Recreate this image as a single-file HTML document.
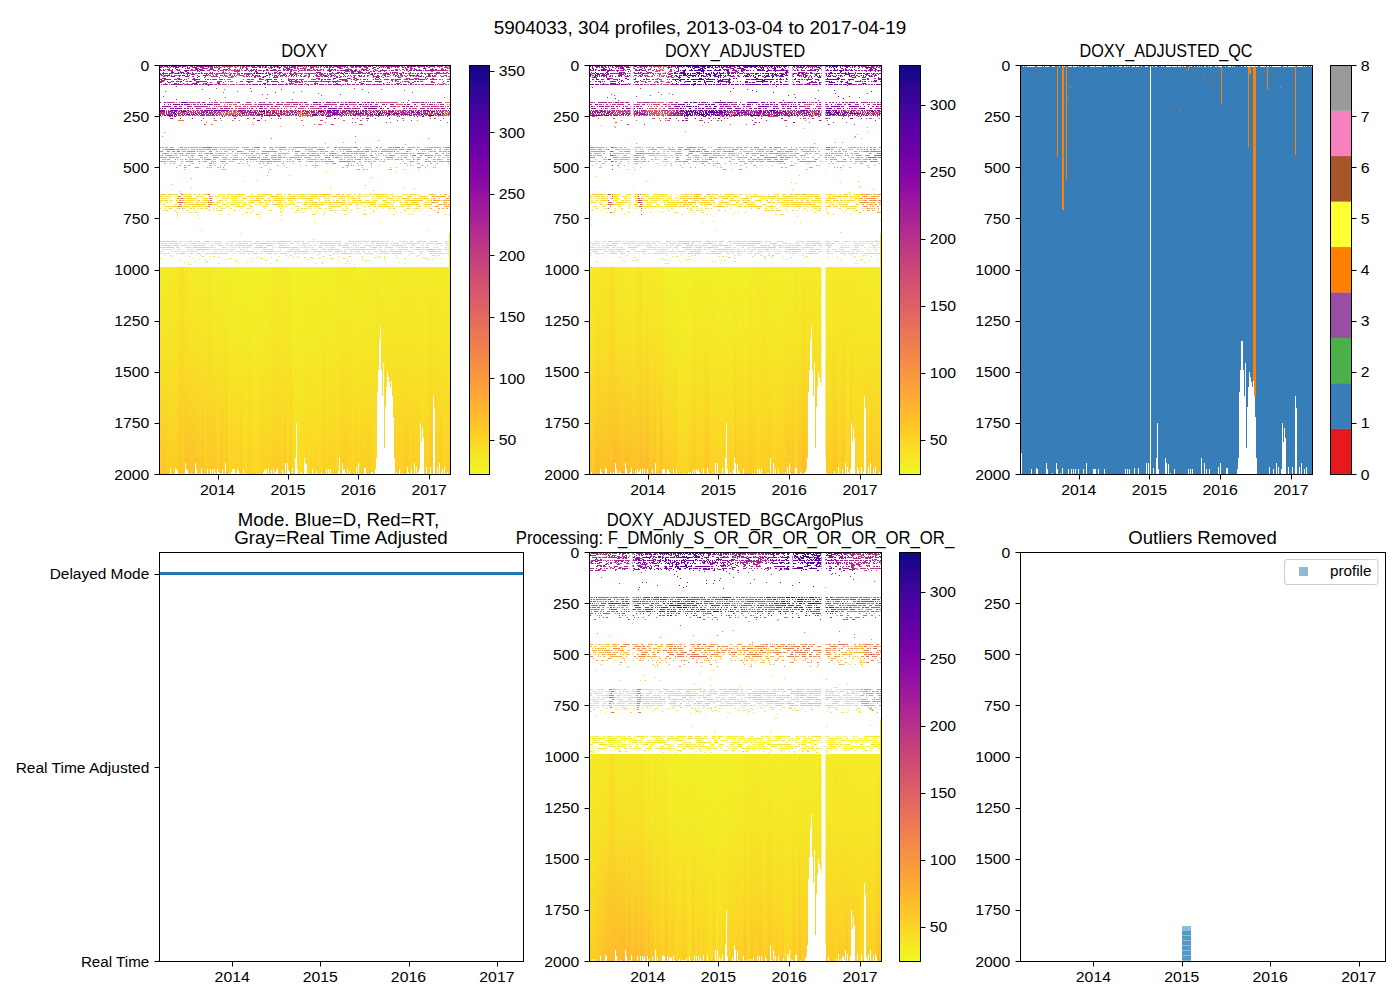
<!DOCTYPE html><html><head><meta charset="utf-8"><style>html,body{margin:0;padding:0;background:#fff;overflow:hidden}svg{display:block}</style></head><body><svg width="1400" height="1000" viewBox="0 0 1400 1000"><defs><linearGradient id="h1ga" gradientUnits="userSpaceOnUse" x1="159" y1="0" x2="451" y2="0"><stop offset="0.0017" stop-color="#f4ed27"/><stop offset="0.0051" stop-color="#f4ed27"/><stop offset="0.0086" stop-color="#f4ed27"/><stop offset="0.0120" stop-color="#f5eb27"/><stop offset="0.0154" stop-color="#f4ed27"/><stop offset="0.0188" stop-color="#f5eb27"/><stop offset="0.0223" stop-color="#f5e926"/><stop offset="0.0257" stop-color="#f5eb27"/><stop offset="0.0291" stop-color="#f5eb27"/><stop offset="0.0325" stop-color="#f5eb27"/><stop offset="0.0360" stop-color="#f5e926"/><stop offset="0.0394" stop-color="#f5e926"/><stop offset="0.0428" stop-color="#f5eb27"/><stop offset="0.0462" stop-color="#f5e926"/><stop offset="0.0497" stop-color="#f5eb27"/><stop offset="0.0531" stop-color="#f5eb27"/><stop offset="0.0565" stop-color="#f5e926"/><stop offset="0.0599" stop-color="#f5e926"/><stop offset="0.0634" stop-color="#f5e926"/><stop offset="0.0668" stop-color="#f6e826"/><stop offset="0.0702" stop-color="#f6e626"/><stop offset="0.0736" stop-color="#f7e225"/><stop offset="0.0771" stop-color="#f8df25"/><stop offset="0.0805" stop-color="#f8e125"/><stop offset="0.0839" stop-color="#f7e425"/><stop offset="0.0873" stop-color="#f6e826"/><stop offset="0.0908" stop-color="#f5e926"/><stop offset="0.0942" stop-color="#f5e926"/><stop offset="0.0976" stop-color="#f5eb27"/><stop offset="0.1010" stop-color="#f5eb27"/><stop offset="0.1045" stop-color="#f4ed27"/><stop offset="0.1079" stop-color="#f4ed27"/><stop offset="0.1113" stop-color="#f5eb27"/><stop offset="0.1147" stop-color="#f4ed27"/><stop offset="0.1182" stop-color="#f5eb27"/><stop offset="0.1216" stop-color="#f5eb27"/><stop offset="0.1250" stop-color="#f4ed27"/><stop offset="0.1284" stop-color="#f4ed27"/><stop offset="0.1318" stop-color="#f5eb27"/><stop offset="0.1353" stop-color="#f5eb27"/><stop offset="0.1387" stop-color="#f4ed27"/><stop offset="0.1421" stop-color="#f4ed27"/><stop offset="0.1455" stop-color="#f4ed27"/><stop offset="0.1490" stop-color="#f5eb27"/><stop offset="0.1524" stop-color="#f4ed27"/><stop offset="0.1558" stop-color="#f4ed27"/><stop offset="0.1592" stop-color="#f5e926"/><stop offset="0.1627" stop-color="#f5eb27"/><stop offset="0.1661" stop-color="#f5e926"/><stop offset="0.1695" stop-color="#f5e926"/><stop offset="0.1729" stop-color="#f5e926"/><stop offset="0.1764" stop-color="#f5e926"/><stop offset="0.1798" stop-color="#f5eb27"/><stop offset="0.1832" stop-color="#f3ee27"/><stop offset="0.1866" stop-color="#f3ee27"/><stop offset="0.1901" stop-color="#f4ed27"/><stop offset="0.1935" stop-color="#f3f027"/><stop offset="0.1969" stop-color="#f3ee27"/><stop offset="0.2003" stop-color="#f3ee27"/><stop offset="0.2038" stop-color="#f3ee27"/><stop offset="0.2072" stop-color="#f3ee27"/><stop offset="0.2106" stop-color="#f3f027"/><stop offset="0.2140" stop-color="#f4ed27"/><stop offset="0.2175" stop-color="#f4ed27"/><stop offset="0.2209" stop-color="#f3f027"/><stop offset="0.2243" stop-color="#f3f027"/><stop offset="0.2277" stop-color="#f3ee27"/><stop offset="0.2312" stop-color="#f5eb27"/><stop offset="0.2346" stop-color="#f3ee27"/><stop offset="0.2380" stop-color="#f3f027"/><stop offset="0.2414" stop-color="#f3ee27"/><stop offset="0.2449" stop-color="#f3f027"/><stop offset="0.2483" stop-color="#f3f027"/><stop offset="0.2517" stop-color="#f2f227"/><stop offset="0.2551" stop-color="#f3f027"/><stop offset="0.2586" stop-color="#f3f027"/><stop offset="0.2620" stop-color="#f2f227"/><stop offset="0.2654" stop-color="#f3f027"/><stop offset="0.2688" stop-color="#f3f027"/><stop offset="0.2723" stop-color="#f2f227"/><stop offset="0.2757" stop-color="#f3f027"/><stop offset="0.2791" stop-color="#f3ee27"/><stop offset="0.2825" stop-color="#f3f027"/><stop offset="0.2860" stop-color="#f2f227"/><stop offset="0.2894" stop-color="#f2f227"/><stop offset="0.2928" stop-color="#f3f027"/><stop offset="0.2962" stop-color="#f3f027"/><stop offset="0.2997" stop-color="#f3ee27"/><stop offset="0.3031" stop-color="#f3f027"/><stop offset="0.3065" stop-color="#f3f027"/><stop offset="0.3099" stop-color="#f3f027"/><stop offset="0.3134" stop-color="#f3ee27"/><stop offset="0.3168" stop-color="#f2f227"/><stop offset="0.3202" stop-color="#f3f027"/><stop offset="0.3236" stop-color="#f2f227"/><stop offset="0.3271" stop-color="#f2f227"/><stop offset="0.3305" stop-color="#f2f227"/><stop offset="0.3339" stop-color="#f3f027"/><stop offset="0.3373" stop-color="#f2f227"/><stop offset="0.3408" stop-color="#f2f227"/><stop offset="0.3442" stop-color="#f2f227"/><stop offset="0.3476" stop-color="#f3f027"/><stop offset="0.3510" stop-color="#f3f027"/><stop offset="0.3545" stop-color="#f2f227"/><stop offset="0.3579" stop-color="#f3f027"/><stop offset="0.3613" stop-color="#f3f027"/><stop offset="0.3647" stop-color="#f2f227"/><stop offset="0.3682" stop-color="#f3f027"/><stop offset="0.3716" stop-color="#f2f227"/><stop offset="0.3750" stop-color="#f3ee27"/><stop offset="0.3784" stop-color="#f3ee27"/><stop offset="0.3818" stop-color="#f3ee27"/><stop offset="0.3853" stop-color="#f3ee27"/><stop offset="0.3887" stop-color="#f4ed27"/><stop offset="0.3921" stop-color="#f3ee27"/><stop offset="0.3955" stop-color="#f5eb27"/><stop offset="0.3990" stop-color="#f5eb27"/><stop offset="0.4024" stop-color="#f5eb27"/><stop offset="0.4058" stop-color="#f5eb27"/><stop offset="0.4092" stop-color="#f5eb27"/><stop offset="0.4127" stop-color="#f4ed27"/><stop offset="0.4161" stop-color="#f3ee27"/><stop offset="0.4195" stop-color="#f4ed27"/><stop offset="0.4229" stop-color="#f4ed27"/><stop offset="0.4264" stop-color="#f3ee27"/><stop offset="0.4298" stop-color="#f4ed27"/><stop offset="0.4332" stop-color="#f4ed27"/><stop offset="0.4366" stop-color="#f3ee27"/><stop offset="0.4401" stop-color="#f5eb27"/><stop offset="0.4435" stop-color="#f3ee27"/><stop offset="0.4469" stop-color="#f3ee27"/><stop offset="0.4503" stop-color="#f4ed27"/><stop offset="0.4538" stop-color="#f3ee27"/><stop offset="0.4572" stop-color="#f2f227"/><stop offset="0.4606" stop-color="#f2f227"/><stop offset="0.4640" stop-color="#f2f227"/><stop offset="0.4675" stop-color="#f2f227"/><stop offset="0.4709" stop-color="#f3ee27"/><stop offset="0.4743" stop-color="#f3f027"/><stop offset="0.4777" stop-color="#f2f227"/><stop offset="0.4812" stop-color="#f2f227"/><stop offset="0.4846" stop-color="#f3f027"/><stop offset="0.4880" stop-color="#f2f227"/><stop offset="0.4914" stop-color="#f2f227"/><stop offset="0.4949" stop-color="#f2f227"/><stop offset="0.4983" stop-color="#f2f227"/><stop offset="0.5017" stop-color="#f3f027"/><stop offset="0.5051" stop-color="#f3f027"/><stop offset="0.5086" stop-color="#f3f027"/><stop offset="0.5120" stop-color="#f3ee27"/><stop offset="0.5154" stop-color="#f2f227"/><stop offset="0.5188" stop-color="#f3f027"/><stop offset="0.5223" stop-color="#f3f027"/><stop offset="0.5257" stop-color="#f2f227"/><stop offset="0.5291" stop-color="#f3f027"/><stop offset="0.5325" stop-color="#f3ee27"/><stop offset="0.5360" stop-color="#f2f227"/><stop offset="0.5394" stop-color="#f3f027"/><stop offset="0.5428" stop-color="#f2f227"/><stop offset="0.5462" stop-color="#f3f027"/><stop offset="0.5497" stop-color="#f3ee27"/><stop offset="0.5531" stop-color="#f3ee27"/><stop offset="0.5565" stop-color="#f3ee27"/><stop offset="0.5599" stop-color="#f3f027"/><stop offset="0.5634" stop-color="#f3ee27"/><stop offset="0.5668" stop-color="#f3ee27"/><stop offset="0.5702" stop-color="#f3f027"/><stop offset="0.5736" stop-color="#f3f027"/><stop offset="0.5771" stop-color="#f2f227"/><stop offset="0.5805" stop-color="#f3f027"/><stop offset="0.5839" stop-color="#f3f027"/><stop offset="0.5873" stop-color="#f3f027"/><stop offset="0.5908" stop-color="#f3f027"/><stop offset="0.5942" stop-color="#f2f227"/><stop offset="0.5976" stop-color="#f2f227"/><stop offset="0.6010" stop-color="#f3f027"/><stop offset="0.6045" stop-color="#f3f027"/><stop offset="0.6079" stop-color="#f3ee27"/><stop offset="0.6113" stop-color="#f4ed27"/><stop offset="0.6147" stop-color="#f3ee27"/><stop offset="0.6182" stop-color="#f3ee27"/><stop offset="0.6216" stop-color="#f3ee27"/><stop offset="0.6250" stop-color="#f3ee27"/><stop offset="0.6284" stop-color="#f3ee27"/><stop offset="0.6318" stop-color="#f3ee27"/><stop offset="0.6353" stop-color="#f3ee27"/><stop offset="0.6387" stop-color="#f4ed27"/><stop offset="0.6421" stop-color="#f4ed27"/><stop offset="0.6455" stop-color="#f3ee27"/><stop offset="0.6490" stop-color="#f3ee27"/><stop offset="0.6524" stop-color="#f3ee27"/><stop offset="0.6558" stop-color="#f3ee27"/><stop offset="0.6592" stop-color="#f3f027"/><stop offset="0.6627" stop-color="#f3ee27"/><stop offset="0.6661" stop-color="#f5eb27"/><stop offset="0.6695" stop-color="#f3f027"/><stop offset="0.6729" stop-color="#f4ed27"/><stop offset="0.6764" stop-color="#f3f027"/><stop offset="0.6798" stop-color="#f3f027"/><stop offset="0.6832" stop-color="#f3f027"/><stop offset="0.6866" stop-color="#f3ee27"/><stop offset="0.6901" stop-color="#f3f027"/><stop offset="0.6935" stop-color="#f3ee27"/><stop offset="0.6969" stop-color="#f3ee27"/><stop offset="0.7003" stop-color="#f3f027"/><stop offset="0.7038" stop-color="#f3f027"/><stop offset="0.7072" stop-color="#f3f027"/><stop offset="0.7106" stop-color="#f3ee27"/><stop offset="0.7140" stop-color="#f4ed27"/><stop offset="0.7175" stop-color="#f3ee27"/><stop offset="0.7209" stop-color="#f3ee27"/><stop offset="0.7243" stop-color="#f3f027"/><stop offset="0.7277" stop-color="#f4ed27"/><stop offset="0.7312" stop-color="#f3ee27"/><stop offset="0.7346" stop-color="#f3f027"/><stop offset="0.7380" stop-color="#f3ee27"/><stop offset="0.7414" stop-color="#f5eb27"/><stop offset="0.7449" stop-color="#f5e926"/><stop offset="0.7483" stop-color="#f5e926"/><stop offset="0.7517" stop-color="#f5e926"/><stop offset="0.7551" stop-color="#f4ed27"/><stop offset="0.7586" stop-color="#f4ed27"/><stop offset="0.7620" stop-color="#f4ed27"/><stop offset="0.7654" stop-color="#f3ee27"/><stop offset="0.7688" stop-color="#f4ed27"/><stop offset="0.7723" stop-color="#f3ee27"/><stop offset="0.7757" stop-color="#f3ee27"/><stop offset="0.7791" stop-color="#f4ed27"/><stop offset="0.7825" stop-color="#f5eb27"/><stop offset="0.7860" stop-color="#f4ed27"/><stop offset="0.7894" stop-color="#f3ee27"/><stop offset="0.7928" stop-color="#f4ed27"/><stop offset="0.7962" stop-color="#f4ed27"/><stop offset="0.7997" stop-color="#f3ee27"/><stop offset="0.8031" stop-color="#f4ed27"/><stop offset="0.8065" stop-color="#f4ed27"/><stop offset="0.8099" stop-color="#f3ee27"/><stop offset="0.8134" stop-color="#f5eb27"/><stop offset="0.8168" stop-color="#f4ed27"/><stop offset="0.8202" stop-color="#f3ee27"/><stop offset="0.8236" stop-color="#f4ed27"/><stop offset="0.8271" stop-color="#f5eb27"/><stop offset="0.8305" stop-color="#f5eb27"/><stop offset="0.8339" stop-color="#f5eb27"/><stop offset="0.8373" stop-color="#f4ed27"/><stop offset="0.8408" stop-color="#f4ed27"/><stop offset="0.8442" stop-color="#f4ed27"/><stop offset="0.8476" stop-color="#f4ed27"/><stop offset="0.8510" stop-color="#f4ed27"/><stop offset="0.8545" stop-color="#f3ee27"/><stop offset="0.8579" stop-color="#f4ed27"/><stop offset="0.8613" stop-color="#f5eb27"/><stop offset="0.8647" stop-color="#f5e926"/><stop offset="0.8682" stop-color="#f4ed27"/><stop offset="0.8716" stop-color="#f5eb27"/><stop offset="0.8750" stop-color="#f5eb27"/><stop offset="0.8784" stop-color="#f4ed27"/><stop offset="0.8818" stop-color="#f4ed27"/><stop offset="0.8853" stop-color="#f5eb27"/><stop offset="0.8887" stop-color="#f4ed27"/><stop offset="0.8921" stop-color="#f4ed27"/><stop offset="0.8955" stop-color="#f4ed27"/><stop offset="0.8990" stop-color="#f5eb27"/><stop offset="0.9024" stop-color="#f5e926"/><stop offset="0.9058" stop-color="#f5eb27"/><stop offset="0.9092" stop-color="#f4ed27"/><stop offset="0.9127" stop-color="#f4ed27"/><stop offset="0.9161" stop-color="#f4ed27"/><stop offset="0.9195" stop-color="#f4ed27"/><stop offset="0.9229" stop-color="#f4ed27"/><stop offset="0.9264" stop-color="#f5eb27"/><stop offset="0.9298" stop-color="#f5eb27"/><stop offset="0.9332" stop-color="#f5e926"/><stop offset="0.9366" stop-color="#f5eb27"/><stop offset="0.9401" stop-color="#f4ed27"/><stop offset="0.9435" stop-color="#f5eb27"/><stop offset="0.9469" stop-color="#f5eb27"/><stop offset="0.9503" stop-color="#f4ed27"/><stop offset="0.9538" stop-color="#f5eb27"/><stop offset="0.9572" stop-color="#f5eb27"/><stop offset="0.9606" stop-color="#f4ed27"/><stop offset="0.9640" stop-color="#f4ed27"/><stop offset="0.9675" stop-color="#f4ed27"/><stop offset="0.9709" stop-color="#f4ed27"/><stop offset="0.9743" stop-color="#f4ed27"/><stop offset="0.9777" stop-color="#f5eb27"/><stop offset="0.9812" stop-color="#f4ed27"/><stop offset="0.9846" stop-color="#f4ed27"/><stop offset="0.9880" stop-color="#f3ee27"/><stop offset="0.9914" stop-color="#f3ee27"/><stop offset="0.9949" stop-color="#f4ed27"/><stop offset="0.9983" stop-color="#f4ed27"/></linearGradient><linearGradient id="h1gb" gradientUnits="userSpaceOnUse" x1="159" y1="0" x2="451" y2="0"><stop offset="0.0017" stop-color="#fdc627"/><stop offset="0.0051" stop-color="#fdc827"/><stop offset="0.0086" stop-color="#fdc827"/><stop offset="0.0120" stop-color="#fdc527"/><stop offset="0.0154" stop-color="#fdc827"/><stop offset="0.0188" stop-color="#fdc827"/><stop offset="0.0223" stop-color="#fdc328"/><stop offset="0.0257" stop-color="#fdca26"/><stop offset="0.0291" stop-color="#fccd25"/><stop offset="0.0325" stop-color="#fccd25"/><stop offset="0.0360" stop-color="#fdca26"/><stop offset="0.0394" stop-color="#fdcb26"/><stop offset="0.0428" stop-color="#fcd025"/><stop offset="0.0462" stop-color="#fcce25"/><stop offset="0.0497" stop-color="#fccd25"/><stop offset="0.0531" stop-color="#fdca26"/><stop offset="0.0565" stop-color="#fdcb26"/><stop offset="0.0599" stop-color="#fdcb26"/><stop offset="0.0634" stop-color="#fdc827"/><stop offset="0.0668" stop-color="#fdc627"/><stop offset="0.0702" stop-color="#fdc527"/><stop offset="0.0736" stop-color="#fdc328"/><stop offset="0.0771" stop-color="#fdc827"/><stop offset="0.0805" stop-color="#fdc827"/><stop offset="0.0839" stop-color="#fdc627"/><stop offset="0.0873" stop-color="#fdc229"/><stop offset="0.0908" stop-color="#febe2a"/><stop offset="0.0942" stop-color="#febd2a"/><stop offset="0.0976" stop-color="#febe2a"/><stop offset="0.1010" stop-color="#fec029"/><stop offset="0.1045" stop-color="#fec029"/><stop offset="0.1079" stop-color="#fdc229"/><stop offset="0.1113" stop-color="#fdc229"/><stop offset="0.1147" stop-color="#fdc229"/><stop offset="0.1182" stop-color="#febe2a"/><stop offset="0.1216" stop-color="#febe2a"/><stop offset="0.1250" stop-color="#fec029"/><stop offset="0.1284" stop-color="#fdc229"/><stop offset="0.1318" stop-color="#fdc527"/><stop offset="0.1353" stop-color="#fdc627"/><stop offset="0.1387" stop-color="#fdc328"/><stop offset="0.1421" stop-color="#fdc527"/><stop offset="0.1455" stop-color="#fdc627"/><stop offset="0.1490" stop-color="#fec029"/><stop offset="0.1524" stop-color="#fdc328"/><stop offset="0.1558" stop-color="#fdca26"/><stop offset="0.1592" stop-color="#fcce25"/><stop offset="0.1627" stop-color="#fdca26"/><stop offset="0.1661" stop-color="#fdc328"/><stop offset="0.1695" stop-color="#fdc627"/><stop offset="0.1729" stop-color="#fdc627"/><stop offset="0.1764" stop-color="#fdc527"/><stop offset="0.1798" stop-color="#fdc627"/><stop offset="0.1832" stop-color="#fdc627"/><stop offset="0.1866" stop-color="#fdc627"/><stop offset="0.1901" stop-color="#fdc328"/><stop offset="0.1935" stop-color="#fdc627"/><stop offset="0.1969" stop-color="#fdcb26"/><stop offset="0.2003" stop-color="#fdcb26"/><stop offset="0.2038" stop-color="#fcce25"/><stop offset="0.2072" stop-color="#fccd25"/><stop offset="0.2106" stop-color="#fdc827"/><stop offset="0.2140" stop-color="#fdc328"/><stop offset="0.2175" stop-color="#fdc328"/><stop offset="0.2209" stop-color="#fdcb26"/><stop offset="0.2243" stop-color="#fdcb26"/><stop offset="0.2277" stop-color="#fdc627"/><stop offset="0.2312" stop-color="#fec029"/><stop offset="0.2346" stop-color="#fdc827"/><stop offset="0.2380" stop-color="#fcd025"/><stop offset="0.2414" stop-color="#fbd324"/><stop offset="0.2449" stop-color="#fcd225"/><stop offset="0.2483" stop-color="#fcd025"/><stop offset="0.2517" stop-color="#fcd025"/><stop offset="0.2551" stop-color="#fcd025"/><stop offset="0.2586" stop-color="#fcd225"/><stop offset="0.2620" stop-color="#fcd025"/><stop offset="0.2654" stop-color="#fcd025"/><stop offset="0.2688" stop-color="#fcd025"/><stop offset="0.2723" stop-color="#fcd225"/><stop offset="0.2757" stop-color="#fcce25"/><stop offset="0.2791" stop-color="#fccd25"/><stop offset="0.2825" stop-color="#fcce25"/><stop offset="0.2860" stop-color="#fcd225"/><stop offset="0.2894" stop-color="#fbd324"/><stop offset="0.2928" stop-color="#fcd225"/><stop offset="0.2962" stop-color="#fad824"/><stop offset="0.2997" stop-color="#fada24"/><stop offset="0.3031" stop-color="#fcd025"/><stop offset="0.3065" stop-color="#fcd025"/><stop offset="0.3099" stop-color="#fcce25"/><stop offset="0.3134" stop-color="#fccd25"/><stop offset="0.3168" stop-color="#fbd724"/><stop offset="0.3202" stop-color="#fad824"/><stop offset="0.3236" stop-color="#fbd324"/><stop offset="0.3271" stop-color="#fbd524"/><stop offset="0.3305" stop-color="#fbd724"/><stop offset="0.3339" stop-color="#fada24"/><stop offset="0.3373" stop-color="#fbd324"/><stop offset="0.3408" stop-color="#fcd225"/><stop offset="0.3442" stop-color="#fbd724"/><stop offset="0.3476" stop-color="#fcce25"/><stop offset="0.3510" stop-color="#fccd25"/><stop offset="0.3545" stop-color="#fcd225"/><stop offset="0.3579" stop-color="#fcce25"/><stop offset="0.3613" stop-color="#fcce25"/><stop offset="0.3647" stop-color="#fcd025"/><stop offset="0.3682" stop-color="#fcce25"/><stop offset="0.3716" stop-color="#fcce25"/><stop offset="0.3750" stop-color="#fcd225"/><stop offset="0.3784" stop-color="#fcd225"/><stop offset="0.3818" stop-color="#fcce25"/><stop offset="0.3853" stop-color="#fdcb26"/><stop offset="0.3887" stop-color="#fdc827"/><stop offset="0.3921" stop-color="#fdca26"/><stop offset="0.3955" stop-color="#fccd25"/><stop offset="0.3990" stop-color="#fdcb26"/><stop offset="0.4024" stop-color="#fdcb26"/><stop offset="0.4058" stop-color="#fdcb26"/><stop offset="0.4092" stop-color="#fccd25"/><stop offset="0.4127" stop-color="#fccd25"/><stop offset="0.4161" stop-color="#fdcb26"/><stop offset="0.4195" stop-color="#fcce25"/><stop offset="0.4229" stop-color="#fcd025"/><stop offset="0.4264" stop-color="#fcce25"/><stop offset="0.4298" stop-color="#fdca26"/><stop offset="0.4332" stop-color="#fdc827"/><stop offset="0.4366" stop-color="#fccd25"/><stop offset="0.4401" stop-color="#fad824"/><stop offset="0.4435" stop-color="#fbd524"/><stop offset="0.4469" stop-color="#fdcb26"/><stop offset="0.4503" stop-color="#fdc827"/><stop offset="0.4538" stop-color="#fdcb26"/><stop offset="0.4572" stop-color="#fcd225"/><stop offset="0.4606" stop-color="#fbd524"/><stop offset="0.4640" stop-color="#fbd724"/><stop offset="0.4675" stop-color="#fad824"/><stop offset="0.4709" stop-color="#f9dd25"/><stop offset="0.4743" stop-color="#f9dc24"/><stop offset="0.4777" stop-color="#fad824"/><stop offset="0.4812" stop-color="#f9dc24"/><stop offset="0.4846" stop-color="#f9dc24"/><stop offset="0.4880" stop-color="#fada24"/><stop offset="0.4914" stop-color="#fbd524"/><stop offset="0.4949" stop-color="#fbd724"/><stop offset="0.4983" stop-color="#fbd724"/><stop offset="0.5017" stop-color="#fcd225"/><stop offset="0.5051" stop-color="#fcd025"/><stop offset="0.5086" stop-color="#fcd225"/><stop offset="0.5120" stop-color="#fada24"/><stop offset="0.5154" stop-color="#fbd524"/><stop offset="0.5188" stop-color="#fcd025"/><stop offset="0.5223" stop-color="#fcd225"/><stop offset="0.5257" stop-color="#fbd524"/><stop offset="0.5291" stop-color="#fad824"/><stop offset="0.5325" stop-color="#fad824"/><stop offset="0.5360" stop-color="#fbd324"/><stop offset="0.5394" stop-color="#fcd025"/><stop offset="0.5428" stop-color="#fcd225"/><stop offset="0.5462" stop-color="#fbd524"/><stop offset="0.5497" stop-color="#fbd724"/><stop offset="0.5531" stop-color="#fbd724"/><stop offset="0.5565" stop-color="#fbd724"/><stop offset="0.5599" stop-color="#fbd324"/><stop offset="0.5634" stop-color="#fdcb26"/><stop offset="0.5668" stop-color="#fccd25"/><stop offset="0.5702" stop-color="#fcd025"/><stop offset="0.5736" stop-color="#fbd524"/><stop offset="0.5771" stop-color="#fcd225"/><stop offset="0.5805" stop-color="#fcce25"/><stop offset="0.5839" stop-color="#fcd025"/><stop offset="0.5873" stop-color="#fcd025"/><stop offset="0.5908" stop-color="#fcd025"/><stop offset="0.5942" stop-color="#fcd225"/><stop offset="0.5976" stop-color="#fcd025"/><stop offset="0.6010" stop-color="#fcd025"/><stop offset="0.6045" stop-color="#fcce25"/><stop offset="0.6079" stop-color="#fbd524"/><stop offset="0.6113" stop-color="#fad824"/><stop offset="0.6147" stop-color="#fbd324"/><stop offset="0.6182" stop-color="#fcd225"/><stop offset="0.6216" stop-color="#fcd025"/><stop offset="0.6250" stop-color="#fdcb26"/><stop offset="0.6284" stop-color="#fdcb26"/><stop offset="0.6318" stop-color="#fdcb26"/><stop offset="0.6353" stop-color="#fccd25"/><stop offset="0.6387" stop-color="#fdc827"/><stop offset="0.6421" stop-color="#fdc827"/><stop offset="0.6455" stop-color="#fccd25"/><stop offset="0.6490" stop-color="#fcce25"/><stop offset="0.6524" stop-color="#fcce25"/><stop offset="0.6558" stop-color="#fcce25"/><stop offset="0.6592" stop-color="#fcce25"/><stop offset="0.6627" stop-color="#fcd225"/><stop offset="0.6661" stop-color="#fada24"/><stop offset="0.6695" stop-color="#fccd25"/><stop offset="0.6729" stop-color="#fdca26"/><stop offset="0.6764" stop-color="#fcd025"/><stop offset="0.6798" stop-color="#fcd225"/><stop offset="0.6832" stop-color="#fcd225"/><stop offset="0.6866" stop-color="#fbd324"/><stop offset="0.6901" stop-color="#fcce25"/><stop offset="0.6935" stop-color="#fccd25"/><stop offset="0.6969" stop-color="#fccd25"/><stop offset="0.7003" stop-color="#fcce25"/><stop offset="0.7038" stop-color="#fcd025"/><stop offset="0.7072" stop-color="#fcd025"/><stop offset="0.7106" stop-color="#fdcb26"/><stop offset="0.7140" stop-color="#fdca26"/><stop offset="0.7175" stop-color="#fdca26"/><stop offset="0.7209" stop-color="#fdcb26"/><stop offset="0.7243" stop-color="#fcce25"/><stop offset="0.7277" stop-color="#fbd324"/><stop offset="0.7312" stop-color="#fcd025"/><stop offset="0.7346" stop-color="#fcce25"/><stop offset="0.7380" stop-color="#fcce25"/><stop offset="0.7414" stop-color="#fbd524"/><stop offset="0.7449" stop-color="#fad824"/><stop offset="0.7483" stop-color="#fbd724"/><stop offset="0.7517" stop-color="#fbd724"/><stop offset="0.7551" stop-color="#fcce25"/><stop offset="0.7586" stop-color="#fdc527"/><stop offset="0.7620" stop-color="#fdc627"/><stop offset="0.7654" stop-color="#fdca26"/><stop offset="0.7688" stop-color="#fccd25"/><stop offset="0.7723" stop-color="#fdcb26"/><stop offset="0.7757" stop-color="#fdca26"/><stop offset="0.7791" stop-color="#fdc627"/><stop offset="0.7825" stop-color="#fdc527"/><stop offset="0.7860" stop-color="#fdc627"/><stop offset="0.7894" stop-color="#fdca26"/><stop offset="0.7928" stop-color="#fcd025"/><stop offset="0.7962" stop-color="#fccd25"/><stop offset="0.7997" stop-color="#fdc827"/><stop offset="0.8031" stop-color="#fdc827"/><stop offset="0.8065" stop-color="#fdc827"/><stop offset="0.8099" stop-color="#fdca26"/><stop offset="0.8134" stop-color="#fcd025"/><stop offset="0.8168" stop-color="#fccd25"/><stop offset="0.8202" stop-color="#fdca26"/><stop offset="0.8236" stop-color="#fccd25"/><stop offset="0.8271" stop-color="#fcce25"/><stop offset="0.8305" stop-color="#fcce25"/><stop offset="0.8339" stop-color="#fcce25"/><stop offset="0.8373" stop-color="#fdcb26"/><stop offset="0.8408" stop-color="#fdc827"/><stop offset="0.8442" stop-color="#fdc827"/><stop offset="0.8476" stop-color="#fdc827"/><stop offset="0.8510" stop-color="#fdca26"/><stop offset="0.8545" stop-color="#fdca26"/><stop offset="0.8579" stop-color="#fccd25"/><stop offset="0.8613" stop-color="#fcd025"/><stop offset="0.8647" stop-color="#fbd324"/><stop offset="0.8682" stop-color="#fccd25"/><stop offset="0.8716" stop-color="#fdc827"/><stop offset="0.8750" stop-color="#fdca26"/><stop offset="0.8784" stop-color="#fcce25"/><stop offset="0.8818" stop-color="#fcd025"/><stop offset="0.8853" stop-color="#fdca26"/><stop offset="0.8887" stop-color="#fdcb26"/><stop offset="0.8921" stop-color="#fccd25"/><stop offset="0.8955" stop-color="#fccd25"/><stop offset="0.8990" stop-color="#fbd324"/><stop offset="0.9024" stop-color="#fbd724"/><stop offset="0.9058" stop-color="#fcd225"/><stop offset="0.9092" stop-color="#fcce25"/><stop offset="0.9127" stop-color="#fcce25"/><stop offset="0.9161" stop-color="#fcd025"/><stop offset="0.9195" stop-color="#fcce25"/><stop offset="0.9229" stop-color="#fdcb26"/><stop offset="0.9264" stop-color="#fdc827"/><stop offset="0.9298" stop-color="#fdc527"/><stop offset="0.9332" stop-color="#fdc328"/><stop offset="0.9366" stop-color="#fdc527"/><stop offset="0.9401" stop-color="#fcce25"/><stop offset="0.9435" stop-color="#fcd025"/><stop offset="0.9469" stop-color="#fdc627"/><stop offset="0.9503" stop-color="#fdcb26"/><stop offset="0.9538" stop-color="#fcce25"/><stop offset="0.9572" stop-color="#fcce25"/><stop offset="0.9606" stop-color="#fdc827"/><stop offset="0.9640" stop-color="#fdc627"/><stop offset="0.9675" stop-color="#fdcb26"/><stop offset="0.9709" stop-color="#fdcb26"/><stop offset="0.9743" stop-color="#fccd25"/><stop offset="0.9777" stop-color="#fcd225"/><stop offset="0.9812" stop-color="#fcd025"/><stop offset="0.9846" stop-color="#fcce25"/><stop offset="0.9880" stop-color="#fccd25"/><stop offset="0.9914" stop-color="#fdca26"/><stop offset="0.9949" stop-color="#fdca26"/><stop offset="0.9983" stop-color="#fdc827"/></linearGradient><linearGradient id="h1gm" gradientUnits="userSpaceOnUse" x1="0" y1="267" x2="0" y2="474"><stop offset="0" stop-color="#fff" stop-opacity="0"/><stop offset="0.35" stop-color="#fff" stop-opacity="0.2"/><stop offset="0.7" stop-color="#fff" stop-opacity="0.6"/><stop offset="1" stop-color="#fff" stop-opacity="1"/></linearGradient><mask id="h1mk" maskUnits="userSpaceOnUse" x="159" y="267" width="292" height="207"><rect x="159" y="267" width="292" height="207" fill="url(#h1gm)"/></mask><linearGradient id="h2ga" gradientUnits="userSpaceOnUse" x1="589" y1="0" x2="882" y2="0"><stop offset="0.0017" stop-color="#f5e926"/><stop offset="0.0051" stop-color="#f5eb27"/><stop offset="0.0085" stop-color="#f4ed27"/><stop offset="0.0119" stop-color="#f5eb27"/><stop offset="0.0154" stop-color="#f5e926"/><stop offset="0.0188" stop-color="#f5e926"/><stop offset="0.0222" stop-color="#f6e826"/><stop offset="0.0256" stop-color="#f6e826"/><stop offset="0.0290" stop-color="#f6e826"/><stop offset="0.0324" stop-color="#f6e826"/><stop offset="0.0358" stop-color="#f6e626"/><stop offset="0.0392" stop-color="#f5e926"/><stop offset="0.0427" stop-color="#f7e425"/><stop offset="0.0461" stop-color="#f5e926"/><stop offset="0.0495" stop-color="#f6e826"/><stop offset="0.0529" stop-color="#f5e926"/><stop offset="0.0563" stop-color="#f5e926"/><stop offset="0.0597" stop-color="#f6e826"/><stop offset="0.0631" stop-color="#f6e626"/><stop offset="0.0666" stop-color="#f6e626"/><stop offset="0.0700" stop-color="#f7e425"/><stop offset="0.0734" stop-color="#f8df25"/><stop offset="0.0768" stop-color="#f9dd25"/><stop offset="0.0802" stop-color="#f8e125"/><stop offset="0.0836" stop-color="#f7e225"/><stop offset="0.0870" stop-color="#f6e626"/><stop offset="0.0904" stop-color="#f6e826"/><stop offset="0.0939" stop-color="#f6e826"/><stop offset="0.0973" stop-color="#f5e926"/><stop offset="0.1007" stop-color="#f5eb27"/><stop offset="0.1041" stop-color="#f5eb27"/><stop offset="0.1075" stop-color="#f5e926"/><stop offset="0.1109" stop-color="#f5eb27"/><stop offset="0.1143" stop-color="#f5eb27"/><stop offset="0.1177" stop-color="#f5eb27"/><stop offset="0.1212" stop-color="#f5eb27"/><stop offset="0.1246" stop-color="#f5e926"/><stop offset="0.1280" stop-color="#f5eb27"/><stop offset="0.1314" stop-color="#f5eb27"/><stop offset="0.1348" stop-color="#f5eb27"/><stop offset="0.1382" stop-color="#f4ed27"/><stop offset="0.1416" stop-color="#f4ed27"/><stop offset="0.1451" stop-color="#f4ed27"/><stop offset="0.1485" stop-color="#f5eb27"/><stop offset="0.1519" stop-color="#f4ed27"/><stop offset="0.1553" stop-color="#f4ed27"/><stop offset="0.1587" stop-color="#f5eb27"/><stop offset="0.1621" stop-color="#f5eb27"/><stop offset="0.1655" stop-color="#f5e926"/><stop offset="0.1689" stop-color="#f6e626"/><stop offset="0.1724" stop-color="#f6e626"/><stop offset="0.1758" stop-color="#f7e425"/><stop offset="0.1792" stop-color="#f6e826"/><stop offset="0.1826" stop-color="#f5e926"/><stop offset="0.1860" stop-color="#f5eb27"/><stop offset="0.1894" stop-color="#f5eb27"/><stop offset="0.1928" stop-color="#f4ed27"/><stop offset="0.1962" stop-color="#f5eb27"/><stop offset="0.1997" stop-color="#f6e826"/><stop offset="0.2031" stop-color="#f5e926"/><stop offset="0.2065" stop-color="#f4ed27"/><stop offset="0.2099" stop-color="#f5e926"/><stop offset="0.2133" stop-color="#f5eb27"/><stop offset="0.2167" stop-color="#f4ed27"/><stop offset="0.2201" stop-color="#f4ed27"/><stop offset="0.2235" stop-color="#f5eb27"/><stop offset="0.2270" stop-color="#f5eb27"/><stop offset="0.2304" stop-color="#f5eb27"/><stop offset="0.2338" stop-color="#f6e826"/><stop offset="0.2372" stop-color="#f6e826"/><stop offset="0.2406" stop-color="#f4ed27"/><stop offset="0.2440" stop-color="#f5eb27"/><stop offset="0.2474" stop-color="#f5eb27"/><stop offset="0.2509" stop-color="#f4ed27"/><stop offset="0.2543" stop-color="#f4ed27"/><stop offset="0.2577" stop-color="#f4ed27"/><stop offset="0.2611" stop-color="#f3f027"/><stop offset="0.2645" stop-color="#f3f027"/><stop offset="0.2679" stop-color="#f3f027"/><stop offset="0.2713" stop-color="#f3f027"/><stop offset="0.2747" stop-color="#f3f027"/><stop offset="0.2782" stop-color="#f3f027"/><stop offset="0.2816" stop-color="#f3f027"/><stop offset="0.2850" stop-color="#f2f227"/><stop offset="0.2884" stop-color="#f3f027"/><stop offset="0.2918" stop-color="#f4ed27"/><stop offset="0.2952" stop-color="#f3f027"/><stop offset="0.2986" stop-color="#f3f027"/><stop offset="0.3020" stop-color="#f3f027"/><stop offset="0.3055" stop-color="#f3f027"/><stop offset="0.3089" stop-color="#f2f227"/><stop offset="0.3123" stop-color="#f3f027"/><stop offset="0.3157" stop-color="#f2f227"/><stop offset="0.3191" stop-color="#f2f227"/><stop offset="0.3225" stop-color="#f2f227"/><stop offset="0.3259" stop-color="#f2f227"/><stop offset="0.3294" stop-color="#f2f227"/><stop offset="0.3328" stop-color="#f2f227"/><stop offset="0.3362" stop-color="#f2f227"/><stop offset="0.3396" stop-color="#f2f227"/><stop offset="0.3430" stop-color="#f2f227"/><stop offset="0.3464" stop-color="#f3f027"/><stop offset="0.3498" stop-color="#f3f027"/><stop offset="0.3532" stop-color="#f2f227"/><stop offset="0.3567" stop-color="#f3f027"/><stop offset="0.3601" stop-color="#f3ee27"/><stop offset="0.3635" stop-color="#f3ee27"/><stop offset="0.3669" stop-color="#f4ed27"/><stop offset="0.3703" stop-color="#f3ee27"/><stop offset="0.3737" stop-color="#f3f027"/><stop offset="0.3771" stop-color="#f3f027"/><stop offset="0.3805" stop-color="#f3ee27"/><stop offset="0.3840" stop-color="#f3ee27"/><stop offset="0.3874" stop-color="#f3ee27"/><stop offset="0.3908" stop-color="#f3f027"/><stop offset="0.3942" stop-color="#f4ed27"/><stop offset="0.3976" stop-color="#f3f027"/><stop offset="0.4010" stop-color="#f3ee27"/><stop offset="0.4044" stop-color="#f4ed27"/><stop offset="0.4078" stop-color="#f3ee27"/><stop offset="0.4113" stop-color="#f3f027"/><stop offset="0.4147" stop-color="#f3f027"/><stop offset="0.4181" stop-color="#f3ee27"/><stop offset="0.4215" stop-color="#f3ee27"/><stop offset="0.4249" stop-color="#f3ee27"/><stop offset="0.4283" stop-color="#f3f027"/><stop offset="0.4317" stop-color="#f3f027"/><stop offset="0.4352" stop-color="#f3f027"/><stop offset="0.4386" stop-color="#f3f027"/><stop offset="0.4420" stop-color="#f2f227"/><stop offset="0.4454" stop-color="#f2f227"/><stop offset="0.4488" stop-color="#f3f027"/><stop offset="0.4522" stop-color="#f3f027"/><stop offset="0.4556" stop-color="#f3f027"/><stop offset="0.4590" stop-color="#f3f027"/><stop offset="0.4625" stop-color="#f3f027"/><stop offset="0.4659" stop-color="#f3f027"/><stop offset="0.4693" stop-color="#f3f027"/><stop offset="0.4727" stop-color="#f3f027"/><stop offset="0.4761" stop-color="#f3f027"/><stop offset="0.4795" stop-color="#f3f027"/><stop offset="0.4829" stop-color="#f3f027"/><stop offset="0.4863" stop-color="#f3f027"/><stop offset="0.4898" stop-color="#f3ee27"/><stop offset="0.4932" stop-color="#f3f027"/><stop offset="0.4966" stop-color="#f3ee27"/><stop offset="0.5000" stop-color="#f5eb27"/><stop offset="0.5034" stop-color="#f3f027"/><stop offset="0.5068" stop-color="#f3f027"/><stop offset="0.5102" stop-color="#f3ee27"/><stop offset="0.5137" stop-color="#f2f227"/><stop offset="0.5171" stop-color="#f2f227"/><stop offset="0.5205" stop-color="#f3f027"/><stop offset="0.5239" stop-color="#f3ee27"/><stop offset="0.5273" stop-color="#f3ee27"/><stop offset="0.5307" stop-color="#f2f227"/><stop offset="0.5341" stop-color="#f3ee27"/><stop offset="0.5375" stop-color="#f3f027"/><stop offset="0.5410" stop-color="#f3f027"/><stop offset="0.5444" stop-color="#f3f027"/><stop offset="0.5478" stop-color="#f3ee27"/><stop offset="0.5512" stop-color="#f4ed27"/><stop offset="0.5546" stop-color="#f3ee27"/><stop offset="0.5580" stop-color="#f3ee27"/><stop offset="0.5614" stop-color="#f3f027"/><stop offset="0.5648" stop-color="#f3f027"/><stop offset="0.5683" stop-color="#f3f027"/><stop offset="0.5717" stop-color="#f3ee27"/><stop offset="0.5751" stop-color="#f4ed27"/><stop offset="0.5785" stop-color="#f5eb27"/><stop offset="0.5819" stop-color="#f5eb27"/><stop offset="0.5853" stop-color="#f4ed27"/><stop offset="0.5887" stop-color="#f4ed27"/><stop offset="0.5922" stop-color="#f4ed27"/><stop offset="0.5956" stop-color="#f5e926"/><stop offset="0.5990" stop-color="#f5e926"/><stop offset="0.6024" stop-color="#f5e926"/><stop offset="0.6058" stop-color="#f5eb27"/><stop offset="0.6092" stop-color="#f4ed27"/><stop offset="0.6126" stop-color="#f4ed27"/><stop offset="0.6160" stop-color="#f3ee27"/><stop offset="0.6195" stop-color="#f3ee27"/><stop offset="0.6229" stop-color="#f3ee27"/><stop offset="0.6263" stop-color="#f3f027"/><stop offset="0.6297" stop-color="#f3f027"/><stop offset="0.6331" stop-color="#f3ee27"/><stop offset="0.6365" stop-color="#f3ee27"/><stop offset="0.6399" stop-color="#f3f027"/><stop offset="0.6433" stop-color="#f3f027"/><stop offset="0.6468" stop-color="#f3f027"/><stop offset="0.6502" stop-color="#f3ee27"/><stop offset="0.6536" stop-color="#f3ee27"/><stop offset="0.6570" stop-color="#f4ed27"/><stop offset="0.6604" stop-color="#f4ed27"/><stop offset="0.6638" stop-color="#f3f027"/><stop offset="0.6672" stop-color="#f3ee27"/><stop offset="0.6706" stop-color="#f3f027"/><stop offset="0.6741" stop-color="#f3f027"/><stop offset="0.6775" stop-color="#f4ed27"/><stop offset="0.6809" stop-color="#f4ed27"/><stop offset="0.6843" stop-color="#f3ee27"/><stop offset="0.6877" stop-color="#f3ee27"/><stop offset="0.6911" stop-color="#f3ee27"/><stop offset="0.6945" stop-color="#f4ed27"/><stop offset="0.6980" stop-color="#f4ed27"/><stop offset="0.7014" stop-color="#f3ee27"/><stop offset="0.7048" stop-color="#f5eb27"/><stop offset="0.7082" stop-color="#f6e626"/><stop offset="0.7116" stop-color="#f5eb27"/><stop offset="0.7150" stop-color="#f4ed27"/><stop offset="0.7184" stop-color="#f4ed27"/><stop offset="0.7218" stop-color="#f5eb27"/><stop offset="0.7253" stop-color="#f4ed27"/><stop offset="0.7287" stop-color="#f5e926"/><stop offset="0.7321" stop-color="#f6e826"/><stop offset="0.7355" stop-color="#f5e926"/><stop offset="0.7389" stop-color="#f5eb27"/><stop offset="0.7423" stop-color="#f5eb27"/><stop offset="0.7457" stop-color="#f5eb27"/><stop offset="0.7491" stop-color="#f5e926"/><stop offset="0.7526" stop-color="#f5e926"/><stop offset="0.7560" stop-color="#f5eb27"/><stop offset="0.7594" stop-color="#f5eb27"/><stop offset="0.7628" stop-color="#f5eb27"/><stop offset="0.7662" stop-color="#f4ed27"/><stop offset="0.7696" stop-color="#f5e926"/><stop offset="0.7730" stop-color="#f5eb27"/><stop offset="0.7765" stop-color="#f4ed27"/><stop offset="0.7799" stop-color="#f4ed27"/><stop offset="0.7833" stop-color="#f5eb27"/><stop offset="0.7867" stop-color="#f4ed27"/><stop offset="0.7901" stop-color="#f3ee27"/><stop offset="0.7935" stop-color="#f4ed27"/><stop offset="0.7969" stop-color="#f4ed27"/><stop offset="0.8003" stop-color="#f4ed27"/><stop offset="0.8038" stop-color="#f3ee27"/><stop offset="0.8072" stop-color="#f3ee27"/><stop offset="0.8106" stop-color="#f4ed27"/><stop offset="0.8140" stop-color="#f3ee27"/><stop offset="0.8174" stop-color="#f3ee27"/><stop offset="0.8208" stop-color="#f4ed27"/><stop offset="0.8242" stop-color="#f5eb27"/><stop offset="0.8276" stop-color="#f3ee27"/><stop offset="0.8311" stop-color="#f5eb27"/><stop offset="0.8345" stop-color="#f4ed27"/><stop offset="0.8379" stop-color="#f5e926"/><stop offset="0.8413" stop-color="#f6e826"/><stop offset="0.8447" stop-color="#f4ed27"/><stop offset="0.8481" stop-color="#f4ed27"/><stop offset="0.8515" stop-color="#f4ed27"/><stop offset="0.8549" stop-color="#f6e826"/><stop offset="0.8584" stop-color="#f5eb27"/><stop offset="0.8618" stop-color="#f5eb27"/><stop offset="0.8652" stop-color="#f5eb27"/><stop offset="0.8686" stop-color="#f5e926"/><stop offset="0.8720" stop-color="#f5e926"/><stop offset="0.8754" stop-color="#f4ed27"/><stop offset="0.8788" stop-color="#f5e926"/><stop offset="0.8823" stop-color="#f6e826"/><stop offset="0.8857" stop-color="#f6e826"/><stop offset="0.8891" stop-color="#f4ed27"/><stop offset="0.8925" stop-color="#f6e826"/><stop offset="0.8959" stop-color="#f5e926"/><stop offset="0.8993" stop-color="#f4ed27"/><stop offset="0.9027" stop-color="#f5e926"/><stop offset="0.9061" stop-color="#f5e926"/><stop offset="0.9096" stop-color="#f5eb27"/><stop offset="0.9130" stop-color="#f5eb27"/><stop offset="0.9164" stop-color="#f4ed27"/><stop offset="0.9198" stop-color="#f5eb27"/><stop offset="0.9232" stop-color="#f5eb27"/><stop offset="0.9266" stop-color="#f5eb27"/><stop offset="0.9300" stop-color="#f5e926"/><stop offset="0.9334" stop-color="#f5e926"/><stop offset="0.9369" stop-color="#f5eb27"/><stop offset="0.9403" stop-color="#f4ed27"/><stop offset="0.9437" stop-color="#f5eb27"/><stop offset="0.9471" stop-color="#f4ed27"/><stop offset="0.9505" stop-color="#f4ed27"/><stop offset="0.9539" stop-color="#f4ed27"/><stop offset="0.9573" stop-color="#f5eb27"/><stop offset="0.9608" stop-color="#f4ed27"/><stop offset="0.9642" stop-color="#f5eb27"/><stop offset="0.9676" stop-color="#f5eb27"/><stop offset="0.9710" stop-color="#f3ee27"/><stop offset="0.9744" stop-color="#f4ed27"/><stop offset="0.9778" stop-color="#f3ee27"/><stop offset="0.9812" stop-color="#f3ee27"/><stop offset="0.9846" stop-color="#f3ee27"/><stop offset="0.9881" stop-color="#f3ee27"/><stop offset="0.9915" stop-color="#f4ed27"/><stop offset="0.9949" stop-color="#f3ee27"/><stop offset="0.9983" stop-color="#f5eb27"/></linearGradient><linearGradient id="h2gb" gradientUnits="userSpaceOnUse" x1="589" y1="0" x2="882" y2="0"><stop offset="0.0017" stop-color="#fccd25"/><stop offset="0.0051" stop-color="#fdc627"/><stop offset="0.0085" stop-color="#fdc527"/><stop offset="0.0119" stop-color="#fdc527"/><stop offset="0.0154" stop-color="#fdca26"/><stop offset="0.0188" stop-color="#fdc627"/><stop offset="0.0222" stop-color="#febd2a"/><stop offset="0.0256" stop-color="#feba2c"/><stop offset="0.0290" stop-color="#febb2b"/><stop offset="0.0324" stop-color="#febd2a"/><stop offset="0.0358" stop-color="#feba2c"/><stop offset="0.0392" stop-color="#febe2a"/><stop offset="0.0427" stop-color="#fdc827"/><stop offset="0.0461" stop-color="#febe2a"/><stop offset="0.0495" stop-color="#febb2b"/><stop offset="0.0529" stop-color="#febd2a"/><stop offset="0.0563" stop-color="#febe2a"/><stop offset="0.0597" stop-color="#febe2a"/><stop offset="0.0631" stop-color="#fec029"/><stop offset="0.0666" stop-color="#febb2b"/><stop offset="0.0700" stop-color="#febd2a"/><stop offset="0.0734" stop-color="#fec029"/><stop offset="0.0768" stop-color="#fec029"/><stop offset="0.0802" stop-color="#febd2a"/><stop offset="0.0836" stop-color="#feb82c"/><stop offset="0.0870" stop-color="#feb82c"/><stop offset="0.0904" stop-color="#feb82c"/><stop offset="0.0939" stop-color="#feb82c"/><stop offset="0.0973" stop-color="#feba2c"/><stop offset="0.1007" stop-color="#feba2c"/><stop offset="0.1041" stop-color="#febb2b"/><stop offset="0.1075" stop-color="#fec029"/><stop offset="0.1109" stop-color="#febe2a"/><stop offset="0.1143" stop-color="#febb2b"/><stop offset="0.1177" stop-color="#fec029"/><stop offset="0.1212" stop-color="#febd2a"/><stop offset="0.1246" stop-color="#feba2c"/><stop offset="0.1280" stop-color="#febb2b"/><stop offset="0.1314" stop-color="#febb2b"/><stop offset="0.1348" stop-color="#febb2b"/><stop offset="0.1382" stop-color="#febd2a"/><stop offset="0.1416" stop-color="#febe2a"/><stop offset="0.1451" stop-color="#febe2a"/><stop offset="0.1485" stop-color="#fdc229"/><stop offset="0.1519" stop-color="#febe2a"/><stop offset="0.1553" stop-color="#febe2a"/><stop offset="0.1587" stop-color="#fdc229"/><stop offset="0.1621" stop-color="#fec029"/><stop offset="0.1655" stop-color="#fec029"/><stop offset="0.1689" stop-color="#fdc328"/><stop offset="0.1724" stop-color="#febb2b"/><stop offset="0.1758" stop-color="#feb72d"/><stop offset="0.1792" stop-color="#feba2c"/><stop offset="0.1826" stop-color="#febb2b"/><stop offset="0.1860" stop-color="#febb2b"/><stop offset="0.1894" stop-color="#febb2b"/><stop offset="0.1928" stop-color="#febd2a"/><stop offset="0.1962" stop-color="#febb2b"/><stop offset="0.1997" stop-color="#fdb52e"/><stop offset="0.2031" stop-color="#feba2c"/><stop offset="0.2065" stop-color="#fec029"/><stop offset="0.2099" stop-color="#fdc827"/><stop offset="0.2133" stop-color="#fdc527"/><stop offset="0.2167" stop-color="#fdc328"/><stop offset="0.2201" stop-color="#fec029"/><stop offset="0.2235" stop-color="#febd2a"/><stop offset="0.2270" stop-color="#febe2a"/><stop offset="0.2304" stop-color="#fdc627"/><stop offset="0.2338" stop-color="#fcce25"/><stop offset="0.2372" stop-color="#fccd25"/><stop offset="0.2406" stop-color="#fdc229"/><stop offset="0.2440" stop-color="#febd2a"/><stop offset="0.2474" stop-color="#febe2a"/><stop offset="0.2509" stop-color="#fdc229"/><stop offset="0.2543" stop-color="#fdcb26"/><stop offset="0.2577" stop-color="#fccd25"/><stop offset="0.2611" stop-color="#fdc827"/><stop offset="0.2645" stop-color="#fdca26"/><stop offset="0.2679" stop-color="#fdca26"/><stop offset="0.2713" stop-color="#fdca26"/><stop offset="0.2747" stop-color="#fdca26"/><stop offset="0.2782" stop-color="#fdca26"/><stop offset="0.2816" stop-color="#fdcb26"/><stop offset="0.2850" stop-color="#fcce25"/><stop offset="0.2884" stop-color="#fdcb26"/><stop offset="0.2918" stop-color="#fdc527"/><stop offset="0.2952" stop-color="#fccd25"/><stop offset="0.2986" stop-color="#fcce25"/><stop offset="0.3020" stop-color="#fcce25"/><stop offset="0.3055" stop-color="#fbd524"/><stop offset="0.3089" stop-color="#fbd524"/><stop offset="0.3123" stop-color="#fcd025"/><stop offset="0.3157" stop-color="#fbd524"/><stop offset="0.3191" stop-color="#fbd524"/><stop offset="0.3225" stop-color="#fbd324"/><stop offset="0.3259" stop-color="#fbd524"/><stop offset="0.3294" stop-color="#fbd324"/><stop offset="0.3328" stop-color="#fcd225"/><stop offset="0.3362" stop-color="#fcd225"/><stop offset="0.3396" stop-color="#fcd225"/><stop offset="0.3430" stop-color="#fcd025"/><stop offset="0.3464" stop-color="#fdcb26"/><stop offset="0.3498" stop-color="#fdcb26"/><stop offset="0.3532" stop-color="#fccd25"/><stop offset="0.3567" stop-color="#fdca26"/><stop offset="0.3601" stop-color="#fdc627"/><stop offset="0.3635" stop-color="#fdc827"/><stop offset="0.3669" stop-color="#fbd324"/><stop offset="0.3703" stop-color="#fcd225"/><stop offset="0.3737" stop-color="#fccd25"/><stop offset="0.3771" stop-color="#fccd25"/><stop offset="0.3805" stop-color="#fcce25"/><stop offset="0.3840" stop-color="#fcd225"/><stop offset="0.3874" stop-color="#fcd025"/><stop offset="0.3908" stop-color="#fdca26"/><stop offset="0.3942" stop-color="#fdc627"/><stop offset="0.3976" stop-color="#fdcb26"/><stop offset="0.4010" stop-color="#fdc627"/><stop offset="0.4044" stop-color="#fdc328"/><stop offset="0.4078" stop-color="#fdc827"/><stop offset="0.4113" stop-color="#fdcb26"/><stop offset="0.4147" stop-color="#fcce25"/><stop offset="0.4181" stop-color="#fcd225"/><stop offset="0.4215" stop-color="#fbd324"/><stop offset="0.4249" stop-color="#fbd324"/><stop offset="0.4283" stop-color="#fcd025"/><stop offset="0.4317" stop-color="#fccd25"/><stop offset="0.4352" stop-color="#fccd25"/><stop offset="0.4386" stop-color="#fcd225"/><stop offset="0.4420" stop-color="#fcce25"/><stop offset="0.4454" stop-color="#fcce25"/><stop offset="0.4488" stop-color="#fbd324"/><stop offset="0.4522" stop-color="#fbd324"/><stop offset="0.4556" stop-color="#fcd225"/><stop offset="0.4590" stop-color="#fcd225"/><stop offset="0.4625" stop-color="#fcd225"/><stop offset="0.4659" stop-color="#fcd025"/><stop offset="0.4693" stop-color="#fccd25"/><stop offset="0.4727" stop-color="#fcce25"/><stop offset="0.4761" stop-color="#fcd025"/><stop offset="0.4795" stop-color="#fcd225"/><stop offset="0.4829" stop-color="#fdcb26"/><stop offset="0.4863" stop-color="#fccd25"/><stop offset="0.4898" stop-color="#fbd524"/><stop offset="0.4932" stop-color="#fcd025"/><stop offset="0.4966" stop-color="#fdca26"/><stop offset="0.5000" stop-color="#fdc527"/><stop offset="0.5034" stop-color="#fccd25"/><stop offset="0.5068" stop-color="#fcce25"/><stop offset="0.5102" stop-color="#fdca26"/><stop offset="0.5137" stop-color="#fcce25"/><stop offset="0.5171" stop-color="#fcce25"/><stop offset="0.5205" stop-color="#fdcb26"/><stop offset="0.5239" stop-color="#fdc827"/><stop offset="0.5273" stop-color="#fdca26"/><stop offset="0.5307" stop-color="#fcce25"/><stop offset="0.5341" stop-color="#fbd324"/><stop offset="0.5375" stop-color="#fcd225"/><stop offset="0.5410" stop-color="#fdcb26"/><stop offset="0.5444" stop-color="#fdcb26"/><stop offset="0.5478" stop-color="#fdc827"/><stop offset="0.5512" stop-color="#fdc627"/><stop offset="0.5546" stop-color="#fdc827"/><stop offset="0.5580" stop-color="#fdca26"/><stop offset="0.5614" stop-color="#fdcb26"/><stop offset="0.5648" stop-color="#fccd25"/><stop offset="0.5683" stop-color="#fcce25"/><stop offset="0.5717" stop-color="#fcd025"/><stop offset="0.5751" stop-color="#fcd025"/><stop offset="0.5785" stop-color="#fcd225"/><stop offset="0.5819" stop-color="#fcd225"/><stop offset="0.5853" stop-color="#fccd25"/><stop offset="0.5887" stop-color="#fdcb26"/><stop offset="0.5922" stop-color="#fdcb26"/><stop offset="0.5956" stop-color="#fcce25"/><stop offset="0.5990" stop-color="#fcce25"/><stop offset="0.6024" stop-color="#fcce25"/><stop offset="0.6058" stop-color="#fccd25"/><stop offset="0.6092" stop-color="#fccd25"/><stop offset="0.6126" stop-color="#fdcb26"/><stop offset="0.6160" stop-color="#fdcb26"/><stop offset="0.6195" stop-color="#fccd25"/><stop offset="0.6229" stop-color="#fcce25"/><stop offset="0.6263" stop-color="#fdcb26"/><stop offset="0.6297" stop-color="#fcce25"/><stop offset="0.6331" stop-color="#fcd225"/><stop offset="0.6365" stop-color="#fcd225"/><stop offset="0.6399" stop-color="#fcce25"/><stop offset="0.6433" stop-color="#fccd25"/><stop offset="0.6468" stop-color="#fcce25"/><stop offset="0.6502" stop-color="#fdcb26"/><stop offset="0.6536" stop-color="#fdcb26"/><stop offset="0.6570" stop-color="#fbd324"/><stop offset="0.6604" stop-color="#fcd225"/><stop offset="0.6638" stop-color="#fccd25"/><stop offset="0.6672" stop-color="#fdc827"/><stop offset="0.6706" stop-color="#fdcb26"/><stop offset="0.6741" stop-color="#fdcb26"/><stop offset="0.6775" stop-color="#fdc328"/><stop offset="0.6809" stop-color="#fdc328"/><stop offset="0.6843" stop-color="#fdc627"/><stop offset="0.6877" stop-color="#fdc827"/><stop offset="0.6911" stop-color="#fdc627"/><stop offset="0.6945" stop-color="#fdc527"/><stop offset="0.6980" stop-color="#fdc328"/><stop offset="0.7014" stop-color="#fdc627"/><stop offset="0.7048" stop-color="#fccd25"/><stop offset="0.7082" stop-color="#fbd524"/><stop offset="0.7116" stop-color="#fdca26"/><stop offset="0.7150" stop-color="#fdc229"/><stop offset="0.7184" stop-color="#fdc328"/><stop offset="0.7218" stop-color="#fdc527"/><stop offset="0.7253" stop-color="#fdc328"/><stop offset="0.7287" stop-color="#febd2a"/><stop offset="0.7321" stop-color="#febb2b"/><stop offset="0.7355" stop-color="#febd2a"/><stop offset="0.7389" stop-color="#fdc229"/><stop offset="0.7423" stop-color="#fdc527"/><stop offset="0.7457" stop-color="#fdc328"/><stop offset="0.7491" stop-color="#febd2a"/><stop offset="0.7526" stop-color="#febe2a"/><stop offset="0.7560" stop-color="#fec029"/><stop offset="0.7594" stop-color="#fdc229"/><stop offset="0.7628" stop-color="#fdc527"/><stop offset="0.7662" stop-color="#fdc229"/><stop offset="0.7696" stop-color="#febb2b"/><stop offset="0.7730" stop-color="#fec029"/><stop offset="0.7765" stop-color="#fdc229"/><stop offset="0.7799" stop-color="#fdc328"/><stop offset="0.7833" stop-color="#fec029"/><stop offset="0.7867" stop-color="#fdc328"/><stop offset="0.7901" stop-color="#fdc827"/><stop offset="0.7935" stop-color="#fdc527"/><stop offset="0.7969" stop-color="#fdc527"/><stop offset="0.8003" stop-color="#fdc627"/><stop offset="0.8038" stop-color="#fdcb26"/><stop offset="0.8072" stop-color="#fdcb26"/><stop offset="0.8106" stop-color="#fdc827"/><stop offset="0.8140" stop-color="#fdc827"/><stop offset="0.8174" stop-color="#fdca26"/><stop offset="0.8208" stop-color="#fccd25"/><stop offset="0.8242" stop-color="#fcce25"/><stop offset="0.8276" stop-color="#fdca26"/><stop offset="0.8311" stop-color="#fdc328"/><stop offset="0.8345" stop-color="#fdc627"/><stop offset="0.8379" stop-color="#fdc229"/><stop offset="0.8413" stop-color="#febe2a"/><stop offset="0.8447" stop-color="#fdcb26"/><stop offset="0.8481" stop-color="#fdcb26"/><stop offset="0.8515" stop-color="#fdc827"/><stop offset="0.8549" stop-color="#fbd324"/><stop offset="0.8584" stop-color="#fcce25"/><stop offset="0.8618" stop-color="#fdc627"/><stop offset="0.8652" stop-color="#fdc627"/><stop offset="0.8686" stop-color="#fdc527"/><stop offset="0.8720" stop-color="#fdc627"/><stop offset="0.8754" stop-color="#fcce25"/><stop offset="0.8788" stop-color="#fbd524"/><stop offset="0.8823" stop-color="#fad824"/><stop offset="0.8857" stop-color="#fbd724"/><stop offset="0.8891" stop-color="#fccd25"/><stop offset="0.8925" stop-color="#fdc328"/><stop offset="0.8959" stop-color="#fdc527"/><stop offset="0.8993" stop-color="#fccd25"/><stop offset="0.9027" stop-color="#fbd324"/><stop offset="0.9061" stop-color="#fbd324"/><stop offset="0.9096" stop-color="#fcd225"/><stop offset="0.9130" stop-color="#fcd025"/><stop offset="0.9164" stop-color="#fcce25"/><stop offset="0.9198" stop-color="#fcd025"/><stop offset="0.9232" stop-color="#fcd225"/><stop offset="0.9266" stop-color="#fcd225"/><stop offset="0.9300" stop-color="#fbd324"/><stop offset="0.9334" stop-color="#fbd524"/><stop offset="0.9369" stop-color="#fcce25"/><stop offset="0.9403" stop-color="#fdc827"/><stop offset="0.9437" stop-color="#fdc627"/><stop offset="0.9471" stop-color="#fccd25"/><stop offset="0.9505" stop-color="#fdc827"/><stop offset="0.9539" stop-color="#fdc827"/><stop offset="0.9573" stop-color="#fcd025"/><stop offset="0.9608" stop-color="#fdc827"/><stop offset="0.9642" stop-color="#fdc328"/><stop offset="0.9676" stop-color="#fdc527"/><stop offset="0.9710" stop-color="#fdca26"/><stop offset="0.9744" stop-color="#fdcb26"/><stop offset="0.9778" stop-color="#fdc827"/><stop offset="0.9812" stop-color="#fdc827"/><stop offset="0.9846" stop-color="#fdc827"/><stop offset="0.9881" stop-color="#fdc827"/><stop offset="0.9915" stop-color="#fccd25"/><stop offset="0.9949" stop-color="#fdca26"/><stop offset="0.9983" stop-color="#fdc229"/></linearGradient><linearGradient id="h2gm" gradientUnits="userSpaceOnUse" x1="0" y1="267" x2="0" y2="474"><stop offset="0" stop-color="#fff" stop-opacity="0"/><stop offset="0.35" stop-color="#fff" stop-opacity="0.2"/><stop offset="0.7" stop-color="#fff" stop-opacity="0.6"/><stop offset="1" stop-color="#fff" stop-opacity="1"/></linearGradient><mask id="h2mk" maskUnits="userSpaceOnUse" x="589" y="267" width="293" height="207"><rect x="589" y="267" width="293" height="207" fill="url(#h2gm)"/></mask><linearGradient id="h5ga" gradientUnits="userSpaceOnUse" x1="589" y1="0" x2="882" y2="0"><stop offset="0.0017" stop-color="#f4ed27"/><stop offset="0.0051" stop-color="#f4ed27"/><stop offset="0.0085" stop-color="#f4ed27"/><stop offset="0.0119" stop-color="#f5e926"/><stop offset="0.0154" stop-color="#f5eb27"/><stop offset="0.0188" stop-color="#f5eb27"/><stop offset="0.0222" stop-color="#f5eb27"/><stop offset="0.0256" stop-color="#f6e826"/><stop offset="0.0290" stop-color="#f6e826"/><stop offset="0.0324" stop-color="#f5eb27"/><stop offset="0.0358" stop-color="#f5e926"/><stop offset="0.0392" stop-color="#f5e926"/><stop offset="0.0427" stop-color="#f6e826"/><stop offset="0.0461" stop-color="#f5e926"/><stop offset="0.0495" stop-color="#f5e926"/><stop offset="0.0529" stop-color="#f6e826"/><stop offset="0.0563" stop-color="#f5e926"/><stop offset="0.0597" stop-color="#f5e926"/><stop offset="0.0631" stop-color="#f6e826"/><stop offset="0.0666" stop-color="#f6e626"/><stop offset="0.0700" stop-color="#f7e225"/><stop offset="0.0734" stop-color="#f8e125"/><stop offset="0.0768" stop-color="#f8df25"/><stop offset="0.0802" stop-color="#f8e125"/><stop offset="0.0836" stop-color="#f7e225"/><stop offset="0.0870" stop-color="#f7e425"/><stop offset="0.0904" stop-color="#f6e826"/><stop offset="0.0939" stop-color="#f5e926"/><stop offset="0.0973" stop-color="#f5e926"/><stop offset="0.1007" stop-color="#f5e926"/><stop offset="0.1041" stop-color="#f5e926"/><stop offset="0.1075" stop-color="#f5eb27"/><stop offset="0.1109" stop-color="#f5eb27"/><stop offset="0.1143" stop-color="#f5eb27"/><stop offset="0.1177" stop-color="#f6e826"/><stop offset="0.1212" stop-color="#f5e926"/><stop offset="0.1246" stop-color="#f5eb27"/><stop offset="0.1280" stop-color="#f5e926"/><stop offset="0.1314" stop-color="#f5eb27"/><stop offset="0.1348" stop-color="#f5e926"/><stop offset="0.1382" stop-color="#f5e926"/><stop offset="0.1416" stop-color="#f5eb27"/><stop offset="0.1451" stop-color="#f5e926"/><stop offset="0.1485" stop-color="#f6e826"/><stop offset="0.1519" stop-color="#f5e926"/><stop offset="0.1553" stop-color="#f5eb27"/><stop offset="0.1587" stop-color="#f5eb27"/><stop offset="0.1621" stop-color="#f5e926"/><stop offset="0.1655" stop-color="#f6e826"/><stop offset="0.1689" stop-color="#f7e425"/><stop offset="0.1724" stop-color="#f6e626"/><stop offset="0.1758" stop-color="#f6e626"/><stop offset="0.1792" stop-color="#f6e826"/><stop offset="0.1826" stop-color="#f6e826"/><stop offset="0.1860" stop-color="#f5e926"/><stop offset="0.1894" stop-color="#f4ed27"/><stop offset="0.1928" stop-color="#f3ee27"/><stop offset="0.1962" stop-color="#f3ee27"/><stop offset="0.1997" stop-color="#f5eb27"/><stop offset="0.2031" stop-color="#f5eb27"/><stop offset="0.2065" stop-color="#f5e926"/><stop offset="0.2099" stop-color="#f3ee27"/><stop offset="0.2133" stop-color="#f3ee27"/><stop offset="0.2167" stop-color="#f3ee27"/><stop offset="0.2201" stop-color="#f3ee27"/><stop offset="0.2235" stop-color="#f5eb27"/><stop offset="0.2270" stop-color="#f5e926"/><stop offset="0.2304" stop-color="#f5eb27"/><stop offset="0.2338" stop-color="#f4ed27"/><stop offset="0.2372" stop-color="#f4ed27"/><stop offset="0.2406" stop-color="#f5eb27"/><stop offset="0.2440" stop-color="#f4ed27"/><stop offset="0.2474" stop-color="#f4ed27"/><stop offset="0.2509" stop-color="#f5eb27"/><stop offset="0.2543" stop-color="#f5eb27"/><stop offset="0.2577" stop-color="#f3ee27"/><stop offset="0.2611" stop-color="#f4ed27"/><stop offset="0.2645" stop-color="#f4ed27"/><stop offset="0.2679" stop-color="#f3f027"/><stop offset="0.2713" stop-color="#f3ee27"/><stop offset="0.2747" stop-color="#f2f227"/><stop offset="0.2782" stop-color="#f2f227"/><stop offset="0.2816" stop-color="#f3f027"/><stop offset="0.2850" stop-color="#f3f027"/><stop offset="0.2884" stop-color="#f3f027"/><stop offset="0.2918" stop-color="#f3f027"/><stop offset="0.2952" stop-color="#f3f027"/><stop offset="0.2986" stop-color="#f3f027"/><stop offset="0.3020" stop-color="#f3ee27"/><stop offset="0.3055" stop-color="#f3f027"/><stop offset="0.3089" stop-color="#f2f227"/><stop offset="0.3123" stop-color="#f3f027"/><stop offset="0.3157" stop-color="#f2f227"/><stop offset="0.3191" stop-color="#f2f227"/><stop offset="0.3225" stop-color="#f3f027"/><stop offset="0.3259" stop-color="#f3f027"/><stop offset="0.3294" stop-color="#f3f027"/><stop offset="0.3328" stop-color="#f2f227"/><stop offset="0.3362" stop-color="#f3f027"/><stop offset="0.3396" stop-color="#f4ed27"/><stop offset="0.3430" stop-color="#f4ed27"/><stop offset="0.3464" stop-color="#f3ee27"/><stop offset="0.3498" stop-color="#f2f227"/><stop offset="0.3532" stop-color="#f3f027"/><stop offset="0.3567" stop-color="#f3ee27"/><stop offset="0.3601" stop-color="#f3f027"/><stop offset="0.3635" stop-color="#f2f227"/><stop offset="0.3669" stop-color="#f3f027"/><stop offset="0.3703" stop-color="#f2f227"/><stop offset="0.3737" stop-color="#f3f027"/><stop offset="0.3771" stop-color="#f2f227"/><stop offset="0.3805" stop-color="#f2f227"/><stop offset="0.3840" stop-color="#f2f227"/><stop offset="0.3874" stop-color="#f2f227"/><stop offset="0.3908" stop-color="#f3f027"/><stop offset="0.3942" stop-color="#f3f027"/><stop offset="0.3976" stop-color="#f2f227"/><stop offset="0.4010" stop-color="#f2f227"/><stop offset="0.4044" stop-color="#f2f227"/><stop offset="0.4078" stop-color="#f2f227"/><stop offset="0.4113" stop-color="#f2f227"/><stop offset="0.4147" stop-color="#f3f027"/><stop offset="0.4181" stop-color="#f2f227"/><stop offset="0.4215" stop-color="#f2f227"/><stop offset="0.4249" stop-color="#f3f027"/><stop offset="0.4283" stop-color="#f3ee27"/><stop offset="0.4317" stop-color="#f1f426"/><stop offset="0.4352" stop-color="#f3f027"/><stop offset="0.4386" stop-color="#f3f027"/><stop offset="0.4420" stop-color="#f2f227"/><stop offset="0.4454" stop-color="#f2f227"/><stop offset="0.4488" stop-color="#f2f227"/><stop offset="0.4522" stop-color="#f2f227"/><stop offset="0.4556" stop-color="#f2f227"/><stop offset="0.4590" stop-color="#f2f227"/><stop offset="0.4625" stop-color="#f3f027"/><stop offset="0.4659" stop-color="#f2f227"/><stop offset="0.4693" stop-color="#f4ed27"/><stop offset="0.4727" stop-color="#f2f227"/><stop offset="0.4761" stop-color="#f2f227"/><stop offset="0.4795" stop-color="#f3f027"/><stop offset="0.4829" stop-color="#f3f027"/><stop offset="0.4863" stop-color="#f3f027"/><stop offset="0.4898" stop-color="#f3f027"/><stop offset="0.4932" stop-color="#f3f027"/><stop offset="0.4966" stop-color="#f3f027"/><stop offset="0.5000" stop-color="#f2f227"/><stop offset="0.5034" stop-color="#f3f027"/><stop offset="0.5068" stop-color="#f3f027"/><stop offset="0.5102" stop-color="#f4ed27"/><stop offset="0.5137" stop-color="#f2f227"/><stop offset="0.5171" stop-color="#f3f027"/><stop offset="0.5205" stop-color="#f2f227"/><stop offset="0.5239" stop-color="#f2f227"/><stop offset="0.5273" stop-color="#f3f027"/><stop offset="0.5307" stop-color="#f4ed27"/><stop offset="0.5341" stop-color="#f4ed27"/><stop offset="0.5375" stop-color="#f3ee27"/><stop offset="0.5410" stop-color="#f3ee27"/><stop offset="0.5444" stop-color="#f5eb27"/><stop offset="0.5478" stop-color="#f5eb27"/><stop offset="0.5512" stop-color="#f3ee27"/><stop offset="0.5546" stop-color="#f5eb27"/><stop offset="0.5580" stop-color="#f5eb27"/><stop offset="0.5614" stop-color="#f4ed27"/><stop offset="0.5648" stop-color="#f5eb27"/><stop offset="0.5683" stop-color="#f4ed27"/><stop offset="0.5717" stop-color="#f4ed27"/><stop offset="0.5751" stop-color="#f4ed27"/><stop offset="0.5785" stop-color="#f3ee27"/><stop offset="0.5819" stop-color="#f4ed27"/><stop offset="0.5853" stop-color="#f4ed27"/><stop offset="0.5887" stop-color="#f3ee27"/><stop offset="0.5922" stop-color="#f3ee27"/><stop offset="0.5956" stop-color="#f3f027"/><stop offset="0.5990" stop-color="#f3ee27"/><stop offset="0.6024" stop-color="#f3ee27"/><stop offset="0.6058" stop-color="#f3f027"/><stop offset="0.6092" stop-color="#f3ee27"/><stop offset="0.6126" stop-color="#f5eb27"/><stop offset="0.6160" stop-color="#f4ed27"/><stop offset="0.6195" stop-color="#f4ed27"/><stop offset="0.6229" stop-color="#f3ee27"/><stop offset="0.6263" stop-color="#f3f027"/><stop offset="0.6297" stop-color="#f3ee27"/><stop offset="0.6331" stop-color="#f3ee27"/><stop offset="0.6365" stop-color="#f3f027"/><stop offset="0.6399" stop-color="#f3f027"/><stop offset="0.6433" stop-color="#f3f027"/><stop offset="0.6468" stop-color="#f3ee27"/><stop offset="0.6502" stop-color="#f3ee27"/><stop offset="0.6536" stop-color="#f3f027"/><stop offset="0.6570" stop-color="#f3ee27"/><stop offset="0.6604" stop-color="#f4ed27"/><stop offset="0.6638" stop-color="#f3ee27"/><stop offset="0.6672" stop-color="#f5eb27"/><stop offset="0.6706" stop-color="#f4ed27"/><stop offset="0.6741" stop-color="#f3ee27"/><stop offset="0.6775" stop-color="#f3f027"/><stop offset="0.6809" stop-color="#f3ee27"/><stop offset="0.6843" stop-color="#f3ee27"/><stop offset="0.6877" stop-color="#f4ed27"/><stop offset="0.6911" stop-color="#f3ee27"/><stop offset="0.6945" stop-color="#f3f027"/><stop offset="0.6980" stop-color="#f5eb27"/><stop offset="0.7014" stop-color="#f4ed27"/><stop offset="0.7048" stop-color="#f3f027"/><stop offset="0.7082" stop-color="#f4ed27"/><stop offset="0.7116" stop-color="#f3ee27"/><stop offset="0.7150" stop-color="#f3ee27"/><stop offset="0.7184" stop-color="#f5eb27"/><stop offset="0.7218" stop-color="#f4ed27"/><stop offset="0.7253" stop-color="#f3ee27"/><stop offset="0.7287" stop-color="#f4ed27"/><stop offset="0.7321" stop-color="#f3ee27"/><stop offset="0.7355" stop-color="#f3ee27"/><stop offset="0.7389" stop-color="#f3ee27"/><stop offset="0.7423" stop-color="#f3ee27"/><stop offset="0.7457" stop-color="#f3ee27"/><stop offset="0.7491" stop-color="#f4ed27"/><stop offset="0.7526" stop-color="#f3ee27"/><stop offset="0.7560" stop-color="#f4ed27"/><stop offset="0.7594" stop-color="#f5eb27"/><stop offset="0.7628" stop-color="#f3ee27"/><stop offset="0.7662" stop-color="#f3f027"/><stop offset="0.7696" stop-color="#f3ee27"/><stop offset="0.7730" stop-color="#f3ee27"/><stop offset="0.7765" stop-color="#f3ee27"/><stop offset="0.7799" stop-color="#f4ed27"/><stop offset="0.7833" stop-color="#f5eb27"/><stop offset="0.7867" stop-color="#f5eb27"/><stop offset="0.7901" stop-color="#f5eb27"/><stop offset="0.7935" stop-color="#f3ee27"/><stop offset="0.7969" stop-color="#f4ed27"/><stop offset="0.8003" stop-color="#f4ed27"/><stop offset="0.8038" stop-color="#f4ed27"/><stop offset="0.8072" stop-color="#f4ed27"/><stop offset="0.8106" stop-color="#f4ed27"/><stop offset="0.8140" stop-color="#f3ee27"/><stop offset="0.8174" stop-color="#f3ee27"/><stop offset="0.8208" stop-color="#f4ed27"/><stop offset="0.8242" stop-color="#f4ed27"/><stop offset="0.8276" stop-color="#f4ed27"/><stop offset="0.8311" stop-color="#f4ed27"/><stop offset="0.8345" stop-color="#f5eb27"/><stop offset="0.8379" stop-color="#f5e926"/><stop offset="0.8413" stop-color="#f5e926"/><stop offset="0.8447" stop-color="#f5e926"/><stop offset="0.8481" stop-color="#f5eb27"/><stop offset="0.8515" stop-color="#f4ed27"/><stop offset="0.8549" stop-color="#f5eb27"/><stop offset="0.8584" stop-color="#f5eb27"/><stop offset="0.8618" stop-color="#f5eb27"/><stop offset="0.8652" stop-color="#f5eb27"/><stop offset="0.8686" stop-color="#f5eb27"/><stop offset="0.8720" stop-color="#f5eb27"/><stop offset="0.8754" stop-color="#f5e926"/><stop offset="0.8788" stop-color="#f4ed27"/><stop offset="0.8823" stop-color="#f5eb27"/><stop offset="0.8857" stop-color="#f5e926"/><stop offset="0.8891" stop-color="#f5eb27"/><stop offset="0.8925" stop-color="#f4ed27"/><stop offset="0.8959" stop-color="#f5eb27"/><stop offset="0.8993" stop-color="#f4ed27"/><stop offset="0.9027" stop-color="#f5eb27"/><stop offset="0.9061" stop-color="#f5eb27"/><stop offset="0.9096" stop-color="#f4ed27"/><stop offset="0.9130" stop-color="#f5eb27"/><stop offset="0.9164" stop-color="#f5eb27"/><stop offset="0.9198" stop-color="#f4ed27"/><stop offset="0.9232" stop-color="#f5eb27"/><stop offset="0.9266" stop-color="#f5eb27"/><stop offset="0.9300" stop-color="#f5eb27"/><stop offset="0.9334" stop-color="#f5eb27"/><stop offset="0.9369" stop-color="#f5eb27"/><stop offset="0.9403" stop-color="#f5eb27"/><stop offset="0.9437" stop-color="#f4ed27"/><stop offset="0.9471" stop-color="#f4ed27"/><stop offset="0.9505" stop-color="#f5eb27"/><stop offset="0.9539" stop-color="#f5eb27"/><stop offset="0.9573" stop-color="#f5eb27"/><stop offset="0.9608" stop-color="#f5eb27"/><stop offset="0.9642" stop-color="#f4ed27"/><stop offset="0.9676" stop-color="#f5eb27"/><stop offset="0.9710" stop-color="#f3ee27"/><stop offset="0.9744" stop-color="#f4ed27"/><stop offset="0.9778" stop-color="#f3ee27"/><stop offset="0.9812" stop-color="#f3ee27"/><stop offset="0.9846" stop-color="#f4ed27"/><stop offset="0.9881" stop-color="#f6e626"/><stop offset="0.9915" stop-color="#f5eb27"/><stop offset="0.9949" stop-color="#f5e926"/><stop offset="0.9983" stop-color="#f5eb27"/></linearGradient><linearGradient id="h5gb" gradientUnits="userSpaceOnUse" x1="589" y1="0" x2="882" y2="0"><stop offset="0.0017" stop-color="#fcd025"/><stop offset="0.0051" stop-color="#fdca26"/><stop offset="0.0085" stop-color="#fdca26"/><stop offset="0.0119" stop-color="#fcd025"/><stop offset="0.0154" stop-color="#fdcb26"/><stop offset="0.0188" stop-color="#fdc827"/><stop offset="0.0222" stop-color="#fdc827"/><stop offset="0.0256" stop-color="#fccd25"/><stop offset="0.0290" stop-color="#fdcb26"/><stop offset="0.0324" stop-color="#fdc527"/><stop offset="0.0358" stop-color="#fdc627"/><stop offset="0.0392" stop-color="#fdc627"/><stop offset="0.0427" stop-color="#fdc527"/><stop offset="0.0461" stop-color="#fdc328"/><stop offset="0.0495" stop-color="#fec029"/><stop offset="0.0529" stop-color="#febb2b"/><stop offset="0.0563" stop-color="#febe2a"/><stop offset="0.0597" stop-color="#febe2a"/><stop offset="0.0631" stop-color="#febb2b"/><stop offset="0.0666" stop-color="#feba2c"/><stop offset="0.0700" stop-color="#febb2b"/><stop offset="0.0734" stop-color="#febd2a"/><stop offset="0.0768" stop-color="#feba2c"/><stop offset="0.0802" stop-color="#feba2c"/><stop offset="0.0836" stop-color="#feba2c"/><stop offset="0.0870" stop-color="#fdb52e"/><stop offset="0.0904" stop-color="#feb72d"/><stop offset="0.0939" stop-color="#feba2c"/><stop offset="0.0973" stop-color="#feba2c"/><stop offset="0.1007" stop-color="#feb82c"/><stop offset="0.1041" stop-color="#feb72d"/><stop offset="0.1075" stop-color="#feb82c"/><stop offset="0.1109" stop-color="#feba2c"/><stop offset="0.1143" stop-color="#feb82c"/><stop offset="0.1177" stop-color="#fdb22f"/><stop offset="0.1212" stop-color="#fdb52e"/><stop offset="0.1246" stop-color="#febb2b"/><stop offset="0.1280" stop-color="#febe2a"/><stop offset="0.1314" stop-color="#feba2c"/><stop offset="0.1348" stop-color="#fdb52e"/><stop offset="0.1382" stop-color="#fdb42f"/><stop offset="0.1416" stop-color="#feba2c"/><stop offset="0.1451" stop-color="#febe2a"/><stop offset="0.1485" stop-color="#fdc229"/><stop offset="0.1519" stop-color="#febe2a"/><stop offset="0.1553" stop-color="#febb2b"/><stop offset="0.1587" stop-color="#feba2c"/><stop offset="0.1621" stop-color="#feb82c"/><stop offset="0.1655" stop-color="#feba2c"/><stop offset="0.1689" stop-color="#fdc527"/><stop offset="0.1724" stop-color="#febe2a"/><stop offset="0.1758" stop-color="#feba2c"/><stop offset="0.1792" stop-color="#feba2c"/><stop offset="0.1826" stop-color="#feb82c"/><stop offset="0.1860" stop-color="#feba2c"/><stop offset="0.1894" stop-color="#fdc229"/><stop offset="0.1928" stop-color="#fdc229"/><stop offset="0.1962" stop-color="#fdc328"/><stop offset="0.1997" stop-color="#fdc627"/><stop offset="0.2031" stop-color="#febd2a"/><stop offset="0.2065" stop-color="#feba2c"/><stop offset="0.2099" stop-color="#fdc527"/><stop offset="0.2133" stop-color="#fdc328"/><stop offset="0.2167" stop-color="#fdc229"/><stop offset="0.2201" stop-color="#fdc229"/><stop offset="0.2235" stop-color="#fdcb26"/><stop offset="0.2270" stop-color="#fcd025"/><stop offset="0.2304" stop-color="#fccd25"/><stop offset="0.2338" stop-color="#fdc328"/><stop offset="0.2372" stop-color="#fdc229"/><stop offset="0.2406" stop-color="#fccd25"/><stop offset="0.2440" stop-color="#fdcb26"/><stop offset="0.2474" stop-color="#fccd25"/><stop offset="0.2509" stop-color="#fcd225"/><stop offset="0.2543" stop-color="#fcd225"/><stop offset="0.2577" stop-color="#fccd25"/><stop offset="0.2611" stop-color="#fdc229"/><stop offset="0.2645" stop-color="#fdc328"/><stop offset="0.2679" stop-color="#fdc827"/><stop offset="0.2713" stop-color="#fcd025"/><stop offset="0.2747" stop-color="#fccd25"/><stop offset="0.2782" stop-color="#fccd25"/><stop offset="0.2816" stop-color="#fcce25"/><stop offset="0.2850" stop-color="#fdca26"/><stop offset="0.2884" stop-color="#fdca26"/><stop offset="0.2918" stop-color="#fcce25"/><stop offset="0.2952" stop-color="#fcd025"/><stop offset="0.2986" stop-color="#fbd324"/><stop offset="0.3020" stop-color="#fbd524"/><stop offset="0.3055" stop-color="#fcd025"/><stop offset="0.3089" stop-color="#fcd025"/><stop offset="0.3123" stop-color="#fbd324"/><stop offset="0.3157" stop-color="#fcd025"/><stop offset="0.3191" stop-color="#fcce25"/><stop offset="0.3225" stop-color="#fccd25"/><stop offset="0.3259" stop-color="#fdca26"/><stop offset="0.3294" stop-color="#fdcb26"/><stop offset="0.3328" stop-color="#fcce25"/><stop offset="0.3362" stop-color="#fbd524"/><stop offset="0.3396" stop-color="#fada24"/><stop offset="0.3430" stop-color="#f9dc24"/><stop offset="0.3464" stop-color="#fad824"/><stop offset="0.3498" stop-color="#fcd225"/><stop offset="0.3532" stop-color="#fdcb26"/><stop offset="0.3567" stop-color="#fdc827"/><stop offset="0.3601" stop-color="#fccd25"/><stop offset="0.3635" stop-color="#fbd324"/><stop offset="0.3669" stop-color="#fbd524"/><stop offset="0.3703" stop-color="#fcd025"/><stop offset="0.3737" stop-color="#fdcb26"/><stop offset="0.3771" stop-color="#fcd025"/><stop offset="0.3805" stop-color="#fbd324"/><stop offset="0.3840" stop-color="#fbd324"/><stop offset="0.3874" stop-color="#fcd225"/><stop offset="0.3908" stop-color="#fcce25"/><stop offset="0.3942" stop-color="#fccd25"/><stop offset="0.3976" stop-color="#fbd324"/><stop offset="0.4010" stop-color="#fbd724"/><stop offset="0.4044" stop-color="#fbd724"/><stop offset="0.4078" stop-color="#fcd225"/><stop offset="0.4113" stop-color="#fad824"/><stop offset="0.4147" stop-color="#f9dc24"/><stop offset="0.4181" stop-color="#fad824"/><stop offset="0.4215" stop-color="#fbd524"/><stop offset="0.4249" stop-color="#fbd324"/><stop offset="0.4283" stop-color="#fcd025"/><stop offset="0.4317" stop-color="#fad824"/><stop offset="0.4352" stop-color="#f8df25"/><stop offset="0.4386" stop-color="#f8df25"/><stop offset="0.4420" stop-color="#fada24"/><stop offset="0.4454" stop-color="#fbd724"/><stop offset="0.4488" stop-color="#fada24"/><stop offset="0.4522" stop-color="#fad824"/><stop offset="0.4556" stop-color="#fbd724"/><stop offset="0.4590" stop-color="#fbd524"/><stop offset="0.4625" stop-color="#fcd025"/><stop offset="0.4659" stop-color="#fcd225"/><stop offset="0.4693" stop-color="#f9dc24"/><stop offset="0.4727" stop-color="#fcd225"/><stop offset="0.4761" stop-color="#fcce25"/><stop offset="0.4795" stop-color="#fcd225"/><stop offset="0.4829" stop-color="#fcce25"/><stop offset="0.4863" stop-color="#fccd25"/><stop offset="0.4898" stop-color="#fccd25"/><stop offset="0.4932" stop-color="#fbd324"/><stop offset="0.4966" stop-color="#fbd324"/><stop offset="0.5000" stop-color="#fcce25"/><stop offset="0.5034" stop-color="#fccd25"/><stop offset="0.5068" stop-color="#fdcb26"/><stop offset="0.5102" stop-color="#fdc827"/><stop offset="0.5137" stop-color="#fcd025"/><stop offset="0.5171" stop-color="#fbd324"/><stop offset="0.5205" stop-color="#fcd225"/><stop offset="0.5239" stop-color="#fcd025"/><stop offset="0.5273" stop-color="#fdcb26"/><stop offset="0.5307" stop-color="#fdc527"/><stop offset="0.5341" stop-color="#fdc527"/><stop offset="0.5375" stop-color="#fdc827"/><stop offset="0.5410" stop-color="#fcd025"/><stop offset="0.5444" stop-color="#fbd324"/><stop offset="0.5478" stop-color="#fcd225"/><stop offset="0.5512" stop-color="#fdcb26"/><stop offset="0.5546" stop-color="#fdc328"/><stop offset="0.5580" stop-color="#fdc328"/><stop offset="0.5614" stop-color="#fdca26"/><stop offset="0.5648" stop-color="#fccd25"/><stop offset="0.5683" stop-color="#fdca26"/><stop offset="0.5717" stop-color="#fdc627"/><stop offset="0.5751" stop-color="#fdcb26"/><stop offset="0.5785" stop-color="#fdca26"/><stop offset="0.5819" stop-color="#fdc627"/><stop offset="0.5853" stop-color="#fdc328"/><stop offset="0.5887" stop-color="#fdc827"/><stop offset="0.5922" stop-color="#fccd25"/><stop offset="0.5956" stop-color="#fccd25"/><stop offset="0.5990" stop-color="#fcd025"/><stop offset="0.6024" stop-color="#fcd225"/><stop offset="0.6058" stop-color="#fccd25"/><stop offset="0.6092" stop-color="#fdc627"/><stop offset="0.6126" stop-color="#fdc328"/><stop offset="0.6160" stop-color="#fdc527"/><stop offset="0.6195" stop-color="#fdc627"/><stop offset="0.6229" stop-color="#fdc827"/><stop offset="0.6263" stop-color="#fdcb26"/><stop offset="0.6297" stop-color="#fcce25"/><stop offset="0.6331" stop-color="#fcce25"/><stop offset="0.6365" stop-color="#fdcb26"/><stop offset="0.6399" stop-color="#fdca26"/><stop offset="0.6433" stop-color="#fdcb26"/><stop offset="0.6468" stop-color="#fcd025"/><stop offset="0.6502" stop-color="#fcd025"/><stop offset="0.6536" stop-color="#fccd25"/><stop offset="0.6570" stop-color="#fdca26"/><stop offset="0.6604" stop-color="#fdc827"/><stop offset="0.6638" stop-color="#fdcb26"/><stop offset="0.6672" stop-color="#fad824"/><stop offset="0.6706" stop-color="#fbd724"/><stop offset="0.6741" stop-color="#fcd225"/><stop offset="0.6775" stop-color="#fcd025"/><stop offset="0.6809" stop-color="#fcd225"/><stop offset="0.6843" stop-color="#fbd324"/><stop offset="0.6877" stop-color="#fbd324"/><stop offset="0.6911" stop-color="#fcd225"/><stop offset="0.6945" stop-color="#fccd25"/><stop offset="0.6980" stop-color="#fdc527"/><stop offset="0.7014" stop-color="#fdc627"/><stop offset="0.7048" stop-color="#fdcb26"/><stop offset="0.7082" stop-color="#fcd225"/><stop offset="0.7116" stop-color="#fcce25"/><stop offset="0.7150" stop-color="#fdc827"/><stop offset="0.7184" stop-color="#febe2a"/><stop offset="0.7218" stop-color="#fdc229"/><stop offset="0.7253" stop-color="#fdc827"/><stop offset="0.7287" stop-color="#fcce25"/><stop offset="0.7321" stop-color="#fdcb26"/><stop offset="0.7355" stop-color="#fdca26"/><stop offset="0.7389" stop-color="#fdcb26"/><stop offset="0.7423" stop-color="#fdca26"/><stop offset="0.7457" stop-color="#fdca26"/><stop offset="0.7491" stop-color="#fcce25"/><stop offset="0.7526" stop-color="#fdc827"/><stop offset="0.7560" stop-color="#fdc527"/><stop offset="0.7594" stop-color="#fdc229"/><stop offset="0.7628" stop-color="#fdc627"/><stop offset="0.7662" stop-color="#fdc827"/><stop offset="0.7696" stop-color="#fdc827"/><stop offset="0.7730" stop-color="#fdc627"/><stop offset="0.7765" stop-color="#fdc827"/><stop offset="0.7799" stop-color="#fccd25"/><stop offset="0.7833" stop-color="#fcd025"/><stop offset="0.7867" stop-color="#fcd225"/><stop offset="0.7901" stop-color="#fcd025"/><stop offset="0.7935" stop-color="#fdc827"/><stop offset="0.7969" stop-color="#fdc627"/><stop offset="0.8003" stop-color="#fdc827"/><stop offset="0.8038" stop-color="#fdc527"/><stop offset="0.8072" stop-color="#fdc527"/><stop offset="0.8106" stop-color="#fdc627"/><stop offset="0.8140" stop-color="#fdc827"/><stop offset="0.8174" stop-color="#fdca26"/><stop offset="0.8208" stop-color="#fdca26"/><stop offset="0.8242" stop-color="#fdca26"/><stop offset="0.8276" stop-color="#fdca26"/><stop offset="0.8311" stop-color="#fdca26"/><stop offset="0.8345" stop-color="#fccd25"/><stop offset="0.8379" stop-color="#fcce25"/><stop offset="0.8413" stop-color="#fcd025"/><stop offset="0.8447" stop-color="#fcce25"/><stop offset="0.8481" stop-color="#fdcb26"/><stop offset="0.8515" stop-color="#fdca26"/><stop offset="0.8549" stop-color="#fdcb26"/><stop offset="0.8584" stop-color="#fdcb26"/><stop offset="0.8618" stop-color="#fdca26"/><stop offset="0.8652" stop-color="#fdca26"/><stop offset="0.8686" stop-color="#fdca26"/><stop offset="0.8720" stop-color="#fdca26"/><stop offset="0.8754" stop-color="#fccd25"/><stop offset="0.8788" stop-color="#fdc627"/><stop offset="0.8823" stop-color="#fdc328"/><stop offset="0.8857" stop-color="#fcce25"/><stop offset="0.8891" stop-color="#fccd25"/><stop offset="0.8925" stop-color="#fdca26"/><stop offset="0.8959" stop-color="#fccd25"/><stop offset="0.8993" stop-color="#fdca26"/><stop offset="0.9027" stop-color="#fdc827"/><stop offset="0.9061" stop-color="#fdc627"/><stop offset="0.9096" stop-color="#fccd25"/><stop offset="0.9130" stop-color="#fcd025"/><stop offset="0.9164" stop-color="#fdca26"/><stop offset="0.9198" stop-color="#fcce25"/><stop offset="0.9232" stop-color="#fbd324"/><stop offset="0.9266" stop-color="#fbd324"/><stop offset="0.9300" stop-color="#fcd225"/><stop offset="0.9334" stop-color="#fcd225"/><stop offset="0.9369" stop-color="#fbd524"/><stop offset="0.9403" stop-color="#fbd324"/><stop offset="0.9437" stop-color="#fcd025"/><stop offset="0.9471" stop-color="#fcd025"/><stop offset="0.9505" stop-color="#fccd25"/><stop offset="0.9539" stop-color="#fdcb26"/><stop offset="0.9573" stop-color="#fccd25"/><stop offset="0.9608" stop-color="#fdcb26"/><stop offset="0.9642" stop-color="#fccd25"/><stop offset="0.9676" stop-color="#fbd324"/><stop offset="0.9710" stop-color="#fccd25"/><stop offset="0.9744" stop-color="#fdca26"/><stop offset="0.9778" stop-color="#fdc827"/><stop offset="0.9812" stop-color="#fdca26"/><stop offset="0.9846" stop-color="#fdc527"/><stop offset="0.9881" stop-color="#feb82c"/><stop offset="0.9915" stop-color="#fdc627"/><stop offset="0.9949" stop-color="#fdcb26"/><stop offset="0.9983" stop-color="#fdc229"/></linearGradient><linearGradient id="h5gm" gradientUnits="userSpaceOnUse" x1="0" y1="754" x2="0" y2="961"><stop offset="0" stop-color="#fff" stop-opacity="0"/><stop offset="0.35" stop-color="#fff" stop-opacity="0.2"/><stop offset="0.7" stop-color="#fff" stop-opacity="0.6"/><stop offset="1" stop-color="#fff" stop-opacity="1"/></linearGradient><mask id="h5mk" maskUnits="userSpaceOnUse" x="589" y="754" width="293" height="207"><rect x="589" y="754" width="293" height="207" fill="url(#h5gm)"/></mask><linearGradient id="cg1" x1="0" y1="0" x2="0" y2="1"><stop offset="0.000" stop-color="#0d0887"/><stop offset="0.050" stop-color="#2a0593"/><stop offset="0.100" stop-color="#41049d"/><stop offset="0.150" stop-color="#5601a4"/><stop offset="0.200" stop-color="#6a00a8"/><stop offset="0.250" stop-color="#7e03a8"/><stop offset="0.300" stop-color="#8f0da4"/><stop offset="0.350" stop-color="#a11b9b"/><stop offset="0.400" stop-color="#b12a90"/><stop offset="0.450" stop-color="#bf3984"/><stop offset="0.500" stop-color="#cc4778"/><stop offset="0.550" stop-color="#d6556d"/><stop offset="0.600" stop-color="#e16462"/><stop offset="0.650" stop-color="#ea7457"/><stop offset="0.700" stop-color="#f2844b"/><stop offset="0.750" stop-color="#f89540"/><stop offset="0.800" stop-color="#fca636"/><stop offset="0.850" stop-color="#feba2c"/><stop offset="0.900" stop-color="#fcce25"/><stop offset="0.950" stop-color="#f7e425"/><stop offset="1.000" stop-color="#f0f921"/></linearGradient><linearGradient id="cg2" x1="0" y1="0" x2="0" y2="1"><stop offset="0.000" stop-color="#0d0887"/><stop offset="0.050" stop-color="#2a0593"/><stop offset="0.100" stop-color="#41049d"/><stop offset="0.150" stop-color="#5601a4"/><stop offset="0.200" stop-color="#6a00a8"/><stop offset="0.250" stop-color="#7e03a8"/><stop offset="0.300" stop-color="#8f0da4"/><stop offset="0.350" stop-color="#a11b9b"/><stop offset="0.400" stop-color="#b12a90"/><stop offset="0.450" stop-color="#bf3984"/><stop offset="0.500" stop-color="#cc4778"/><stop offset="0.550" stop-color="#d6556d"/><stop offset="0.600" stop-color="#e16462"/><stop offset="0.650" stop-color="#ea7457"/><stop offset="0.700" stop-color="#f2844b"/><stop offset="0.750" stop-color="#f89540"/><stop offset="0.800" stop-color="#fca636"/><stop offset="0.850" stop-color="#feba2c"/><stop offset="0.900" stop-color="#fcce25"/><stop offset="0.950" stop-color="#f7e425"/><stop offset="1.000" stop-color="#f0f921"/></linearGradient><linearGradient id="cg5" x1="0" y1="0" x2="0" y2="1"><stop offset="0.000" stop-color="#0d0887"/><stop offset="0.050" stop-color="#2a0593"/><stop offset="0.100" stop-color="#41049d"/><stop offset="0.150" stop-color="#5601a4"/><stop offset="0.200" stop-color="#6a00a8"/><stop offset="0.250" stop-color="#7e03a8"/><stop offset="0.300" stop-color="#8f0da4"/><stop offset="0.350" stop-color="#a11b9b"/><stop offset="0.400" stop-color="#b12a90"/><stop offset="0.450" stop-color="#bf3984"/><stop offset="0.500" stop-color="#cc4778"/><stop offset="0.550" stop-color="#d6556d"/><stop offset="0.600" stop-color="#e16462"/><stop offset="0.650" stop-color="#ea7457"/><stop offset="0.700" stop-color="#f2844b"/><stop offset="0.750" stop-color="#f89540"/><stop offset="0.800" stop-color="#fca636"/><stop offset="0.850" stop-color="#feba2c"/><stop offset="0.900" stop-color="#fcce25"/><stop offset="0.950" stop-color="#f7e425"/><stop offset="1.000" stop-color="#f0f921"/></linearGradient></defs><rect width="1400" height="1000" fill="#fff"/><path stroke="#f0f921" d="M231 202.5h11M317 210.5h1M199 218.5h1M214 241.5h1m1 0h6m5 0h2m1 0h2m1 0h2m34 0h1m36 0h1m5 0h2m3 0h1M173 243.5h1m52 0h8m82 0h1m32 0h3m29 0h2m67 0h1M283 245.5h1m42 0h1m47 0h1m74 0h2M185 247.5h1m3 0h3m36 0h1m2 0h6m65 0h9m21 0h2m79 0h1M213 249.5h1m1 0h3m2 0h1m4 0h10m149 0h2m3 0h2m2 0h1m55 0h2M214 251.5h2m1 0h1m4 0h1m2 0h2m1 0h6m7 0h3m126 0h1m34 0h1m41 0h2m1 0h1M167 253.5h1m65 0h2m66 0h7m47 0h5m20 0h1m29 0h5m35 0h1M408 255.5h1m24 0h1M213 256.5h1m74 0h1m89 0h2M310 257.5h3m84 0h1m28 0h1M229 258.5h2m82 0h1M228 259.5h1m155 0h1M237 260.5h1"/><path stroke="#f5e926" d="M228 153.5h1m1 0h3M244 181.5h1M174 194.5h1m1 0h2m40 0h3m1 0h2m72 0h2m1 0h6m68 0h1m16 0h4m3 0h1m18 0h1M226 196.5h3m2 0h6m1 0h4m66 0h1m42 0h1m25 0h2m1 0h2m1 0h3m28 0h1M159 198.5h2m62 0h2m5 0h8m13 0h1m45 0h1m34 0h1m15 0h2m28 0h2m17 0h1m1 0h1M225 200.5h2m5 0h4m1 0h2m2 0h2m4 0h2m1 0h1m29 0h1m14 0h1m9 0h1m1 0h1m3 0h1m60 0h6m13 0h1m35 0h3M159 202.5h1m67 0h2m61 0h4m8 0h1m5 0h1m11 0h1m1 0h2m1 0h1m2 0h1m20 0h3m1 0h1m2 0h3m24 0h8M227 204.5h2m2 0h1m1 0h1m3 0h3m2 0h2m118 0h1M217 206.5h4m1 0h1m3 0h3m53 0h1m12 0h1m74 0h2m27 0h1m7 0h4M194 208.5h1m5 0h1m6 0h1m16 0h1m5 0h2m9 0h1m55 0h2m5 0h3m1 0h1m9 0h4m3 0h2m19 0h2m29 0h1m41 0h1M213 210.5h1m25 0h1m70 0h1m54 0h1M177 212.5h1m67 0h1m48 0h1m8 0h1m11 0h2m84 0h1M219 214.5h1m1 0h1m7 0h1m114 0h1m21 0h1m27 0h1M198 215.5h1m82 0h1m147 0h1M260 216.5h1M281 220.5h1M314 222.5h1m65 0h1M201 230.5h1m225 0h1M240 233.5h1M165 241.5h2m2 0h1m18 0h4m2 0h1m1 0h1m15 0h1m2 0h1m16 0h1m2 0h1m1 0h1m1 0h2m2 0h6m13 0h1m3 0h3m1 0h1m5 0h1m8 0h1m4 0h1m1 0h1m1 0h2m2 0h3m8 0h2m3 0h1m3 0h5m1 0h3m1 0h4m3 0h5m1 0h1m6 0h3m4 0h6m1 0h1m1 0h1m1 0h2m13 0h4m1 0h3m3 0h1m5 0h1m1 0h2m5 0h1m2 0h1m1 0h1m18 0h2m1 0h4m6 0h4M161 243.5h6m2 0h4m1 0h7m3 0h1m2 0h2m3 0h1m5 0h1m2 0h5m2 0h1m5 0h1m1 0h6m3 0h1m10 0h1m1 0h1m6 0h3m2 0h2m2 0h4m11 0h3m1 0h2m2 0h8m1 0h1m3 0h3m4 0h2m8 0h1m12 0h1m1 0h5m1 0h2m1 0h6m21 0h1m1 0h2m4 0h1m4 0h3m9 0h1m1 0h3m3 0h1m2 0h1m1 0h1m8 0h15m6 0h7m8 0h1m3 0h5M159 245.5h1m21 0h6m16 0h1m6 0h3m1 0h1m4 0h1m2 0h1m3 0h2m1 0h5m1 0h1m20 0h7m16 0h4m1 0h2m3 0h1m12 0h4m2 0h1m1 0h2m2 0h2m3 0h3m3 0h1m1 0h2m2 0h4m13 0h1m4 0h3m1 0h2m5 0h2m1 0h4m1 0h1m3 0h2m1 0h1m3 0h5m4 0h11m1 0h2m5 0h2m1 0h1m21 0h1m4 0h1m4 0h2M167 247.5h1m9 0h1m8 0h3m21 0h4m1 0h1m6 0h4m12 0h1m2 0h1m1 0h3m2 0h1m1 0h1m21 0h1m2 0h1m2 0h1m1 0h2m2 0h1m1 0h1m1 0h2m1 0h7m2 0h1m11 0h2m12 0h1m2 0h1m1 0h1m2 0h1m7 0h7m1 0h2m1 0h1m1 0h2m1 0h1m20 0h3m3 0h8m3 0h1m1 0h2m5 0h3m2 0h2m11 0h1m1 0h4m8 0h1m7 0h2m2 0h2M162 249.5h2m1 0h2m2 0h2m17 0h1m21 0h1m3 0h1m3 0h2m2 0h2m17 0h1m1 0h1m9 0h1m3 0h1m11 0h4m7 0h1m8 0h1m2 0h3m1 0h4m5 0h3m3 0h6m5 0h4m9 0h5m5 0h2m3 0h1m1 0h5m2 0h3m2 0h1m1 0h10m2 0h3m10 0h2m5 0h10m2 0h1m2 0h2m6 0h4m10 0h2m7 0h5M159 251.5h4m12 0h2m5 0h3m5 0h7m5 0h2m7 0h1m4 0h1m3 0h1m15 0h3m22 0h1m3 0h1m1 0h1m1 0h1m4 0h1m1 0h1m1 0h3m6 0h6m20 0h7m3 0h3m1 0h5m10 0h1m7 0h3m1 0h2m2 0h1m15 0h3m8 0h1m4 0h6m1 0h1m8 0h1m1 0h5m6 0h2m1 0h1m14 0h1m1 0h2M159 253.5h3m1 0h3m2 0h1m7 0h2m11 0h1m15 0h12m1 0h10m11 0h3m1 0h2m22 0h3m1 0h1m8 0h1m1 0h5m1 0h1m5 0h2m1 0h2m11 0h1m7 0h3m4 0h1m15 0h1m1 0h1m5 0h1m1 0h1m8 0h1m3 0h2m1 0h6m4 0h1m3 0h2m4 0h1m5 0h1m27 0h2m7 0h2m1 0h2m1 0h2m1 0h5m1 0h5M165 255.5h1m120 0h1m3 0h2m25 0h1m78 0h1m21 0h2m12 0h1m2 0h1m2 0h2M189 256.5h1m24 0h1m44 0h1m19 0h1m18 0h1m24 0h2m37 0h1m21 0h1m31 0h1M159 257.5h1m58 0h1m74 0h1m3 0h1m6 0h2m14 0h1m40 0h1m13 0h2m46 0h1m11 0h1M160 258.5h1m32 0h1m125 0h1m12 0h1m10 0h2m39 0h1m20 0h1m19 0h2m14 0h1M199 259.5h1m25 0h1m50 0h1m70 0h1m14 0h1m65 0h2m2 0h1m17 0h1M179 260.5h1m55 0h1m29 0h2m9 0h2m60 0h1m26 0h2m2 0h1M205 261.5h3m28 0h1m15 0h1M184 262.5h1m3 0h1m50 0h1m7 0h1m74 0h1m76 0h1M218 263.5h1m51 0h1m44 0h1m29 0h1m2 0h1m55 0h1M190 264.5h1m163 0h1"/><path stroke="#fada24" d="M287 149.5h2M227 153.5h1m1 0h1M438 157.5h1M348 159.5h1m2 0h1M326 172.5h1M289 175.5h1M191 187.5h1m211 0h1M330 188.5h1M175 194.5h1m7 0h4m1 0h4m2 0h2m5 0h1m2 0h1m9 0h1m9 0h1m2 0h6m2 0h10m6 0h2m4 0h3m1 0h11m4 0h6m6 0h2m16 0h1m2 0h9m14 0h1m9 0h1m3 0h5m3 0h2m6 0h1m2 0h2m7 0h14m15 0h3m3 0h4m1 0h2m13 0h2M165 196.5h6m3 0h1m8 0h9m8 0h2m1 0h1m11 0h1m2 0h2m2 0h3m19 0h1m2 0h14m1 0h1m17 0h3m1 0h1m2 0h1m1 0h7m1 0h1m1 0h5m5 0h9m1 0h2m3 0h2m2 0h2m3 0h1m4 0h2m6 0h4m2 0h2m3 0h2m1 0h1m4 0h1m1 0h2m3 0h2m2 0h1m2 0h1m2 0h1m12 0h1m1 0h5m28 0h1M161 198.5h1m3 0h4m6 0h3m24 0h6m9 0h1m4 0h1m2 0h2m1 0h1m32 0h3m4 0h1m4 0h11m1 0h1m12 0h1m1 0h14m2 0h1m1 0h2m5 0h1m1 0h2m9 0h1m1 0h3m1 0h1m13 0h2m15 0h1m1 0h1m2 0h1m5 0h8m4 0h1m14 0h6M159 200.5h1m1 0h2m1 0h4m1 0h1m1 0h2m3 0h2m5 0h2m1 0h7m1 0h1m1 0h1m5 0h1m2 0h3m9 0h1m1 0h4m28 0h1m1 0h3m3 0h2m12 0h7m1 0h2m1 0h1m6 0h2m16 0h2m1 0h1m6 0h1m13 0h1m2 0h2m4 0h1m9 0h5m2 0h2m4 0h5m12 0h5m1 0h1m5 0h1m1 0h3m1 0h1M160 202.5h2m26 0h3m10 0h7m4 0h2m2 0h5m2 0h1m19 0h3m2 0h2m8 0h6m1 0h3m1 0h1m7 0h5m2 0h2m3 0h1m8 0h2m4 0h4m1 0h1m9 0h1m1 0h1m2 0h1m1 0h2m1 0h3m1 0h1m4 0h2m2 0h1m2 0h1m2 0h1m3 0h1m1 0h2m7 0h3m1 0h1m2 0h1m2 0h1m5 0h1m13 0h2m4 0h3m8 0h1m14 0h5M159 204.5h2m13 0h3m7 0h3m1 0h1m5 0h3m4 0h1m2 0h2m6 0h6m4 0h4m4 0h1m1 0h1m1 0h1m9 0h3m2 0h2m4 0h1m9 0h4m16 0h5m1 0h1m1 0h2m7 0h1m6 0h6m2 0h2m7 0h1m6 0h1m12 0h2m12 0h1m6 0h1m10 0h1m1 0h8m4 0h1m7 0h3m2 0h1m8 0h1m10 0h1m2 0h1M163 206.5h1m1 0h6m12 0h7m4 0h3m1 0h1m1 0h2m1 0h1m1 0h3m27 0h10m4 0h2m1 0h1m9 0h5m11 0h2m1 0h1m1 0h1m1 0h2m21 0h4m2 0h4m12 0h11m5 0h2m20 0h1m6 0h1m2 0h13m1 0h2m7 0h3m25 0h1M160 208.5h1m4 0h1m4 0h2m18 0h2m1 0h1m4 0h1m2 0h2m2 0h2m6 0h1m2 0h1m4 0h2m24 0h2m2 0h1m12 0h1m15 0h1m1 0h1m9 0h1m8 0h2m8 0h1m3 0h1m13 0h3m10 0h1m14 0h2m11 0h1m11 0h1m10 0h2m11 0h4m3 0h1m1 0h3m4 0h1m6 0h2M163 210.5h1m1 0h3m7 0h1m7 0h1m2 0h2m6 0h1m21 0h1m2 0h3m11 0h2m18 0h1m14 0h1m1 0h2m8 0h1m2 0h1m12 0h2m1 0h1m30 0h3m2 0h1m1 0h1m2 0h1m2 0h1m1 0h2m4 0h1m21 0h2m13 0h1m5 0h1m19 0h1m5 0h1M176 212.5h1m12 0h2m5 0h2m48 0h2m2 0h2m7 0h1m20 0h2m15 0h1m7 0h1m19 0h1m9 0h1m37 0h1m22 0h1M242 214.5h1m15 0h1m53 0h3m32 0h1m15 0h3m27 0h1m18 0h1M177 217.5h1M313 239.5h1M160 241.5h5m2 0h2m1 0h7m3 0h2m3 0h1m11 0h1m1 0h1m5 0h5m40 0h1m5 0h3m14 0h2m3 0h7m1 0h4m6 0h1m5 0h2m48 0h2m9 0h1m1 0h1m2 0h1m2 0h9m23 0h3m5 0h1m5 0h6m1 0h2m4 0h1M191 243.5h1m1 0h3m3 0h1m11 0h1m3 0h1m23 0h5m15 0h9m34 0h3m1 0h1m1 0h1m12 0h1m5 0h1m2 0h1m7 0h3m4 0h3m5 0h3m20 0h4m13 0h1m1 0h1m1 0h2m3 0h1m20 0h1m11 0h1m1 0h4M161 245.5h2m1 0h7m2 0h6m10 0h2m2 0h10m1 0h1m13 0h1m1 0h2m14 0h9m1 0h6m15 0h6m26 0h1m30 0h1m7 0h3m2 0h5m8 0h1m21 0h1m1 0h1m32 0h1m7 0h2m3 0h2M159 247.5h3m1 0h4m1 0h6m2 0h1m1 0h1m14 0h16m30 0h1m7 0h1m7 0h8m1 0h3m12 0h1m2 0h2m1 0h1m1 0h1m31 0h3m38 0h5m5 0h1m1 0h5m24 0h3m12 0h5m13 0h1M159 249.5h1m13 0h1m3 0h2m1 0h1m8 0h1m1 0h2m3 0h13m31 0h1m3 0h1m2 0h1m15 0h4m24 0h1m36 0h6m14 0h1m2 0h1m5 0h2m3 0h2m52 0h4m18 0h3M172 251.5h1m6 0h1m7 0h1m57 0h9m2 0h1m5 0h1m1 0h1m1 0h1m1 0h1m1 0h4m11 0h1m8 0h15m11 0h1m14 0h7m2 0h2m11 0h1m1 0h1m3 0h2m3 0h1m11 0h5m2 0h1m8 0h1m2 0h3m19 0h1m6 0h8M179 253.5h6m6 0h2m4 0h4m47 0h2m3 0h5m2 0h2m8 0h1m3 0h3m4 0h1m31 0h1m19 0h2m2 0h2m3 0h1m1 0h5m1 0h1m2 0h1m30 0h3m1 0h1m3 0h1m1 0h8m18 0h1M170 255.5h1m29 0h1m128 0h2M172 256.5h1m29 0h2m6 0h1m128 0h1m9 0h2M256 257.5h1m14 0h1m108 0h1M251 258.5h1m9 0h2m68 0h1m1 0h1M205 259.5h1m102 0h1M194 261.5h1m152 0h1m37 0h1M322 263.5h1M189 264.5h1"/><path stroke="#fdca26" d="M226 147.5h1m1 0h1m3 0h1M289 149.5h1m145 0h1M387 153.5h1M218 155.5h1m1 0h2m10 0h1m15 0h5m1 0h3m67 0h1m77 0h1m1 0h2M340 157.5h1m30 0h1m67 0h1m3 0h2M347 159.5h1m1 0h2m1 0h1m57 0h1M225 163.5h1m1 0h1M379 165.5h1M396 172.5h1M257 180.5h1M179 191.5h1M180 193.5h1M160 194.5h3m2 0h1m2 0h5m25 0h2m3 0h1m1 0h3m76 0h1m5 0h1m2 0h2m24 0h12m6 0h1m5 0h1m14 0h3m8 0h3m35 0h1m11 0h1M159 196.5h4m14 0h1m18 0h3m17 0h1m44 0h1m3 0h1m4 0h9m26 0h1m17 0h1m8 0h1m1 0h3m4 0h4m14 0h1m3 0h1m23 0h2m3 0h2m13 0h5m7 0h7m1 0h1M187 198.5h9m1 0h1m44 0h5m9 0h4m9 0h1m17 0h9m28 0h1m26 0h5m16 0h1m28 0h9m10 0h9M160 200.5h1m43 0h1m51 0h3m5 0h3m1 0h3m17 0h2m35 0h2m1 0h2m9 0h1m3 0h2m3 0h1m9 0h1m2 0h1m31 0h1m11 0h18M166 202.5h2m2 0h1m21 0h1m3 0h3m52 0h4m17 0h1m38 0h6m17 0h4m2 0h2m1 0h2m15 0h3m3 0h1m1 0h2m1 0h2m1 0h2m28 0h4m5 0h2m1 0h2M189 204.5h5m3 0h4m1 0h2m52 0h1m2 0h3m11 0h10m9 0h1m11 0h3m8 0h2m2 0h5m5 0h3m5 0h1m2 0h5m4 0h3m4 0h3m11 0h6m14 0h1m13 0h1m1 0h8m1 0h5m3 0h2m1 0h2m1 0h2M159 206.5h1m12 0h6m14 0h2m5 0h1m51 0h1m45 0h2m6 0h1m12 0h1m9 0h1m27 0h1m7 0h2m8 0h1m21 0h1m19 0h1m1 0h3m4 0h2M169 208.5h1m7 0h1m6 0h1m204 0h2M344 210.5h1m59 0h2M195 212.5h1M177 214.5h1m78 0h2m65 0h1m85 0h1M426 249.5h8"/><path stroke="#febb2b" d="M220 147.5h6m1 0h1m1 0h3m1 0h2m40 0h1m1 0h1m87 0h5M162 149.5h2m37 0h1m2 0h2m169 0h1m58 0h1M219 151.5h1m6 0h1m30 0h1m34 0h1m12 0h1m3 0h1m27 0h1m60 0h1m19 0h1M220 153.5h1m1 0h4m9 0h1m2 0h1m41 0h1m81 0h1m35 0h2m9 0h3M212 155.5h2m1 0h3m1 0h1m33 0h1m40 0h1m4 0h2m1 0h1m1 0h2m19 0h3m7 0h2m1 0h1m1 0h1m16 0h1m20 0h2m21 0h1m1 0h1m2 0h2m29 0h1M201 157.5h1m32 0h1m6 0h1m22 0h1m76 0h1m2 0h1m1 0h2m1 0h1m23 0h5M193 159.5h1m5 0h1m95 0h1m11 0h1m1 0h3m2 0h3m1 0h1m1 0h3m39 0h1m43 0h1m1 0h2M229 161.5h1m59 0h1m89 0h1M192 163.5h1m33 0h1m33 0h1m66 0h1m23 0h1m96 0h1M214 165.5h2m84 0h1M217 167.5h2m231 0h1M221 169.5h5m43 0h1M268 172.5h1M365 185.5h1M414 188.5h1M373 190.5h1M163 194.5h2m171 0h1m1 0h2M212 196.5h1m235 0h3M163 198.5h1m19 0h2m68 0h1M198 200.5h2M177 202.5h1m5 0h4m225 0h1m2 0h1M163 204.5h2M449 214.5h1"/><path stroke="#fdac33" d="M325 143.5h1M165 147.5h3m3 0h1m1 0h1m20 0h1m5 0h1m41 0h2m1 0h1m1 0h1m4 0h1m23 0h1m43 0h1m17 0h2m2 0h7m1 0h2m8 0h1m9 0h1m10 0h1m26 0h1m1 0h1m2 0h1M186 149.5h1m6 0h1m2 0h5m1 0h1m3 0h1m15 0h4m18 0h1m25 0h1m24 0h1m48 0h1m18 0h2m40 0h1M199 151.5h1m1 0h1m1 0h2m19 0h2m1 0h1m80 0h1m1 0h7m1 0h1m24 0h1m17 0h1m35 0h1M192 153.5h4m5 0h1m16 0h2m1 0h1m15 0h1m10 0h1m32 0h2m1 0h5m7 0h2m4 0h1m8 0h5m43 0h3m1 0h2m6 0h1m23 0h3M173 155.5h1m8 0h2m30 0h1m8 0h1m13 0h1m5 0h1m51 0h4m2 0h1m1 0h1m2 0h1m30 0h1m1 0h1m1 0h2m5 0h1m5 0h1m21 0h1m6 0h1m2 0h1m23 0h1m27 0h3M200 157.5h1m1 0h1m28 0h1m1 0h1m1 0h3m6 0h1m18 0h1m1 0h3m18 0h1m12 0h1m16 0h1m28 0h1m2 0h1m2 0h2m12 0h1m6 0h1m47 0h1m26 0h2M162 159.5h4m23 0h1m1 0h1m2 0h3m1 0h1m21 0h1m7 0h2m24 0h1m53 0h1m3 0h2m9 0h1m16 0h3m44 0h3m1 0h2m14 0h1m26 0h2m13 0h1M181 161.5h1m16 0h2m14 0h2m14 0h4m6 0h1m9 0h1m7 0h1m31 0h1m68 0h2m3 0h1m8 0h3m4 0h1m53 0h2m1 0h1M164 163.5h2m4 0h1m22 0h1m44 0h1m20 0h1m11 0h1m10 0h2m9 0h1m21 0h1m10 0h1m73 0h1m3 0h1m5 0h1m25 0h2M220 165.5h1m91 0h1m94 0h1m5 0h1m7 0h2M207 167.5h1m135 0h1m27 0h1m18 0h1m27 0h2m5 0h1m9 0h1M270 169.5h1m92 0h2m24 0h2m13 0h1m13 0h1M371 177.5h1M191 178.5h1M171 184.5h1M444 194.5h3M432 196.5h14M431 198.5h1m1 0h1m5 0h1m9 0h1M445 200.5h1m1 0h4M436 202.5h1M449 204.5h1M437 206.5h2m5 0h7M447 208.5h1m2 0h1M438 210.5h1M445 214.5h1"/><path stroke="#fb9f3a" d="M444 112.5h1M355 116.5h1M252 122.5h1M159 147.5h1m2 0h1m7 0h1m1 0h1m11 0h1m6 0h3m1 0h2m2 0h1m15 0h1m20 0h1m1 0h1m5 0h1m1 0h1m1 0h1m16 0h1m3 0h1m1 0h1m19 0h1m27 0h1m20 0h2m7 0h1m30 0h1m28 0h1m1 0h2m1 0h1m2 0h3m15 0h1m1 0h1m1 0h1M181 149.5h2m1 0h2m5 0h2m1 0h1m8 0h1m23 0h3m1 0h6m8 0h5m1 0h2m4 0h2m25 0h1m7 0h2m11 0h3m1 0h4m29 0h1m2 0h2m2 0h2m19 0h2m13 0h5m1 0h2m23 0h2M184 151.5h1m15 0h1m1 0h1m13 0h1m34 0h4m33 0h1m31 0h4m29 0h4m1 0h3m1 0h1m8 0h6m47 0h1m6 0h2m10 0h3m2 0h3M162 153.5h3m2 0h2m10 0h1m2 0h1m8 0h1m12 0h2m9 0h2m61 0h2m3 0h1m11 0h1m5 0h1m1 0h2m4 0h1m7 0h2m5 0h1m55 0h3m18 0h1m26 0h1m13 0h1m5 0h1m1 0h1M175 155.5h1m4 0h1m18 0h2m1 0h1m3 0h1m19 0h2m43 0h6m39 0h1m28 0h1m3 0h1m35 0h1m49 0h1M160 157.5h6m12 0h1m25 0h2m11 0h1m6 0h2m63 0h2m4 0h1m1 0h1m6 0h4m1 0h1m5 0h1m2 0h2m41 0h1m2 0h1m1 0h3m43 0h2m3 0h3m14 0h1M177 159.5h1m8 0h1m3 0h1m1 0h1m4 0h1m4 0h1m2 0h1m9 0h1m8 0h3m12 0h5m5 0h1m1 0h1m20 0h2m1 0h3m2 0h1m8 0h2m37 0h1m10 0h1m4 0h1m32 0h1m18 0h1m3 0h3m22 0h1m1 0h1m10 0h3m1 0h1m4 0h2m1 0h1M167 161.5h1m1 0h4m9 0h1m19 0h1m9 0h2m7 0h1m31 0h1m21 0h1m2 0h2m12 0h2m4 0h1m1 0h1m5 0h1m8 0h1m49 0h2m4 0h1m37 0h1m23 0h1M173 163.5h2m15 0h1m8 0h1m13 0h1m1 0h1m6 0h1m16 0h1m7 0h1m15 0h1m96 0h1m9 0h1m59 0h2M180 165.5h1m28 0h3m72 0h1m21 0h1m6 0h1m2 0h1m41 0h1m2 0h2m8 0h1m38 0h1m16 0h1M185 167.5h2m22 0h1m1 0h1m8 0h1m65 0h1m28 0h1m26 0h1m19 0h1m33 0h1m20 0h1m2 0h1M358 169.5h2m31 0h1M267 175.5h1M431 194.5h3m1 0h1m4 0h1M434 198.5h1m11 0h3m1 0h1M431 200.5h1m1 0h7m1 0h1m1 0h2m1 0h1M437 202.5h1m5 0h4M431 204.5h1m6 0h4m1 0h4m1 0h1M433 206.5h1m1 0h2M431 208.5h1m6 0h2m2 0h2m2 0h1M434 210.5h1M437 212.5h2"/><path stroke="#f79143" d="M301 112.5h1m132 0h1m10 0h1M280 126.5h1M343 142.5h1m11 0h1M405 144.5h1M160 147.5h1m2 0h1m14 0h1m6 0h2m3 0h1m6 0h1m15 0h2m1 0h1m1 0h1m18 0h1m25 0h2m5 0h1m1 0h1m22 0h2m3 0h2m2 0h2m2 0h2m1 0h4m1 0h1m19 0h1m53 0h2m10 0h2m23 0h1m2 0h3m1 0h1m1 0h1m1 0h1m1 0h1m2 0h1M176 149.5h4m3 0h1m4 0h1m23 0h2m2 0h1m3 0h1m9 0h1m19 0h1m14 0h1m13 0h4m2 0h1m22 0h1m25 0h2m7 0h1m3 0h2m8 0h3m19 0h1m2 0h3m5 0h1m4 0h1m3 0h1m2 0h1m8 0h1m14 0h1m12 0h2m3 0h5M182 151.5h2m1 0h1m31 0h1m14 0h2m9 0h1m24 0h1m1 0h1m2 0h4m3 0h1m44 0h3m3 0h3m6 0h1m5 0h1m10 0h1m5 0h1m18 0h3m1 0h7m16 0h1m19 0h2m8 0h2m5 0h1M165 153.5h2m4 0h1m2 0h3m3 0h2m4 0h1m1 0h1m17 0h1m35 0h3m11 0h2m10 0h1m38 0h2m14 0h1m7 0h1m5 0h1m13 0h2m2 0h3m17 0h1m2 0h1m10 0h2m11 0h6m27 0h1m1 0h1m5 0h1m5 0h1M161 155.5h2m13 0h1m8 0h2m1 0h1m9 0h1m2 0h1m63 0h3m10 0h1m1 0h1m29 0h1m2 0h1m3 0h3m24 0h1m1 0h2m2 0h2m38 0h3m1 0h1m37 0h1m12 0h4M159 157.5h1m6 0h1m5 0h2m2 0h2m10 0h1m1 0h1m15 0h1m6 0h1m1 0h2m1 0h1m3 0h2m2 0h1m21 0h1m9 0h1m13 0h5m6 0h2m6 0h4m1 0h1m1 0h1m2 0h1m6 0h1m1 0h1m22 0h1m20 0h2m4 0h1m1 0h1m25 0h2m1 0h1m6 0h1M167 159.5h3m10 0h1m1 0h1m2 0h1m18 0h1m1 0h1m16 0h1m8 0h4m1 0h1m12 0h1m1 0h2m1 0h2m2 0h1m14 0h1m3 0h2m22 0h1m26 0h2m34 0h2m1 0h1m1 0h1m4 0h2m1 0h1m2 0h1m2 0h1m10 0h1m2 0h1m14 0h2m11 0h1m6 0h1m3 0h1M160 161.5h6m7 0h1m1 0h1m13 0h1m21 0h1m8 0h1m1 0h4m30 0h1m3 0h1m1 0h1m1 0h1m2 0h1m5 0h2m1 0h2m2 0h1m2 0h1m15 0h1m7 0h1m1 0h4m3 0h2m1 0h1m1 0h2m29 0h3m28 0h1m26 0h4m25 0h4m3 0h2m1 0h1M181 163.5h1m60 0h1m24 0h1m103 0h1m34 0h1m10 0h3M179 165.5h1m4 0h2m2 0h2m34 0h1m40 0h1m49 0h1m1 0h1m35 0h1m81 0h1M176 167.5h1m7 0h1m10 0h4m24 0h1m37 0h1m85 0h1m85 0h1M184 169.5h1m172 0h1M431 202.5h4"/><path stroke="#f3854b" d="M226 112.5h1m1 0h2m69 0h1m147 0h1M314 113.5h1M306 114.5h1m41 0h1M393 115.5h3m1 0h1m1 0h1M302 116.5h1M180 120.5h1M303 125.5h1M164 132.5h1M162 136.5h1M378 140.5h1M254 147.5h1m27 0h1m6 0h1m3 0h2m2 0h3m2 0h2m2 0h1m8 0h1m6 0h1m5 0h1m5 0h2m52 0h2m35 0h1m3 0h1m15 0h1m1 0h1M207 149.5h3m4 0h2m38 0h1m17 0h2m43 0h8m14 0h2m27 0h1m25 0h1m1 0h1m3 0h2m1 0h1m3 0h4m9 0h6m1 0h1m1 0h3M159 151.5h4m6 0h1m17 0h3m1 0h3m27 0h1m27 0h1m12 0h4m1 0h1m1 0h1m1 0h2m74 0h5m15 0h1m10 0h1m2 0h1m3 0h1m21 0h1m14 0h1m11 0h2m5 0h1M187 153.5h1m1 0h1m9 0h1m12 0h1m28 0h1m3 0h2m11 0h1m2 0h1m1 0h1m1 0h2m8 0h1m53 0h2m1 0h4m6 0h2m1 0h1m1 0h1m6 0h1m62 0h1m7 0h1m10 0h1m9 0h1M165 155.5h1m26 0h1m41 0h2m10 0h1m12 0h1m19 0h1m4 0h1m24 0h1m1 0h2m1 0h1m14 0h1m32 0h1m3 0h1m22 0h1m3 0h1m31 0h7M169 157.5h3m2 0h1m39 0h1m34 0h1m7 0h1m1 0h1m11 0h1m6 0h4m53 0h1m1 0h1m48 0h2m2 0h1m1 0h1m8 0h1m2 0h3m24 0h1m18 0h1M175 159.5h1m37 0h1m22 0h1m9 0h1m14 0h1m2 0h1m1 0h1m2 0h1m17 0h1m10 0h1m26 0h1m71 0h1m19 0h2M186 161.5h3m1 0h3m11 0h1m1 0h1m54 0h1m1 0h1m2 0h1m1 0h4m15 0h1m36 0h1m1 0h3m3 0h1m17 0h1m17 0h1m15 0h1m43 0h2m13 0h1m4 0h1M209 163.5h3m56 0h1m63 0h4m21 0h1M277 165.5h1m68 0h3M367 169.5h1M209 202.5h3M211 204.5h1M209 206.5h1M209 210.5h1"/><path stroke="#ed7953" d="M445 102.5h1m1 0h1M291 104.5h1m155 0h1m1 0h1M316 111.5h1M227 112.5h1m34 0h1m35 0h1m1 0h1m1 0h1m145 0h3M220 113.5h2m12 0h1m62 0h1m18 0h1m2 0h1M305 114.5h1m1 0h2M336 115.5h2m58 0h1m1 0h1M296 118.5h1M178 120.5h2m52 0h1M211 124.5h2M428 138.5h1M180 147.5h3m5 0h1m66 0h1m1 0h3m19 0h3m1 0h3m41 0h1m25 0h2m1 0h2m19 0h1m68 0h1m1 0h2M210 149.5h1m155 0h1m61 0h1M168 151.5h1m3 0h3m15 0h1m3 0h1m2 0h1m11 0h2m26 0h2m27 0h1m28 0h2m1 0h2m65 0h2m1 0h1m37 0h1M208 153.5h1m42 0h2m9 0h1m1 0h1m79 0h1m3 0h1m64 0h1m4 0h6M168 155.5h1m2 0h1m19 0h1m1 0h1m13 0h1m122 0h1m29 0h1m2 0h2M192 157.5h1m58 0h5m69 0h1m1 0h1m8 0h1m1 0h1M208 159.5h1m1 0h1m36 0h1m14 0h2m1 0h1m1 0h2m30 0h2m54 0h1m1 0h4m58 0h1M205 161.5h1m41 0h1m77 0h1m3 0h3m1 0h1m6 0h5m1 0h4m19 0h1m47 0h1m12 0h1M249 165.5h1m101 0h1M181 194.5h2m25 0h2M209 196.5h2M209 198.5h3M179 200.5h2m27 0h1m2 0h1M208 202.5h1M179 204.5h3m26 0h3M208 206.5h1M179 208.5h1m2 0h1"/><path stroke="#e76e5b" d="M446 102.5h1m1 0h2M231 104.5h1m8 0h1m197 0h1m11 0h1M230 110.5h1m219 0h1M369 111.5h1M235 112.5h1m24 0h2m16 0h1m96 0h1m45 0h1M231 113.5h2m65 0h1m1 0h1m12 0h1m1 0h1m1 0h2m3 0h1M300 114.5h1m2 0h1m140 0h1M224 115.5h3m56 0h1m9 0h1m71 0h1M310 116.5h3m125 0h1M181 120.5h3m31 0h2m16 0h1m68 0h1M355 136.5h1M206 147.5h1m49 0h1m98 0h1m20 0h1m16 0h1m3 0h2M367 149.5h1M167 151.5h1m43 0h1m27 0h3m55 0h1M207 153.5h1m112 0h1M167 155.5h1m1 0h2m199 0h3m39 0h1m1 0h1m5 0h2M326 157.5h1m1 0h2M207 159.5h1m89 0h1M339 161.5h1m5 0h1m57 0h1m21 0h2M348 163.5h1M178 196.5h3M178 198.5h2M182 200.5h1m27 0h1M178 206.5h4"/><path stroke="#df6263" d="M230 79.5h1M223 92.5h1M176 102.5h1m104 0h1m1 0h1M227 104.5h1m1 0h2m5 0h1m162 0h3M250 106.5h2M235 108.5h1m37 0h2M192 110.5h1m38 0h1m75 0h1m6 0h1m53 0h1m1 0h2m12 0h3m45 0h1M214 111.5h1m37 0h1m194 0h1M224 112.5h1m8 0h1m2 0h1m199 0h2M219 113.5h1m9 0h2m2 0h1m1 0h1m13 0h3m40 0h1m6 0h1m20 0h1m2 0h1m105 0h1m2 0h1M230 114.5h1m38 0h1m1 0h1m4 0h2m23 0h2m140 0h1M185 115.5h2m113 0h1m4 0h1m56 0h1m28 0h1m26 0h2m30 0h1M161 116.5h1m107 0h1M402 118.5h2M159 120.5h1m54 0h1m6 0h1m79 0h1M205 124.5h1m153 0h2m1 0h1M271 138.5h1M202 147.5h4m189 0h2m2 0h1M165 149.5h1m1 0h7M177 151.5h3m214 0h1M211 153.5h1M332 155.5h2m79 0h1m1 0h1M428 157.5h2M209 159.5h1M181 198.5h2M178 202.5h5"/><path stroke="#d8576b" d="M237 66.5h1M227 67.5h1M229 69.5h2M228 70.5h2M228 73.5h1M232 75.5h1M449 78.5h1M227 79.5h3M224 89.5h1M225 97.5h1M212 102.5h1m4 0h1m64 0h1m113 0h2M224 104.5h1m8 0h3m11 0h1m101 0h1m1 0h2m1 0h3m39 0h3m3 0h1M219 106.5h2m9 0h1m5 0h1m15 0h2m52 0h2m45 0h1m43 0h3m14 0h1m11 0h1m1 0h1M217 108.5h1m18 0h1m1 0h1m32 0h2m2 0h1m10 0h1m18 0h1m4 0h3m100 0h1M193 110.5h2m89 0h1m55 0h1m28 0h1m7 0h2m2 0h3M224 111.5h1m5 0h1m3 0h2m209 0h2M190 112.5h1m31 0h1m8 0h1m2 0h1m3 0h1m134 0h2m49 0h1M205 113.5h2m20 0h1m20 0h1m17 0h2m26 0h1m1 0h1m27 0h1m20 0h2m2 0h1m2 0h2m61 0h1m14 0h2M178 114.5h1m41 0h2m10 0h2m2 0h1m30 0h2m3 0h1m5 0h1m7 0h2m140 0h1m4 0h3m6 0h1m6 0h1M197 115.5h2m30 0h2m13 0h1m58 0h1m6 0h1m47 0h3m6 0h1m52 0h2M233 116.5h1m65 0h2m6 0h1M247 118.5h2m89 0h1m23 0h1m71 0h2M320 120.5h1m22 0h2m72 0h1M390 122.5h1M314 124.5h1m4 0h1m41 0h1M166 149.5h1m7 0h1M210 153.5h1"/><path stroke="#cf4c74" d="M238 66.5h1M229 67.5h2m5 0h1m68 0h1m143 0h1M234 69.5h1m2 0h1M234 71.5h2M223 73.5h5m221 0h1M234 74.5h1M224 75.5h3M223 76.5h1M228 77.5h5M440 79.5h1M225 81.5h1m4 0h3M442 82.5h1M228 84.5h1m3 0h1m212 0h1m4 0h1M308 85.5h1M293 92.5h1M189 102.5h2m3 0h2m77 0h2m105 0h2m1 0h1m1 0h1m1 0h1m1 0h4m1 0h2M197 104.5h2m46 0h2m1 0h1m2 0h1m2 0h1m1 0h1m27 0h1m1 0h1m1 0h1m27 0h1m33 0h1m2 0h1m82 0h1M218 106.5h1m2 0h1m7 0h1m5 0h1m8 0h2m8 0h1m32 0h1m2 0h2m2 0h1m20 0h1m23 0h1m14 0h1m67 0h1m1 0h1m2 0h1M242 108.5h1m27 0h1m43 0h3m2 0h1m73 0h1m18 0h1m2 0h2m20 0h3M166 110.5h1m66 0h4m39 0h1m1 0h1m4 0h1m2 0h1m13 0h1m3 0h2m7 0h1m29 0h1m11 0h2m22 0h1m18 0h1M188 111.5h1m27 0h1m4 0h3m5 0h1m1 0h1m1 0h1m106 0h1m29 0h1m29 0h1m35 0h1m2 0h1m2 0h2M191 112.5h2m2 0h1m45 0h1m38 0h1m3 0h1m83 0h1m19 0h2m1 0h1m6 0h1m40 0h1M170 113.5h2m39 0h3m11 0h1m43 0h1m57 0h1m16 0h1m2 0h2m1 0h2m22 0h1m36 0h1M179 114.5h1m39 0h1m5 0h5m1 0h1m3 0h1m1 0h2m27 0h1m3 0h1m110 0h1m1 0h1m27 0h1m18 0h2m14 0h3m1 0h1M188 115.5h1m30 0h1m8 0h1m32 0h1m33 0h1m6 0h1m1 0h1m2 0h3m29 0h1m17 0h1m3 0h1m1 0h2m6 0h2m34 0h1m5 0h2m10 0h1m13 0h1M222 116.5h1m1 0h1m145 0h1m1 0h1m14 0h1m26 0h1m14 0h1M203 118.5h1m10 0h1m235 0h1M239 120.5h1m25 0h1m55 0h2m37 0h2M206 122.5h1M204 124.5h1m113 0h1m1 0h2m11 0h1M209 147.5h3"/><path stroke="#c7427c" d="M218 66.5h2m8 0h5m1 0h1m64 0h4m145 0h1m1 0h1M235 67.5h1m70 0h1m74 0h1m57 0h1m6 0h1m3 0h1M228 68.5h2m202 0h1M235 69.5h1m3 0h1m7 0h1m127 0h1M242 70.5h1m60 0h2m95 0h1m48 0h2M236 71.5h4M225 72.5h1m3 0h1m7 0h1M216 73.5h7m7 0h1m2 0h2m2 0h3m57 0h1m1 0h4m1 0h1m91 0h1m48 0h2m1 0h1m1 0h1M224 74.5h1m4 0h2m6 0h3M229 75.5h2m73 0h2M225 76.5h3m7 0h1m57 0h1m152 0h1m2 0h2M224 79.5h1m86 0h5m123 0h1m2 0h1m4 0h3M228 81.5h1M236 82.5h1M305 83.5h1m137 0h2M215 84.5h1m10 0h1m3 0h2m1 0h2m1 0h2m208 0h1m1 0h1M216 88.5h1M444 97.5h1M191 102.5h3m17 0h1m4 0h1m3 0h2m9 0h2m2 0h1m23 0h1m40 0h1m1 0h1m32 0h1m7 0h1m38 0h1m1 0h1m1 0h1m1 0h1m4 0h1m9 0h1m8 0h2m1 0h1m2 0h1m7 0h1M242 104.5h2m5 0h2m4 0h1m29 0h1m1 0h1m1 0h1m5 0h1m4 0h1m1 0h1m2 0h1m9 0h1m14 0h1m4 0h2m31 0h1M209 106.5h1m6 0h1m8 0h3m9 0h1m5 0h1m11 0h1m29 0h2m1 0h1m3 0h2m46 0h3m20 0h2m1 0h1m23 0h6m21 0h1m5 0h1m1 0h1m3 0h1m6 0h1m1 0h1m1 0h1m1 0h1m2 0h1m1 0h1M210 108.5h1m10 0h1m17 0h3m1 0h2m2 0h1m16 0h2m24 0h1m9 0h4m13 0h2m2 0h1m72 0h1m8 0h2m9 0h1m19 0h3m10 0h1M196 110.5h1m50 0h1m7 0h2m14 0h2m1 0h2m11 0h1m1 0h1m1 0h2m9 0h2m14 0h1m3 0h1m1 0h1m27 0h2m6 0h1m12 0h1m1 0h1m19 0h1m3 0h2m14 0h2m17 0h1m9 0h1M189 111.5h1m1 0h1m10 0h1m1 0h1m1 0h1m2 0h1m5 0h1m3 0h1m24 0h1m31 0h1m8 0h2m51 0h1m27 0h2m27 0h1m7 0h1m2 0h1m8 0h1m8 0h1m12 0h1m2 0h2M160 112.5h1m1 0h2m17 0h4m8 0h2m2 0h2m20 0h1m61 0h1m7 0h1m59 0h3m2 0h1m8 0h1m26 0h1m1 0h1m2 0h2m28 0h1m15 0h1M160 113.5h1m7 0h2m38 0h1m5 0h1m11 0h1m10 0h1m21 0h1m10 0h1m40 0h1m14 0h1m2 0h1m80 0h1m29 0h1m4 0h1M162 114.5h1m41 0h1m10 0h1m2 0h1m4 0h1m15 0h2m33 0h1m48 0h1m26 0h1m15 0h1m57 0h4m1 0h1M162 115.5h1m26 0h1m20 0h1m1 0h1m29 0h2m6 0h2m44 0h1m22 0h1m5 0h1m14 0h2m31 0h1m67 0h1m1 0h4M172 116.5h1m62 0h2M220 118.5h1m222 0h1M367 120.5h1m35 0h1m36 0h1M159 122.5h1m165 0h1m121 0h1M207 147.5h1"/><path stroke="#bd3786" d="M223 66.5h5m7 0h1m4 0h1m5 0h3m48 0h2m5 0h1m3 0h1m1 0h7m1 0h1m1 0h2m79 0h2m46 0h1M220 67.5h2m2 0h1m20 0h1m47 0h3m1 0h1m5 0h1m12 0h3m25 0h1m6 0h1m1 0h1m31 0h1m1 0h2m2 0h1m13 0h1m12 0h2m9 0h1m14 0h2m1 0h1M218 68.5h2m63 0h1m82 0h1m11 0h1m8 0h1m1 0h1m20 0h1m37 0h1m1 0h1M218 69.5h2m3 0h2m1 0h2m13 0h1m4 0h1m57 0h2m7 0h1m32 0h1m1 0h4m22 0h1m24 0h1m45 0h1M191 70.5h5m21 0h1m2 0h4m1 0h2m4 0h6m1 0h1m5 0h3m9 0h1m42 0h4m2 0h1m100 0h2m35 0h1m2 0h1M218 71.5h1m4 0h1m121 0h5m81 0h2M231 73.5h1m3 0h1m41 0h1m1 0h1m9 0h3m1 0h4m1 0h1m6 0h7m1 0h1m5 0h2m9 0h1m1 0h1m16 0h1m47 0h1m40 0h7M212 74.5h1m34 0h1m53 0h1m17 0h3m61 0h3M209 75.5h2m9 0h3m11 0h1m1 0h1m2 0h5m62 0h1m32 0h1m58 0h1m51 0h1M216 76.5h2m13 0h3m17 0h1m33 0h2m1 0h1m11 0h2m2 0h2m61 0h1m62 0h1m17 0h1M259 78.5h2m93 0h1M207 79.5h2m7 0h1m79 0h2m3 0h1m1 0h1m81 0h1m47 0h4M265 80.5h1m30 0h1m94 0h2M221 81.5h1m82 0h3m62 0h1m22 0h1m27 0h2m25 0h2M223 82.5h1m67 0h1m23 0h1m115 0h4M291 83.5h1m44 0h2m100 0h1M214 84.5h1m1 0h1m1 0h1m3 0h4m13 0h3m48 0h1m1 0h1m11 0h1m1 0h2m2 0h2m37 0h2m49 0h1m38 0h5M341 85.5h1M250 88.5h1M381 89.5h1M404 90.5h1M237 91.5h1m63 0h1M368 92.5h1M318 93.5h1M321 95.5h1M209 98.5h1M292 99.5h1M215 100.5h1M167 102.5h1m3 0h3m5 0h1m34 0h2m7 0h1m2 0h5m18 0h1m10 0h2m28 0h1m4 0h4m2 0h1m32 0h1m2 0h2m68 0h1m6 0h1m1 0h2m1 0h1m5 0h1m2 0h1M191 104.5h1m25 0h1m1 0h1m43 0h2m4 0h1m2 0h1m5 0h2m1 0h2m11 0h1m2 0h1m8 0h3m2 0h1m1 0h2m2 0h2m5 0h6m2 0h3m92 0h1m13 0h1M189 106.5h1m8 0h1m3 0h1m3 0h2m15 0h2m22 0h1m26 0h2m1 0h1m22 0h2m1 0h2m5 0h3m23 0h1m7 0h1m17 0h1m2 0h1m50 0h1m15 0h4m1 0h1m3 0h1m1 0h1m4 0h1M190 108.5h1m15 0h4m10 0h1m10 0h2m33 0h1m17 0h1m13 0h2m13 0h1m6 0h1m32 0h1m2 0h1m1 0h2m62 0h1m1 0h1m2 0h2m2 0h1M190 110.5h1m57 0h1m4 0h2m18 0h1m3 0h1m12 0h1m4 0h1m2 0h1m21 0h1m4 0h1m16 0h1m1 0h1m6 0h1m24 0h1m11 0h3m5 0h1m13 0h1m31 0h1m2 0h2M190 111.5h1m6 0h1m3 0h1m1 0h1m1 0h1m7 0h1m4 0h1m19 0h1m6 0h1m38 0h1m2 0h1m4 0h1m69 0h4m18 0h1m1 0h1m14 0h2m2 0h1m44 0h1M159 112.5h1m1 0h1m2 0h1m13 0h1m1 0h1m6 0h2m10 0h1m18 0h1m21 0h1m3 0h1m13 0h1m23 0h1m5 0h1m15 0h1m1 0h3m2 0h1m33 0h1m7 0h1m49 0h1m19 0h1m18 0h1M159 113.5h1m1 0h1m1 0h2m12 0h2m1 0h1m2 0h2m14 0h1m9 0h2m5 0h2m5 0h1m15 0h1m18 0h1m28 0h1m2 0h1m37 0h1m1 0h1m41 0h1m28 0h7m1 0h1m3 0h1m4 0h1m1 0h1m25 0h1M163 114.5h2m37 0h2m2 0h3m7 0h1m29 0h1m1 0h5m67 0h3m2 0h2m18 0h1m11 0h1m4 0h2M190 115.5h1m3 0h2m49 0h3m4 0h2m8 0h1m26 0h1m16 0h1m35 0h1m5 0h1m19 0h3m4 0h1m9 0h1m17 0h1m1 0h1m10 0h1m9 0h1m11 0h1m1 0h1m1 0h1M241 116.5h1m20 0h1m78 0h1m36 0h1m18 0h1m32 0h1M234 118.5h2m25 0h1m9 0h1m6 0h1m78 0h1M201 120.5h1M352 122.5h1M253 124.5h1m78 0h1M208 147.5h1"/><path stroke="#b32c8e" d="M216 66.5h1m5 0h1m19 0h3m4 0h1m12 0h2m19 0h3m20 0h1m43 0h4m18 0h1m3 0h1m1 0h1m1 0h5m33 0h2m2 0h1m14 0h6m2 0h2M173 67.5h1m36 0h3m3 0h2m1 0h1m20 0h1m1 0h2m2 0h1m5 0h2m12 0h1m1 0h1m15 0h3m2 0h4m17 0h4m18 0h2m12 0h2m4 0h1m11 0h1m2 0h1m21 0h1m7 0h2m11 0h2m16 0h1M188 68.5h1m15 0h2m34 0h1m1 0h1m54 0h2m1 0h3m1 0h2m7 0h1m34 0h1m18 0h1m4 0h2m3 0h1m10 0h1m16 0h2m4 0h2m28 0h2m4 0h1m1 0h1M167 69.5h3m41 0h1m1 0h1m11 0h1m61 0h6m14 0h2m5 0h1m1 0h2m2 0h1m7 0h2m15 0h1m1 0h1m47 0h3m4 0h2m6 0h2m4 0h1m24 0h3M168 70.5h3m1 0h1m17 0h1m16 0h3m5 0h1m21 0h1m1 0h1m15 0h1m11 0h2m14 0h2m2 0h2m1 0h2m3 0h2m10 0h4m1 0h1m2 0h1m17 0h1m32 0h3m4 0h1m1 0h1m1 0h1m11 0h1m5 0h1m1 0h1m6 0h1m8 0h1m21 0h8m1 0h2m1 0h1M171 71.5h2m24 0h1m79 0h1m12 0h2m65 0h4m9 0h2m6 0h3m3 0h1m23 0h1M212 72.5h1m9 0h2m162 0h1m3 0h1m19 0h1m10 0h1m14 0h4m3 0h1m2 0h2M159 73.5h2m31 0h2m18 0h1m1 0h1m26 0h2m1 0h4m6 0h1m13 0h3m3 0h2m2 0h1m1 0h1m1 0h1m1 0h2m26 0h1m1 0h2m1 0h1m3 0h2m1 0h2m1 0h1m1 0h1m1 0h1m1 0h1m33 0h1m10 0h1m2 0h1m12 0h1m8 0h1m2 0h1m1 0h1m8 0h2m1 0h1m6 0h1m1 0h4m1 0h4M215 74.5h3m26 0h1m1 0h1m1 0h2m34 0h1m5 0h4m14 0h2m6 0h1m5 0h2m50 0h1m18 0h2m22 0h1M161 75.5h1m12 0h3m36 0h1m2 0h1m35 0h2m15 0h1m13 0h1m8 0h1m5 0h1m10 0h1m5 0h3m35 0h3m16 0h2m8 0h1m1 0h2m4 0h1m2 0h1m6 0h3m37 0h1m3 0h3M205 76.5h1m5 0h5m27 0h2m4 0h1m46 0h1m6 0h1m5 0h1m3 0h1m2 0h1m4 0h2m17 0h1m10 0h1m2 0h1m18 0h7m17 0h2m2 0h2m2 0h2m3 0h1m15 0h1m1 0h2m3 0h1m1 0h1m5 0h3M269 77.5h1m38 0h1m30 0h2m42 0h1M188 78.5h1m99 0h1m27 0h4m35 0h2m49 0h4m7 0h1M212 79.5h4m3 0h1m1 0h2m20 0h1m3 0h3m9 0h5m28 0h3m4 0h2m1 0h1m15 0h2m1 0h1m11 0h1m17 0h1m2 0h1m20 0h4m5 0h1m1 0h3m3 0h2m10 0h4m7 0h2m13 0h3M163 80.5h1m127 0h1m3 0h1m5 0h1m41 0h2m1 0h2m7 0h2M217 81.5h4m19 0h2m15 0h1m1 0h2m20 0h2m10 0h7m1 0h2m5 0h5m1 0h2m4 0h7m2 0h2m14 0h3m13 0h1m2 0h1m1 0h3m1 0h2m25 0h2m3 0h1m1 0h1m1 0h3m13 0h1m20 0h1M180 82.5h1m16 0h1m19 0h3m75 0h3m1 0h2m1 0h1m76 0h1m7 0h1m1 0h1m10 0h1m11 0h1M187 83.5h1m15 0h3m12 0h2m69 0h2m1 0h2m20 0h3m80 0h3m10 0h2M199 84.5h2m18 0h2m21 0h3m1 0h2m41 0h1m10 0h1m7 0h1m3 0h1m4 0h1m7 0h2m20 0h2m9 0h1m1 0h1m1 0h1m3 0h2m1 0h1m8 0h1m4 0h1m7 0h2m1 0h2m5 0h1m6 0h1m4 0h1m4 0h2m2 0h1m14 0h1M208 85.5h1M176 86.5h1M354 88.5h1M202 89.5h1M412 92.5h1M340 94.5h1M163 96.5h1M266 98.5h1M168 102.5h3m3 0h1m34 0h1m15 0h1m11 0h1m8 0h3m6 0h1m7 0h2m5 0h1m15 0h1m1 0h1m2 0h1m1 0h2m37 0h2m19 0h2m23 0h1m22 0h1m30 0h1m1 0h1m3 0h1m2 0h1M195 104.5h1m18 0h2m2 0h1m40 0h4m2 0h2m1 0h1m1 0h2m4 0h2m2 0h1m12 0h1m2 0h1m22 0h2m10 0h1m44 0h1m27 0h1m16 0h1m1 0h1m16 0h1m1 0h1M180 106.5h2m5 0h2m1 0h2m3 0h3m2 0h2m1 0h3m8 0h1m61 0h1m6 0h1m18 0h1m10 0h1m17 0h1m3 0h1m31 0h2m12 0h1m29 0h1m19 0h1M164 108.5h1m34 0h1m12 0h4m6 0h1m3 0h4m15 0h1m3 0h1m27 0h2m73 0h1m1 0h2m1 0h1m48 0h1m13 0h2m8 0h1m1 0h1M179 110.5h1m5 0h1m12 0h1m1 0h1m37 0h1m18 0h1m8 0h1m29 0h1m24 0h1m1 0h1m68 0h1m9 0h1m2 0h1m37 0h1M172 111.5h1m6 0h1m19 0h1m7 0h1m18 0h2m11 0h2m7 0h1m8 0h1m12 0h1m12 0h1m4 0h1m1 0h1m2 0h1m6 0h1m1 0h2m6 0h3m1 0h1m21 0h2m6 0h1m3 0h1m2 0h2m5 0h1m38 0h1m10 0h2m10 0h2m1 0h1m1 0h1M176 112.5h1m34 0h2m7 0h1m21 0h2m2 0h2m25 0h1m1 0h2m9 0h2m21 0h1m4 0h1m3 0h1m8 0h1m12 0h1m1 0h1m40 0h2m9 0h1m5 0h1m1 0h1m2 0h1m2 0h1M162 113.5h1m16 0h1m2 0h1m2 0h1m1 0h1m12 0h2m53 0h1m19 0h1m1 0h5m7 0h1m16 0h1m62 0h1m14 0h1m6 0h1m29 0h1m13 0h4M169 114.5h1m12 0h1m16 0h1m1 0h1m42 0h1m8 0h1m10 0h1m17 0h1m27 0h1m7 0h1m23 0h1m3 0h1m5 0h3m10 0h1m1 0h2m16 0h1m17 0h1m3 0h1m9 0h2M206 115.5h1m4 0h1m1 0h2m1 0h2m3 0h2m14 0h1m10 0h1m5 0h1m3 0h1m27 0h2m39 0h1m2 0h1m1 0h1m1 0h1m42 0h2m3 0h2m4 0h1m12 0h1m33 0h1M170 116.5h1m90 0h1m17 0h1m80 0h1M180 118.5h1m72 0h1m72 0h1m103 0h1M397 120.5h1m13 0h1M355 122.5h1M331 124.5h1"/><path stroke="#a72197" d="M160 66.5h3m15 0h1m8 0h1m2 0h3m1 0h1m16 0h2m1 0h1m42 0h3m10 0h2m1 0h1m1 0h2m4 0h1m5 0h1m1 0h1m33 0h1m1 0h1m1 0h1m5 0h3m1 0h4m1 0h4m17 0h4m1 0h2m16 0h2m1 0h11m4 0h1m2 0h4m2 0h1m3 0h1m2 0h2m1 0h2m4 0h1m1 0h4M160 67.5h2m1 0h1m6 0h1m16 0h1m6 0h1m1 0h1m3 0h4m4 0h1m5 0h2m38 0h3m7 0h2m21 0h1m32 0h1m8 0h2m9 0h1m14 0h2m2 0h2m4 0h2m6 0h1m1 0h1m27 0h1m4 0h1m25 0h1M169 68.5h1m5 0h1m11 0h1m1 0h1m7 0h2m3 0h2m2 0h2m2 0h3m33 0h2m21 0h1m33 0h1m6 0h2m17 0h1m9 0h4M159 69.5h2m2 0h1m15 0h1m11 0h2m8 0h2m6 0h2m1 0h1m40 0h2m19 0h1m9 0h2m12 0h1m10 0h1m11 0h1m40 0h1m1 0h1m4 0h1m36 0h2m6 0h2m9 0h1m9 0h2M160 70.5h1m10 0h1m41 0h2m35 0h4m9 0h1m2 0h1m3 0h3m1 0h3m9 0h1m6 0h2m16 0h1m2 0h1m2 0h2m1 0h1m14 0h1m25 0h1m1 0h2m11 0h1m3 0h7m5 0h2m2 0h1m12 0h3m2 0h1m8 0h1m2 0h1m1 0h7M180 71.5h1m68 0h1m13 0h1m109 0h2M192 72.5h1m17 0h1m43 0h1m11 0h1m7 0h3m13 0h1m3 0h2m36 0h1m4 0h1m6 0h1m6 0h3m14 0h2m22 0h6m4 0h2M162 73.5h3m1 0h2m1 0h4m10 0h2m16 0h2m1 0h4m1 0h3m36 0h4m1 0h1m33 0h1m63 0h10m7 0h2m1 0h2m4 0h1m2 0h1m9 0h1m1 0h1m6 0h3m3 0h1m3 0h2m1 0h2m1 0h1m5 0h2m1 0h2m2 0h1M169 74.5h1m36 0h1m1 0h1m74 0h1m1 0h1m9 0h2m30 0h1m1 0h3m2 0h1m62 0h1m2 0h2m7 0h1m15 0h1m3 0h1m6 0h1M159 75.5h1m2 0h1m83 0h1m1 0h1m23 0h1m1 0h3m1 0h1m1 0h3m1 0h1m4 0h1m1 0h1m2 0h1m1 0h1m3 0h1m19 0h2m3 0h1m2 0h1m2 0h2m11 0h1m3 0h1m9 0h2m4 0h1m2 0h2m35 0h1m2 0h1m13 0h1m6 0h3m3 0h2M163 76.5h2m2 0h1m17 0h1m7 0h1m52 0h2m6 0h1m4 0h1m14 0h1m1 0h2m4 0h1m8 0h1m16 0h1m8 0h3m21 0h1m1 0h1m3 0h1m11 0h3m1 0h2m16 0h1m5 0h2m6 0h1m17 0h1m1 0h2m6 0h1m3 0h1m4 0h1m1 0h1M204 77.5h1m14 0h1m34 0h2m17 0h5m50 0h1m44 0h1m51 0h1M178 78.5h1m169 0h2m25 0h1m3 0h1m34 0h3m1 0h1m6 0h1m6 0h2M159 79.5h3m2 0h1m9 0h3m1 0h1m1 0h1m5 0h1m6 0h3m2 0h2m10 0h1m9 0h1m30 0h3m17 0h1m3 0h2m4 0h1m6 0h4m30 0h1m2 0h1m14 0h3m1 0h1m8 0h1m2 0h1m1 0h1m1 0h1m2 0h3m1 0h1m5 0h1m17 0h1m3 0h6m8 0h5m4 0h7M161 80.5h2m1 0h1m156 0h1m15 0h1m4 0h1m2 0h1m49 0h2M159 81.5h5m7 0h3m3 0h1m11 0h3m50 0h1m3 0h3m1 0h1m7 0h1m2 0h1m21 0h1m5 0h4m20 0h1m2 0h3m8 0h2m3 0h9m10 0h1m11 0h1m13 0h1m2 0h1m24 0h1m11 0h1m13 0h1M160 82.5h2m34 0h1m1 0h1m8 0h1m2 0h2m36 0h2m17 0h1m67 0h1m19 0h1m52 0h2m3 0h1M165 83.5h1m8 0h3m1 0h1m4 0h1m8 0h1m1 0h1m11 0h1m10 0h1m68 0h1m30 0h1m78 0h1M161 84.5h1m1 0h5m1 0h1m1 0h8m1 0h2m2 0h9m56 0h1m2 0h5m5 0h1m4 0h4m7 0h6m1 0h3m6 0h3m1 0h2m1 0h2m16 0h2m1 0h1m19 0h2m8 0h3m1 0h2m3 0h1m2 0h1m3 0h1m1 0h1m1 0h6m1 0h3m2 0h1m1 0h4m8 0h1m4 0h4m3 0h2m9 0h1m1 0h1m1 0h1m1 0h7M265 87.5h1M281 89.5h1m80 0h1M165 91.5h1M262 94.5h1m4 0h1M176 99.5h1M202 102.5h2m46 0h1m18 0h1m17 0h1m1 0h1m2 0h1m26 0h2m27 0h1m2 0h1m12 0h1m72 0h1m1 0h2M194 104.5h1m10 0h1m10 0h1m41 0h1m8 0h1m31 0h1m42 0h1m32 0h1m1 0h1m8 0h1m18 0h1m16 0h1m1 0h1m4 0h4m10 0h1M164 106.5h2m13 0h1m14 0h1m4 0h1m39 0h2m16 0h2m5 0h1m2 0h2m2 0h1m24 0h1m31 0h1m42 0h2m1 0h4m28 0h3m3 0h1M160 108.5h1m4 0h1m19 0h1m1 0h1m8 0h3m1 0h1m23 0h2m30 0h1m38 0h1m12 0h1m16 0h1m12 0h3m3 0h2m1 0h3m33 0h1m25 0h2m12 0h1M180 110.5h2m1 0h2m16 0h2m77 0h1m28 0h1m1 0h1m7 0h1m73 0h1m10 0h1m2 0h1m1 0h1m1 0h1m6 0h2m1 0h1M166 111.5h1m1 0h1m1 0h2m6 0h1m32 0h1m25 0h1m3 0h2m4 0h1m1 0h2m3 0h2m11 0h2m3 0h3m3 0h1m12 0h1m3 0h1m1 0h2m14 0h1m17 0h1m11 0h1m9 0h1m1 0h1m4 0h1m12 0h2m2 0h2m38 0h1m11 0h1m19 0h1M168 112.5h1m17 0h1m16 0h1m5 0h2m6 0h1m27 0h1m10 0h1m11 0h3m1 0h1m1 0h1m37 0h2m3 0h1m2 0h2m1 0h1m2 0h1m5 0h1m3 0h1m4 0h1m1 0h1m3 0h1m10 0h1m23 0h1m3 0h1m14 0h1m2 0h1m22 0h1M166 113.5h1m24 0h1m6 0h1m42 0h1m4 0h1m6 0h1m7 0h1m40 0h4m3 0h1m47 0h1m7 0h1m1 0h1m2 0h1m5 0h1m40 0h1m1 0h1m28 0h1M167 114.5h2m1 0h3m3 0h1m4 0h1m12 0h1m1 0h1m45 0h1m38 0h1m1 0h2m5 0h1m39 0h1m24 0h2m1 0h3m15 0h1m9 0h1m13 0h1m1 0h1m1 0h1m3 0h1m4 0h4m2 0h1M178 115.5h1m1 0h1m20 0h1m1 0h1m3 0h3m47 0h1m1 0h1m12 0h1m4 0h2m9 0h1m2 0h1m37 0h1m1 0h1m19 0h1m1 0h1m26 0h2m5 0h1m1 0h1m46 0h1m11 0h1M169 116.5h1m108 0h1M254 118.5h1m25 0h1m53 0h2m16 0h1m14 0h1m7 0h1m13 0h1M386 122.5h1"/><path stroke="#9c179e" d="M165 66.5h3m1 0h1m9 0h2m3 0h1m11 0h2m1 0h1m1 0h10m40 0h4m5 0h1m4 0h2m7 0h1m2 0h2m12 0h5m30 0h1m2 0h3m4 0h1m4 0h1m5 0h1m7 0h7m8 0h1m17 0h1m22 0h2m1 0h2m10 0h2m2 0h1M167 67.5h2m23 0h2m1 0h1m74 0h3m1 0h1m3 0h1m45 0h1m1 0h2m9 0h3m34 0h1m4 0h1m3 0h1m11 0h1m6 0h1m4 0h1m16 0h1M185 68.5h1m9 0h2m89 0h4m72 0h1m51 0h1m8 0h3M165 69.5h1m6 0h1m22 0h2m2 0h2m55 0h1m16 0h1m1 0h1m7 0h1m39 0h1m7 0h2m22 0h2m4 0h1m1 0h1m1 0h2m52 0h1M159 70.5h1m1 0h1m15 0h3m17 0h2m1 0h5m43 0h1m9 0h4m2 0h1m8 0h1m4 0h3m38 0h1m3 0h1m13 0h2m1 0h4m1 0h1m4 0h3m1 0h3m2 0h1m31 0h1m33 0h1m1 0h1M251 71.5h1m3 0h1m42 0h1m52 0h5M163 72.5h1m23 0h2m12 0h1m54 0h2m10 0h1m10 0h3m34 0h2m1 0h1m18 0h2m1 0h1m17 0h4m3 0h1M165 73.5h1m8 0h6m1 0h1m5 0h1m1 0h2m4 0h2m2 0h1m135 0h4m1 0h4m18 0h4m17 0h6M160 74.5h2m1 0h1m23 0h1m4 0h1m1 0h1m148 0h1m26 0h3m14 0h3m38 0h1M164 75.5h1m2 0h2m2 0h1m6 0h1m1 0h1m1 0h3m2 0h1m1 0h1m7 0h1m5 0h2m1 0h2m47 0h3m1 0h1m7 0h1m18 0h1m36 0h2m1 0h1m6 0h1m1 0h1m14 0h1m10 0h1m15 0h2m16 0h2m12 0h2m1 0h3m1 0h3M171 76.5h2m6 0h1m6 0h3m3 0h1m5 0h2m55 0h1m1 0h2m1 0h1m3 0h2m14 0h1m53 0h1m1 0h2m47 0h1m32 0h4M197 77.5h1m64 0h2m72 0h2m15 0h1m44 0h3M162 78.5h4m11 0h1m1 0h1m13 0h2m138 0h1m13 0h1m2 0h1m76 0h1M165 79.5h6m8 0h1m1 0h1m10 0h1m3 0h2m7 0h1m60 0h5m3 0h1m49 0h1m2 0h2m1 0h1m8 0h1m3 0h1m1 0h2m10 0h1m22 0h1M194 80.5h2m92 0h2M167 81.5h1m8 0h1m1 0h1m7 0h2m8 0h11m42 0h1m1 0h2m20 0h3m99 0h2m1 0h2m1 0h1m13 0h1m18 0h1m3 0h1m13 0h1M278 82.5h1m49 0h1m4 0h1m26 0h1M193 83.5h1m1 0h2m66 0h1m83 0h1m35 0h1M159 84.5h1m19 0h1m2 0h1m11 0h4m4 0h2m2 0h1m3 0h3m37 0h1m6 0h1m6 0h2m48 0h2m5 0h1m1 0h1m4 0h4m13 0h1m51 0h1m17 0h2m9 0h1m8 0h1M251 91.5h1M275 92.5h1M408 100.5h1M159 102.5h1m37 0h2m5 0h1m33 0h2m64 0h3m16 0h1m4 0h1m17 0h1m2 0h2m1 0h1m2 0h1m9 0h1m5 0h2m48 0h3m6 0h1M185 104.5h1m1 0h1m1 0h1m3 0h1m8 0h1m1 0h1m7 0h1m127 0h1m2 0h1m1 0h1m1 0h1m17 0h2m15 0h2m6 0h1m1 0h2m13 0h3m4 0h2m18 0h1M163 106.5h1m2 0h1m1 0h1m5 0h2m86 0h1m9 0h1m6 0h1m90 0h1m2 0h1m28 0h2M159 108.5h1m2 0h1m8 0h3m10 0h1m3 0h1m62 0h1m10 0h1m61 0h1m16 0h1m4 0h1m3 0h1m90 0h4m4 0h1M162 110.5h1m5 0h1m18 0h2m8 0h1m11 0h1m17 0h1m13 0h1m19 0h1m1 0h1m17 0h1m12 0h1m108 0h1m36 0h1M162 111.5h1m6 0h1m4 0h1m1 0h1m16 0h1m72 0h1m32 0h1m5 0h1m2 0h1m16 0h1m1 0h1m14 0h1m2 0h2m2 0h2m3 0h1m2 0h1m14 0h1m3 0h1m12 0h3m26 0h1m8 0h1M169 112.5h1m3 0h1m27 0h2m11 0h1m34 0h1m1 0h1m1 0h3m10 0h2m26 0h3m19 0h1m7 0h1m3 0h1m4 0h3m2 0h1m5 0h1m20 0h2m4 0h1m5 0h1m7 0h1m21 0h1m3 0h4M193 113.5h1m48 0h2m12 0h1m7 0h1m11 0h1m6 0h1m1 0h1m21 0h1m24 0h1m6 0h1m2 0h1m23 0h1m13 0h1m46 0h1m6 0h1m14 0h1M166 114.5h1m7 0h2m15 0h1m5 0h1m12 0h1m1 0h1m48 0h1m18 0h1m8 0h1m5 0h2m1 0h1m37 0h1m6 0h1m31 0h1m16 0h1m4 0h2m2 0h1m3 0h2m2 0h1M159 115.5h2m18 0h1m12 0h1m11 0h1m34 0h2m15 0h1m11 0h1m4 0h2m4 0h1m1 0h1m3 0h1m28 0h3m11 0h1m21 0h1m3 0h1m21 0h1m46 0h1M326 116.5h1m1 0h3M170 118.5h1m1 0h1m19 0h1m173 0h1m1 0h1"/><path stroke="#8e0ca4" d="M164 66.5h1m8 0h2m7 0h2m1 0h1m12 0h1m1 0h1M175 67.5h4m10 0h1m69 0h2m1 0h1m14 0h1m1 0h2M271 68.5h1m7 0h1m15 0h1M197 69.5h1m53 0h1m14 0h2m66 0h2m46 0h1m48 0h3M163 70.5h2m19 0h5m138 0h5m12 0h1m1 0h3m68 0h2m1 0h1M199 71.5h1m56 0h1m72 0h2M171 72.5h1m6 0h1m139 0h1m1 0h1m37 0h1M186 73.5h1m1 0h1m9 0h1m59 0h6m2 0h1m5 0h1m73 0h2m26 0h2M191 74.5h1m1 0h1m58 0h1m16 0h2m8 0h1M165 75.5h2m2 0h1m9 0h1m25 0h1m60 0h1m144 0h1m20 0h1M173 76.5h2m88 0h1m60 0h4m2 0h2m13 0h1M354 77.5h1M334 78.5h2M184 79.5h1m144 0h1m96 0h1M183 80.5h1m83 0h1M180 81.5h1m86 0h2m2 0h2m3 0h2m137 0h1M168 82.5h3m188 0h1M264 83.5h2m95 0h3M205 84.5h1m1 0h3m62 0h5m56 0h8M160 102.5h1m3 0h1m34 0h1m127 0h1m2 0h1m10 0h1m3 0h1m16 0h1m4 0h3M170 104.5h1m2 0h2m2 0h3m4 0h1m1 0h1m20 0h5m129 0h1m4 0h1m14 0h1m1 0h1m7 0h1m12 0h1m6 0h1M162 106.5h1m4 0h1m1 0h2m5 0h1m83 0h2m85 0h2m8 0h1m2 0h1m24 0h1m18 0h1m5 0h1M170 108.5h1m4 0h1m4 0h1m71 0h1m6 0h3m70 0h1m1 0h2m34 0h1m79 0h1M159 110.5h1m3 0h1m6 0h2m1 0h1m32 0h1m1 0h1m1 0h1m1 0h1m5 0h1m4 0h4m1 0h1m10 0h1m4 0h1m6 0h1m64 0h1m29 0h4m8 0h1m64 0h1m1 0h1m12 0h1M160 111.5h2m2 0h1m10 0h1m130 0h2m21 0h2m25 0h1m31 0h1m3 0h2m4 0h1m13 0h2m14 0h1M171 112.5h1m32 0h1m10 0h1m34 0h1m1 0h1m11 0h1m26 0h2m36 0h1m1 0h1m5 0h1m22 0h1m19 0h1m28 0h1m8 0h1m10 0h1m1 0h1M189 113.5h1m54 0h1m18 0h1m8 0h1m11 0h1m50 0h3m3 0h1m13 0h2m1 0h5m15 0h2m1 0h2m10 0h4m1 0h2m23 0h4m16 0h1M193 114.5h1m19 0h1m44 0h2m68 0h1m10 0h1m34 0h1m14 0h1m3 0h2m44 0h1M182 115.5h2m18 0h1m30 0h1m30 0h4m2 0h2m3 0h1m37 0h1m30 0h1m1 0h1m8 0h1m23 0h1M174 116.5h2m151 0h1m39 0h1m31 0h1m17 0h1m4 0h2M171 118.5h1"/><path stroke="#8104a7" d="M171 66.5h2m2 0h2M182 67.5h1M294 68.5h1M176 69.5h2m252 0h1M416 70.5h1m2 0h1m1 0h1M185 71.5h1M172 72.5h2m6 0h1m1 0h1M256 73.5h2m7 0h1m79 0h1M376 77.5h3M181 81.5h1M165 102.5h1m17 0h1m3 0h1m89 0h1m35 0h3m1 0h1m8 0h1m2 0h1m27 0h1m15 0h1m2 0h1M164 104.5h1m10 0h2m11 0h1m170 0h1m10 0h1M159 106.5h1m162 0h1m56 0h1M176 108.5h4m1 0h1m10 0h1m88 0h1m46 0h2m1 0h1m1 0h1m2 0h1m27 0h3m1 0h2m1 0h6m3 0h2M160 110.5h2m10 0h1m2 0h3m26 0h2m1 0h1m3 0h1m7 0h4m17 0h1m1 0h2m1 0h1m4 0h1m13 0h1m3 0h2m92 0h1m50 0h1m10 0h1m2 0h2M163 111.5h1m164 0h1m4 0h2m45 0h1m30 0h1m20 0h3M166 112.5h1m163 0h1m30 0h1m8 0h1m8 0h1m36 0h2m14 0h1M173 113.5h1m99 0h1m60 0h1m28 0h1m33 0h1M160 114.5h1m23 0h1m1 0h1m2 0h1m2 0h1m64 0h1m4 0h1m107 0h3m15 0h1m1 0h1m5 0h1m41 0h1M168 115.5h1m5 0h1m1 0h1m23 0h1m31 0h1m1 0h1m34 0h1m28 0h1m13 0h1m8 0h3m85 0h3M159 116.5h1M257 120.5h3"/><path stroke="#7201a8" d="M186 71.5h1M181 72.5h1m1 0h1M259 84.5h2M181 102.5h2m1 0h3m129 0h1m41 0h1M168 104.5h1m31 0h1m159 0h1M319 106.5h3m1 0h4M330 108.5h1M164 110.5h1m9 0h1m40 0h3m110 0h1m34 0h1m62 0h1m21 0h1M182 111.5h1m1 0h2m9 0h1m65 0h1m19 0h1M172 112.5h1m1 0h1m244 0h1M174 113.5h2m27 0h1M159 114.5h1m27 0h2m66 0h1m4 0h1m31 0h2m38 0h3m2 0h2m1 0h1m96 0h1m2 0h1M171 115.5h1m145 0h1"/><path stroke="#6400a7" d="M278 102.5h1M181 104.5h2M388 108.5h1M214 110.5h1m44 0h1m67 0h1m1 0h2m2 0h1m1 0h4m26 0h1m64 0h1m5 0h1M186 111.5h1m72 0h2m2 0h2m15 0h1m38 0h1M206 112.5h2M195 113.5h2m136 0h1m52 0h1m1 0h1m53 0h1M312 114.5h1m22 0h1M164 115.5h2m1 0h1m1 0h1m2 0h1m257 0h1m1 0h1"/><path stroke="#5502a4" d="M387 108.5h1M332 110.5h1m1 0h1m31 0h1M181 111.5h1m1 0h1m78 0h1m55 0h1m2 0h2m59 0h1m48 0h1M356 112.5h1M387 113.5h1M314 114.5h2m106 0h1M170 115.5h1m64 0h1m192 0h2m1 0h1"/><path stroke="#46039f" d="M323 111.5h1M389 113.5h1M313 114.5h1m107 0h1M433 115.5h1"/><path stroke="#350498" d="M320 111.5h1M316 114.5h1"/><path stroke="#240691" d="M378 114.5h2"/><rect x="159" y="267" width="292" height="207" fill="url(#h1ga)"/><rect x="159" y="267" width="292" height="207" fill="url(#h1gb)" mask="url(#h1mk)"/><path stroke="#f6e826" d="M449.5 233V267"/><path stroke="#fff" stroke-width="1" fill="#fff" d="M170.5 469V474M175.5 468V474M176.5 469V474M185.5 463V474M186.5 469V474M191.5 473V474M195.5 463V474M196.5 469V474M199.5 473V474M201.5 468V474M207.5 469V474M210.5 469V474M212.5 469V474M214.5 469V474M217.5 469V474M222.5 469V474M225.5 463V474M232.5 469V474M233.5 469V474M234.5 469V474M237.5 469V474M243.5 469V474M264.5 469V474M266.5 469V474M268.5 469V474M273.5 468V474M277.5 468V474M285.5 463V474M287.5 463V474M292.5 468V474M295.5 458V474M296.5 423V474M297.5 469V474M304.5 458V474M305.5 463V474M306.5 464V474M308.5 473V474M312.5 469V474M326.5 469V474M328.5 469V474M330.5 469V474M339.5 458V474M342.5 463V474M344.5 469V474M347.5 469V474M356.5 467V474M358.5 463V474M364.5 468V474M365.5 468V474M375.5 469V474M376.5 458V474M377.5 392V474M378.5 370V474M379.5 341V474M380.5 327V474M381.5 370V474M382.5 396V474M383.5 363V474M384.5 448V474M385.5 407V474M386.5 387V474M387.5 372V474M388.5 377V474M389.5 382V474M390.5 387V474M391.5 381V474M392.5 396V474M393.5 417V474M394.5 458V474M407.5 467V474M411.5 469V474M414.5 463V474M416.5 467V474M419.5 469V474M420.5 423V474M421.5 442V474M422.5 428V474M423.5 438V474M426.5 467V474M430.5 467V474M433.5 396V474M434.5 408V474M437.5 467V474M439.5 463V474M442.5 469V474M444.5 467V474M177.5 471V474M187.5 470V474M215.5 473V474M218.5 472V474M219.5 473V474M221.5 473V474M229.5 473V474M231.5 472V474M236.5 473V474M238.5 471V474M239.5 473V474M260.5 473V474M263.5 472V474M265.5 471V474M271.5 470V474M275.5 472V474M276.5 470V474M282.5 470V474M288.5 470V474M289.5 472V474M300.5 473V474M301.5 472V474M316.5 471V474M321.5 472V474M338.5 471V474M343.5 470V474M345.5 473V474M349.5 471V474M354.5 473V474M371.5 472V474M372.5 472V474M396.5 472V474M399.5 470V474M401.5 473V474M408.5 472V474M418.5 472V474M441.5 473V474M447.5 472V474"/><path stroke="#f0f921" d="M669 196.5h1m1 0h1M759 198.5h10M650 202.5h1m1 0h2m8 0h1M667 208.5h1M658 210.5h1M646 212.5h1M591 224.5h1M603 241.5h1m19 0h2m17 0h3m6 0h2m1 0h6m73 0h2m65 0h1m2 0h1M602 243.5h2m3 0h1m36 0h8m7 0h2m2 0h4m175 0h2m11 0h2m1 0h6m12 0h6M593 245.5h1m8 0h2m29 0h1m9 0h1m17 0h2m66 0h3m127 0h2M597 247.5h4m16 0h1m20 0h1m16 0h1m1 0h3m1 0h1m1 0h2m1 0h2m81 0h1m43 0h1m2 0h1m1 0h1m41 0h1m1 0h6m4 0h1m11 0h2m3 0h2M649 249.5h2m84 0h1m103 0h1m28 0h1m5 0h4m2 0h2M604 251.5h2m1 0h2m25 0h3m1 0h3m16 0h19m67 0h1m61 0h1m17 0h3m21 0h3m19 0h2M628 253.5h1m37 0h2m58 0h4m21 0h1M626 255.5h2m106 0h2m5 0h1m51 0h1m82 0h1M619 257.5h1m171 0h1M662 258.5h1m22 0h1M660 259.5h2m198 0h1m1 0h1M632 260.5h1M665 263.5h4m152 0h1"/><path stroke="#f5e926" d="M662 149.5h1m1 0h1M662 153.5h2M657 157.5h1m7 0h1M792 161.5h1M633 174.5h1M616 194.5h2m1 0h1m33 0h1m1 0h12M632 196.5h1m13 0h4m2 0h2m1 0h2m4 0h6m3 0h1m53 0h9M596 198.5h4m15 0h1m1 0h3m22 0h3m14 0h1m6 0h6m151 0h1M613 200.5h4m8 0h6m20 0h2m2 0h3m4 0h6m3 0h2m23 0h1M599 202.5h2m46 0h3m1 0h1m202 0h1M606 204.5h1m6 0h5m1 0h2m1 0h1m33 0h1m7 0h6m3 0h1m145 0h1M628 206.5h2m20 0h1m1 0h1m1 0h2m1 0h6m2 0h1m107 0h1M597 208.5h1m5 0h1m1 0h1m1 0h1m21 0h1m3 0h1m2 0h1m5 0h1m6 0h1m2 0h1m9 0h1m8 0h2m103 0h1m27 0h2m47 0h3M601 210.5h1m12 0h2m52 0h1m141 0h1m42 0h2M606 212.5h1m36 0h1m17 0h1m1 0h1m10 0h3m57 0h1m92 0h2M624 214.5h1m108 0h1m117 0h1M713 221.5h1M702 222.5h1M716 230.5h1M876 240.5h1M589 241.5h2m3 0h1m4 0h1m4 0h2m8 0h6m6 0h1m4 0h6m2 0h2m5 0h3m17 0h4m3 0h2m1 0h1m1 0h7m2 0h1m40 0h4m3 0h6m6 0h2m1 0h1m1 0h2m2 0h1m4 0h1m3 0h3m2 0h1m7 0h1m1 0h4m12 0h4m1 0h2m4 0h13m3 0h1m1 0h1m1 0h3m4 0h4m1 0h1m4 0h4m5 0h4m2 0h2m1 0h2m1 0h6m1 0h9M591 243.5h7m1 0h1m8 0h1m14 0h12m3 0h3m1 0h1m10 0h3m13 0h4m46 0h3m8 0h1m2 0h12m2 0h1m13 0h1m3 0h1m18 0h1m1 0h1m2 0h2m4 0h3m4 0h1m2 0h5m28 0h1m15 0h1m2 0h1m7 0h1m2 0h1M589 245.5h2m1 0h1m1 0h1m1 0h1m1 0h2m4 0h1m1 0h10m8 0h1m3 0h1m6 0h6m5 0h6m3 0h2m13 0h3m4 0h1m2 0h1m21 0h5m5 0h6m18 0h1m1 0h2m1 0h3m1 0h1m2 0h7m5 0h7m10 0h2m1 0h3m2 0h1m1 0h2m1 0h11m4 0h6m30 0h2m5 0h1m5 0h4m3 0h3m8 0h6m3 0h1M590 247.5h5m7 0h1m1 0h1m1 0h3m3 0h3m3 0h1m1 0h3m5 0h9m10 0h8m14 0h2m3 0h4m27 0h1m3 0h1m1 0h1m1 0h2m10 0h6m3 0h2m6 0h2m6 0h1m1 0h2m6 0h1m22 0h1m8 0h1m1 0h2m1 0h1m3 0h2m1 0h6m1 0h2m4 0h1m10 0h3m10 0h1m6 0h1m6 0h4m14 0h3m2 0h1M590 249.5h1m1 0h3m2 0h2m1 0h2m1 0h3m2 0h6m1 0h10m6 0h1m1 0h2m7 0h5m6 0h4m2 0h7m1 0h1m4 0h1m20 0h3m23 0h1m3 0h1m1 0h2m1 0h2m1 0h3m6 0h1m3 0h1m2 0h2m2 0h3m4 0h2m1 0h1m1 0h1m6 0h1m2 0h1m5 0h1m5 0h1m7 0h1m2 0h4m10 0h10m6 0h3m3 0h1m2 0h1m4 0h4m7 0h1m1 0h5m9 0h1M592 251.5h6m8 0h1m2 0h1m3 0h2m2 0h6m4 0h3m7 0h1m4 0h4m32 0h1m35 0h1m3 0h7m4 0h6m1 0h6m2 0h2m4 0h3m5 0h2m1 0h1m1 0h1m2 0h3m1 0h1m3 0h1m2 0h1m1 0h3m2 0h7m8 0h2m8 0h7m2 0h4m5 0h1m6 0h1m1 0h3m1 0h1m1 0h4m6 0h2m2 0h3m1 0h1m14 0h1m5 0h1M589 253.5h3m2 0h6m1 0h3m6 0h3m1 0h3m3 0h5m9 0h1m4 0h1m8 0h2m3 0h7m1 0h4m6 0h2m1 0h1m6 0h2m49 0h2m3 0h2m2 0h1m8 0h1m3 0h6m8 0h2m7 0h3m5 0h1m6 0h5m5 0h1m3 0h8m1 0h3m4 0h3m6 0h2m7 0h6m2 0h1m1 0h5m1 0h2m3 0h2m1 0h11m1 0h1m3 0h2M589 255.5h2m75 0h1m25 0h1m45 0h1m16 0h1m4 0h2m6 0h2m33 0h1m41 0h1m4 0h1m12 0h1m1 0h1M672 256.5h1m3 0h2m41 0h1m6 0h1m79 0h2m29 0h1m17 0h1m4 0h1m10 0h1M621 257.5h1m12 0h2m98 0h1m29 0h2m5 0h1m11 0h1m6 0h1m13 0h1m23 0h1m25 0h1M734 258.5h1M638 259.5h1m25 0h1m175 0h1m20 0h1m15 0h1M622 260.5h1m12 0h2m30 0h1m11 0h1m14 0h1m26 0h1m3 0h1m130 0h1M596 261.5h2m26 0h1m109 0h2M681 262.5h1m182 0h1M720 263.5h1m133 0h1m2 0h1"/><path stroke="#fada24" d="M635 149.5h3m22 0h2m1 0h1m1 0h2M648 151.5h1m14 0h1M664 153.5h2M663 155.5h1m11 0h1M664 157.5h1m1 0h4m3 0h1M863 159.5h1M662 161.5h4m125 0h1M854 163.5h1M659 165.5h1M720 167.5h1M596 176.5h1M840 182.5h1M796 183.5h1M859 186.5h1M589 194.5h1m14 0h1m8 0h3m2 0h1m7 0h5m1 0h2m8 0h1m1 0h1m2 0h2m5 0h1m12 0h1m3 0h1m4 0h1m55 0h1m1 0h1m1 0h1m2 0h1m5 0h1m1 0h2m4 0h4m4 0h1m12 0h5m4 0h2m1 0h1m7 0h6m8 0h7m1 0h2m3 0h1m6 0h3m2 0h3m4 0h1m9 0h1m3 0h7M601 196.5h4m2 0h1m5 0h2m1 0h1m7 0h4m14 0h2m10 0h1m3 0h2m18 0h1m35 0h1m6 0h3m13 0h1m12 0h17m16 0h3m9 0h1m4 0h1m4 0h8m8 0h1m3 0h1m6 0h1m1 0h1m2 0h1m1 0h9m1 0h11M589 198.5h1m16 0h2m6 0h1m1 0h1m7 0h3m8 0h3m10 0h7m1 0h3m1 0h3m12 0h2m4 0h1m4 0h2m1 0h1m1 0h1m26 0h1m13 0h2m3 0h1m2 0h2m9 0h1m18 0h5m2 0h11m1 0h1m1 0h3m4 0h11m2 0h1m3 0h2m1 0h1m32 0h1M591 200.5h2m7 0h8m15 0h1m8 0h1m11 0h4m2 0h1m2 0h1m5 0h1m8 0h1m5 0h1m1 0h3m15 0h2m1 0h2m2 0h8m12 0h2m6 0h2m1 0h4m6 0h2m1 0h2m8 0h4m1 0h2m9 0h1m13 0h1m1 0h4m1 0h2m2 0h2m13 0h14m1 0h1m3 0h1m13 0h2m3 0h1m3 0h2M590 202.5h2m1 0h3m5 0h1m14 0h11m1 0h1m1 0h4m2 0h2m4 0h1m12 0h2m7 0h1m2 0h5m1 0h1m1 0h1m25 0h2m1 0h1m2 0h1m1 0h2m17 0h1m22 0h1m1 0h2m5 0h1m15 0h1m1 0h7m14 0h1m2 0h1m12 0h1m1 0h6m1 0h5m8 0h3m4 0h1m2 0h2M604 204.5h1m2 0h1m10 0h1m12 0h1m1 0h3m11 0h4m6 0h3m10 0h3m1 0h4m2 0h1m38 0h3m4 0h3m1 0h7m1 0h2m1 0h2m3 0h10m21 0h1m4 0h8m5 0h1m7 0h1m25 0h2m8 0h2m1 0h2m3 0h1M594 206.5h3m5 0h3m13 0h3m10 0h2m9 0h8m1 0h1m1 0h1m12 0h7m1 0h3m4 0h1m11 0h2m9 0h1m1 0h1m18 0h1m1 0h1m8 0h1m8 0h2m5 0h1m15 0h5m18 0h2m10 0h1m2 0h3m33 0h2m1 0h3m5 0h1m1 0h2M596 208.5h1m18 0h1m29 0h1m55 0h1m3 0h2m1 0h1m21 0h1m26 0h3m11 0h2m26 0h1m13 0h1m1 0h2m2 0h2m2 0h2m1 0h1m12 0h2m6 0h3m1 0h1M589 210.5h1m1 0h2m28 0h1m68 0h3m6 0h1m1 0h2m61 0h6m1 0h3m5 0h1m12 0h2m3 0h1m4 0h1m4 0h1m4 0h1m4 0h4m5 0h1m15 0h1m3 0h1m9 0h2M613 212.5h2m13 0h2m21 0h1m25 0h1m11 0h1m48 0h1m6 0h1m68 0h1m29 0h1M694 214.5h1m11 0h1m3 0h1m64 0h2m3 0h3m45 0h1M797 216.5h1M880 220.5h1M800 222.5h1M840 232.5h1M596 241.5h2m10 0h5m15 0h2m40 0h1m14 0h2m1 0h2m6 0h1m2 0h2m5 0h5m1 0h1m1 0h2m3 0h5m18 0h4m5 0h1m2 0h2m1 0h4m8 0h1m7 0h1m46 0h1m1 0h1m22 0h1M589 243.5h1m22 0h6m19 0h1m3 0h1m31 0h2m2 0h4m10 0h3m4 0h1m4 0h10m2 0h1m10 0h1m21 0h12m10 0h7m6 0h1m1 0h1m13 0h1m12 0h18m1 0h3m36 0h3M630 245.5h1m35 0h2m8 0h1m1 0h2m6 0h7m2 0h3m1 0h2m18 0h9m16 0h1m1 0h1m21 0h2m3 0h3m3 0h1m33 0h3m2 0h5m1 0h8m13 0h1M589 247.5h1m92 0h10m2 0h1m1 0h6m2 0h1m2 0h2m1 0h1m1 0h1m3 0h2m29 0h1m7 0h5m1 0h6m1 0h8m3 0h3m3 0h6m29 0h4M589 249.5h1m1 0h1m3 0h2m2 0h1m32 0h1m44 0h1m7 0h5m1 0h1m5 0h5m2 0h2m2 0h2m4 0h2m1 0h2m1 0h3m1 0h1m2 0h1m9 0h2m15 0h2m12 0h1m5 0h1m1 0h1m9 0h1m1 0h5m1 0h2m4 0h1m2 0h1m17 0h1m36 0h1M611 251.5h2m66 0h6m5 0h11m10 0h3m1 0h1m10 0h2m21 0h1m7 0h1m2 0h1m31 0h6m30 0h2m5 0h1m3 0h1m23 0h1M613 253.5h1m29 0h2m31 0h1m11 0h5m1 0h7m2 0h1m2 0h2m1 0h2m1 0h9m18 0h1m8 0h1m12 0h1m13 0h2m11 0h1m1 0h1m36 0h2m48 0h3M681 255.5h1m13 0h1m76 0h2M689 256.5h1m32 0h2m28 0h1m11 0h1m7 0h1M728 257.5h3M688 259.5h1m1 0h1m74 0h1m20 0h1M687 260.5h1m181 0h1M712 261.5h1m2 0h1"/><path stroke="#fdca26" d="M646 147.5h2m1 0h2m145 0h1m6 0h1m1 0h2M621 149.5h5m100 0h1m56 0h2M613 151.5h1m6 0h1m14 0h1m28 0h1m6 0h1m1 0h2m69 0h1M625 153.5h2M617 155.5h2m33 0h1m2 0h3m2 0h2m2 0h3m3 0h1m1 0h1m63 0h1m1 0h1M672 157.5h1M731 159.5h4m127 0h1M653 161.5h1m12 0h3m43 0h2M605 163.5h1m52 0h1m196 0h1M731 165.5h1M619 167.5h1m101 0h1M731 169.5h1M825 171.5h1M799 175.5h1M633 186.5h1M860 187.5h1M792 189.5h1M849 192.5h1M590 194.5h1m1 0h11m4 0h1m23 0h1m3 0h3m5 0h1m1 0h1m38 0h5m1 0h1m1 0h1m3 0h1m2 0h3m12 0h4m7 0h7m1 0h1m6 0h2m8 0h1m17 0h1m13 0h1m9 0h1m26 0h1m3 0h4m4 0h1m12 0h4m1 0h1M589 196.5h3m2 0h1m1 0h4m15 0h1m1 0h1m5 0h1m10 0h4m42 0h2m1 0h2m1 0h1m1 0h1m4 0h6m7 0h1m2 0h4m6 0h1m14 0h3m1 0h1m7 0h2m24 0h3m2 0h2m3 0h1m4 0h6m1 0h1m1 0h2m3 0h1m12 0h6m8 0h3m2 0h1m1 0h2m1 0h1M591 198.5h1m1 0h1m7 0h4m73 0h1m1 0h1m1 0h3m3 0h1m1 0h1m17 0h1m1 0h2m1 0h4m5 0h6m3 0h1m63 0h2m20 0h1m1 0h3m4 0h2m2 0h1m1 0h1m7 0h1m3 0h1m5 0h1m3 0h7M595 200.5h1m1 0h1m23 0h2m69 0h1m38 0h1m5 0h3m19 0h1m17 0h2m3 0h1m1 0h1m1 0h1m4 0h1m9 0h2m3 0h3m16 0h1m1 0h3m3 0h6m1 0h3m4 0h2m1 0h3m5 0h2M592 202.5h1m20 0h1m58 0h1m1 0h1m1 0h8m14 0h1m1 0h1m2 0h1m1 0h2m1 0h1m4 0h1m5 0h9m1 0h1m6 0h3m4 0h1m1 0h4m3 0h1m14 0h1m1 0h1m2 0h3m11 0h3m1 0h9m1 0h2m1 0h1m2 0h3m4 0h1m16 0h2m1 0h1m7 0h1m17 0h2M602 204.5h1m26 0h2m1 0h1m3 0h2m4 0h2m39 0h8m4 0h1m4 0h3m1 0h8m2 0h1m3 0h1m44 0h3m6 0h1m7 0h1m10 0h4m1 0h6m2 0h12m5 0h5m6 0h1m3 0h1m7 0h3m9 0h3M635 206.5h3m35 0h1m5 0h2m1 0h3m2 0h2m3 0h1m3 0h2m15 0h2m1 0h1m1 0h6m6 0h1m8 0h3m2 0h1m3 0h4m1 0h9m4 0h1m8 0h1m4 0h1m2 0h2m1 0h1m1 0h1m5 0h7m10 0h12m1 0h1m1 0h1m6 0h5m2 0h1m8 0h4m1 0h1M621 208.5h2m64 0h1m2 0h2m5 0h1m13 0h1m39 0h1m13 0h2m18 0h1M696 210.5h1m21 0h2m5 0h1m50 0h3m1 0h1m5 0h1M694 212.5h1m7 0h2m111 0h1m43 0h2M682 214.5h1m150 0h1M692 241.5h2m1 0h1m1 0h1M683 243.5h6M765 249.5h3m54 0h1"/><path stroke="#febb2b" d="M861 138.5h1M619 147.5h1m4 0h3m9 0h2m10 0h1m76 0h1m4 0h1m64 0h1m8 0h1m2 0h1M615 149.5h1m24 0h1m139 0h3m22 0h1M619 151.5h1m1 0h2m14 0h1m29 0h2m3 0h1m2 0h1m1 0h1m65 0h1m1 0h3m3 0h1m83 0h1M627 153.5h5m92 0h2m10 0h1m79 0h2M626 155.5h1m22 0h1m1 0h1m1 0h2m4 0h1m11 0h1m4 0h1m60 0h1m76 0h1M795 157.5h1m26 0h1m5 0h1M604 159.5h1m36 0h2m15 0h1m200 0h1M589 161.5h1m3 0h3m10 0h1m13 0h2m17 0h1m100 0h1m110 0h1M618 163.5h3m10 0h1m24 0h1m9 0h1m47 0h1m16 0h1m2 0h1m44 0h1m26 0h1m25 0h2M592 165.5h1m127 0h1m20 0h1m19 0h1M599 167.5h3m115 0h1m150 0h2M634 169.5h1m171 0h2M822 174.5h1M646 181.5h1m211 0h1M791 182.5h1M873 189.5h1M681 194.5h2m8 0h1m2 0h2m1 0h2m8 0h4m1 0h1m7 0h1m69 0h2m9 0h6m31 0h1M685 196.5h1m1 0h1m2 0h1m9 0h1m3 0h1m63 0h2m1 0h1m3 0h1m27 0h1M629 198.5h1m65 0h4m1 0h6m37 0h6m79 0h2m1 0h1m1 0h3M635 200.5h3m4 0h1m40 0h3m1 0h1m22 0h4m34 0h2m16 0h2M684 202.5h3m1 0h8m18 0h1m29 0h1m23 0h1m1 0h1m38 0h2M600 204.5h2m89 0h1m141 0h1M717 206.5h1m20 0h1m48 0h1m37 0h1m1 0h4"/><path stroke="#fdac33" d="M803 128.5h1M621 147.5h1m13 0h1m2 0h3m22 0h1m4 0h2m2 0h1m27 0h1m23 0h1m1 0h4m1 0h1m9 0h1m57 0h1m50 0h1m1 0h1M589 149.5h1m5 0h1m20 0h4m22 0h1m5 0h1m71 0h1m3 0h1m20 0h1m21 0h2m4 0h1m16 0h1m4 0h1m1 0h1m8 0h1m50 0h2M636 151.5h1m21 0h1m19 0h3m30 0h1m5 0h1m1 0h2m27 0h3m1 0h1m14 0h1m43 0h2m5 0h2m14 0h1m1 0h1m22 0h1M600 153.5h1m12 0h11m44 0h1m122 0h2m22 0h1m2 0h1m38 0h1M593 155.5h3m27 0h3m16 0h2m6 0h1m26 0h2m36 0h1m1 0h3m8 0h2m4 0h1m17 0h1m1 0h2m27 0h4m2 0h7M619 157.5h1m11 0h1m2 0h1m20 0h1m45 0h1m94 0h2m3 0h1m5 0h2m3 0h1m5 0h2m28 0h1m3 0h1M603 159.5h1m1 0h2m7 0h1m1 0h2m1 0h1m4 0h1m1 0h2m16 0h2m5 0h2m3 0h1m49 0h1m57 0h2m31 0h3m2 0h2m51 0h1m2 0h1m1 0h1M590 161.5h3m6 0h2m12 0h1m17 0h8m1 0h1m98 0h1m1 0h2m1 0h1m53 0h1m37 0h1m1 0h1m1 0h1m2 0h1m1 0h2m3 0h1m5 0h1m3 0h3M628 163.5h1m4 0h1m2 0h2m3 0h1m28 0h2m12 0h1m24 0h1m3 0h1m32 0h1m33 0h1m1 0h1m41 0h1M600 165.5h1m23 0h1m40 0h1m74 0h1m31 0h1m43 0h2m1 0h1m47 0h2M640 167.5h1m115 0h1m28 0h2m22 0h2m1 0h1m24 0h1m11 0h2M628 169.5h1m212 0h1M693 198.5h2M686 200.5h1M870 202.5h4M874 204.5h1M865 208.5h1m6 0h1M872 210.5h1"/><path stroke="#fb9f3a" d="M601 125.5h1M868 131.5h1M854 137.5h1M597 147.5h5m12 0h2m4 0h1m21 0h1m14 0h6m35 0h2m1 0h1m6 0h1m13 0h1m10 0h1m2 0h2m1 0h2m3 0h1m1 0h2m2 0h2m48 0h1m14 0h1m6 0h1m16 0h1m1 0h1m9 0h1m1 0h3m1 0h2m1 0h1M590 149.5h5m11 0h2m19 0h3m3 0h1m15 0h1m18 0h4m43 0h5m3 0h1m39 0h1m1 0h1m8 0h3m11 0h2m1 0h4m1 0h1m26 0h1m22 0h1m15 0h1M593 151.5h1m6 0h1m2 0h1m20 0h1m15 0h1m1 0h2m74 0h1m43 0h1m3 0h1m1 0h1m26 0h1m7 0h3m1 0h4m2 0h1m24 0h1m4 0h1m2 0h1m8 0h1M594 153.5h6m3 0h2m47 0h1m1 0h1m20 0h2m36 0h7m11 0h1m1 0h1m22 0h1m4 0h1m8 0h1m1 0h3m2 0h3m1 0h1m12 0h3m1 0h1m7 0h2m1 0h2m15 0h1m9 0h2m2 0h3m2 0h1m5 0h2m1 0h3m1 0h1M601 155.5h1m11 0h1m18 0h2m2 0h1m1 0h3m51 0h1m21 0h1m1 0h1m3 0h2m1 0h2m6 0h3m19 0h1m12 0h2m32 0h1m1 0h1m1 0h2m32 0h1m8 0h1m4 0h1M602 157.5h1m18 0h10m1 0h2m63 0h1m27 0h3m1 0h3m5 0h8m1 0h1m45 0h1m11 0h1m8 0h1m21 0h1m15 0h1m1 0h1m7 0h2M615 159.5h1m4 0h4m1 0h1m2 0h1m1 0h2m57 0h1m15 0h1m1 0h1m34 0h1m5 0h2m2 0h3m3 0h1m2 0h1m22 0h4m17 0h1m8 0h1m2 0h1m7 0h2m3 0h7m19 0h2m6 0h2M598 161.5h1m5 0h1m38 0h1m1 0h1m71 0h1m25 0h1m81 0h1m11 0h1m1 0h1m1 0h2m1 0h1m10 0h1m1 0h1m1 0h1m3 0h1M602 163.5h2m31 0h1m52 0h1m12 0h3m4 0h1m9 0h2m5 0h1m18 0h2m5 0h1m57 0h1m19 0h1m30 0h1m1 0h1M753 165.5h2m88 0h1m30 0h1M631 167.5h2m49 0h1m63 0h1m35 0h1m28 0h1m12 0h1m15 0h2M723 169.5h3m14 0h1M861 194.5h9m3 0h3m2 0h1m2 0h1M865 196.5h1m5 0h7m1 0h1M871 198.5h1M861 200.5h1M874 202.5h1M869 204.5h2m1 0h1m2 0h2M872 206.5h2m3 0h2M862 208.5h1m4 0h3m1 0h1m2 0h1M863 210.5h1m3 0h3m3 0h1m4 0h1M877 212.5h4"/><path stroke="#f79143" d="M685 131.5h1M857 134.5h1M596 147.5h1m5 0h2m2 0h1m6 0h1m2 0h1m36 0h1m24 0h5m19 0h1m8 0h1m26 0h1m6 0h1m40 0h1m4 0h1m17 0h1m14 0h1m7 0h1m7 0h1m20 0h1m5 0h1m13 0h1M598 149.5h1m1 0h1m3 0h1m27 0h1m18 0h3m1 0h1m16 0h3m5 0h2m11 0h2m19 0h1m6 0h1m18 0h2m10 0h1m4 0h5m8 0h2m30 0h1m7 0h1m2 0h1m7 0h1m22 0h1m7 0h1m8 0h1M592 151.5h1m1 0h6m1 0h2m1 0h1m20 0h6m8 0h1m1 0h1m11 0h2m72 0h1m5 0h1m6 0h1m18 0h2m2 0h1m15 0h2m2 0h1m1 0h1m1 0h3m2 0h1m9 0h1m3 0h1m32 0h2m4 0h1m8 0h1m1 0h1m4 0h1m1 0h1M590 153.5h1m48 0h1m1 0h1m1 0h2m1 0h6m1 0h1m4 0h2m17 0h4m21 0h1m1 0h1m23 0h2m2 0h1m5 0h1m12 0h4m2 0h2m1 0h1m8 0h1m1 0h1m3 0h2m3 0h1m1 0h3m1 0h1m10 0h1m7 0h1m16 0h1m2 0h1m1 0h1m7 0h1m3 0h1m7 0h1M597 155.5h4m14 0h1m18 0h2m1 0h1m42 0h1m13 0h5m14 0h1m29 0h1m32 0h1m24 0h1m1 0h1m27 0h1m2 0h1m1 0h2m1 0h2m7 0h1m8 0h2m2 0h1m3 0h1m1 0h1M615 157.5h1m20 0h3m2 0h4m31 0h3m14 0h1m1 0h2m1 0h1m16 0h2m3 0h3m22 0h1m11 0h2m29 0h3m50 0h1m16 0h2M595 159.5h1m37 0h1m3 0h1m17 0h1m8 0h3m19 0h3m1 0h1m47 0h2m15 0h2m2 0h2m1 0h1m52 0h2m6 0h1m42 0h2M615 161.5h2m11 0h1m13 0h1m1 0h1m30 0h2m1 0h1m14 0h4m1 0h2m29 0h1m18 0h1m1 0h2m7 0h1m1 0h1m1 0h1m56 0h1M596 163.5h1m119 0h2m18 0h1m124 0h1M617 165.5h2m14 0h1m37 0h1m41 0h1m41 0h1m34 0h4M633 167.5h1m61 0h1m85 0h1M739 169.5h1m1 0h1M871 194.5h1m5 0h1m1 0h2M862 196.5h3m1 0h2m13 0h1M861 198.5h2m1 0h1m1 0h5m1 0h4m2 0h1M863 200.5h4m2 0h8M861 202.5h8m9 0h4M862 204.5h2m7 0h1m7 0h2M863 206.5h5m2 0h1M878 208.5h1"/><path stroke="#f3854b" d="M863 111.5h1M702 125.5h1M867 127.5h1M835 142.5h1M636 143.5h1M589 147.5h5m58 0h1m34 0h1m4 0h2m1 0h1m58 0h5m6 0h1m3 0h1m14 0h1m25 0h1m6 0h1m15 0h2m38 0h3m3 0h2M599 149.5h1m1 0h1m52 0h1m1 0h1m21 0h2m25 0h1m28 0h1m7 0h1m8 0h1m3 0h1m6 0h1m38 0h1m1 0h1m5 0h1m7 0h1m13 0h2m9 0h2m5 0h2M589 151.5h1m1 0h1m115 0h2m14 0h4m1 0h5m23 0h1m1 0h1m18 0h2m2 0h1m4 0h1m3 0h2m39 0h1M591 153.5h1m44 0h3m1 0h1m4 0h1m10 0h2m23 0h1m7 0h2m1 0h1m7 0h1m2 0h1m1 0h2m1 0h2m1 0h1m10 0h1m7 0h1m3 0h1m20 0h1m32 0h1m32 0h1m7 0h1m1 0h3m44 0h1M589 155.5h1m1 0h1m22 0h1m88 0h5m2 0h1m35 0h1m14 0h1m16 0h1m42 0h1m1 0h2m31 0h1m2 0h2m5 0h1m1 0h2M592 157.5h1m20 0h1m2 0h2m72 0h1m14 0h1m44 0h2m33 0h3m69 0h1M634 159.5h3m58 0h1m1 0h2m68 0h2m1 0h1m3 0h4m3 0h1m61 0h3M679 161.5h2m1 0h2m20 0h1m25 0h1m18 0h1m2 0h2m6 0h1m1 0h1m4 0h1m1 0h1m1 0h1m30 0h2m2 0h2m1 0h5m7 0h1m42 0h2M784 163.5h1m10 0h1m83 0h1M680 165.5h1m23 0h1m10 0h1M834 167.5h1M878 200.5h4M867 204.5h1M881 206.5h1"/><path stroke="#ed7953" d="M649 104.5h1M649 110.5h3M651 111.5h1m9 0h1m2 0h1m200 0h1M811 112.5h1M645 115.5h1m19 0h1M663 116.5h1M786 126.5h1M615 127.5h1M842 142.5h1M814 143.5h1M594 147.5h1m93 0h4m2 0h1m23 0h1m45 0h1m5 0h2m2 0h2m1 0h4m30 0h3m17 0h1m4 0h1m11 0h1m15 0h1m5 0h2M684 149.5h7m7 0h2m2 0h1m29 0h2m1 0h3m87 0h1m13 0h1m30 0h1m2 0h1M698 151.5h1m5 0h2m109 0h1m61 0h1m2 0h1M642 153.5h1m45 0h1m2 0h1m15 0h1m2 0h1m30 0h1m4 0h3m15 0h1m1 0h1m103 0h1m8 0h2M590 155.5h1m96 0h2m71 0h1m1 0h2m15 0h3m38 0h1m1 0h1m2 0h1m2 0h2M589 157.5h2m2 0h2m19 0h1m73 0h1m76 0h10m1 0h1m3 0h3m47 0h1m1 0h2M676 159.5h3m23 0h1m66 0h1m80 0h1m23 0h2M684 161.5h4m13 0h3m1 0h3m48 0h2m10 0h1m1 0h1m1 0h3m1 0h1m1 0h2m1 0h1m18 0h2m2 0h2m2 0h1m5 0h2m57 0h1m1 0h1M690 167.5h1"/><path stroke="#e76e5b" d="M661 102.5h3M648 110.5h1m3 0h1M649 111.5h1m12 0h1m2 0h1m192 0h1m3 0h1m1 0h1M664 112.5h1m150 0h2M661 113.5h1M657 114.5h4M643 115.5h2m1 0h2m14 0h1M665 120.5h1m139 0h1M614 126.5h1M719 147.5h2m55 0h1m49 0h2M703 149.5h2m24 0h1m96 0h3m37 0h2m3 0h1m2 0h2m2 0h1M690 151.5h1m5 0h2m1 0h1m6 0h1m6 0h2m107 0h1m41 0h5m1 0h4m1 0h2m1 0h2m1 0h1M869 153.5h1m7 0h1M686 155.5h1m139 0h1M591 157.5h1m117 0h1m3 0h1m50 0h1m10 0h1m7 0h1m82 0h1m14 0h1M780 159.5h1m1 0h1m90 0h1m2 0h1M777 161.5h1m2 0h1m1 0h2m47 0h1m34 0h1m3 0h3m1 0h1m1 0h2m3 0h1"/><path stroke="#df6263" d="M662 69.5h1M661 75.5h1M662 81.5h1M657 102.5h4M662 106.5h1M650 108.5h3m6 0h1M654 110.5h3m1 0h2m188 0h1M644 111.5h1m1 0h3m1 0h1m1 0h1M631 112.5h1m23 0h1m156 0h3m57 0h1M599 113.5h1m15 0h1m30 0h2m8 0h3m3 0h1m1 0h1M651 114.5h1m2 0h1m1 0h1m10 0h1m1 0h1m200 0h1M619 115.5h1m1 0h1m9 0h2m25 0h1m2 0h1m1 0h1M654 118.5h1M855 136.5h1M828 147.5h2M829 149.5h1m34 0h1M689 151.5h1m1 0h4m75 0h2m51 0h1m50 0h1M845 155.5h1M605 157.5h1m104 0h3m111 0h1m1 0h1m51 0h3M709 159.5h3m157 0h1M648 161.5h1M612 194.5h1M611 198.5h2M608 204.5h5M608 208.5h1M641 210.5h1"/><path stroke="#d8576b" d="M663 66.5h3M663 67.5h1M660 69.5h2M660 70.5h1m1 0h2M660 73.5h1m1 0h1M656 79.5h2M660 81.5h2m1 0h1M660 84.5h2M654 102.5h1m11 0h1m145 0h1M668 104.5h2m135 0h2m1 0h1m1 0h1M648 106.5h1m12 0h1m3 0h2m141 0h1M603 108.5h1m45 0h1m3 0h1m6 0h1M618 110.5h1m50 0h1m3 0h1m173 0h1m10 0h1M643 111.5h1m1 0h1m9 0h1m11 0h1m6 0h1m139 0h1m60 0h2M633 112.5h2m18 0h1m2 0h1m11 0h1m204 0h1m1 0h1m2 0h1M603 113.5h2m9 0h1m34 0h2m1 0h1m1 0h1m4 0h1m5 0h1M616 114.5h1m35 0h1m15 0h1m1 0h2m150 0h1m27 0h1M620 115.5h1m9 0h1m26 0h1m1 0h1m86 0h1m107 0h1m4 0h1m9 0h1M596 116.5h1m129 0h1m2 0h1m1 0h1m30 0h1m34 0h1M614 118.5h1m37 0h1m6 0h1m5 0h2m141 0h1M636 120.5h1m30 0h1M701 151.5h1m70 0h1M875 155.5h4m2 0h1M825 157.5h1m45 0h1M870 159.5h1M612 196.5h1M641 198.5h1M608 200.5h1M611 202.5h1m29 0h1M610 206.5h1m29 0h2M641 208.5h1M610 212.5h2M641 214.5h1"/><path stroke="#cf4c74" d="M658 66.5h1m1 0h2m4 0h1M659 68.5h1m3 0h1M656 70.5h4M655 71.5h3m1 0h1M665 72.5h1M657 73.5h3m3 0h3M660 74.5h1M659 75.5h1M661 76.5h2M655 79.5h1m5 0h1M661 80.5h1M661 83.5h1M663 84.5h2M658 92.5h1M669 93.5h1M661 94.5h1M611 102.5h1m40 0h1m2 0h1m155 0h1m1 0h1M632 104.5h1m1 0h2m3 0h1m19 0h1m96 0h1m47 0h1m2 0h1m1 0h1m1 0h1M594 106.5h1m62 0h1m151 0h1M663 108.5h1M589 110.5h1m17 0h1m8 0h1m2 0h2m9 0h1m2 0h1m36 0h1m1 0h1m139 0h1m6 0h1m18 0h2m9 0h1m7 0h1m1 0h1M613 111.5h1m10 0h1m2 0h1m1 0h1m11 0h2m11 0h1m1 0h1m11 0h2m3 0h1m60 0h1m16 0h1m27 0h2m13 0h2m10 0h1m3 0h4m2 0h1m37 0h1m5 0h1M617 112.5h1m9 0h1m1 0h2m1 0h1m21 0h1m3 0h1m6 0h1m4 0h1m11 0h1m191 0h1m1 0h2M619 113.5h2m30 0h1m1 0h1m1 0h1m11 0h1m1 0h1m58 0h1m1 0h1m40 0h1M609 114.5h1m4 0h1m2 0h3m17 0h1m15 0h1m11 0h1m138 0h1m7 0h1m35 0h1M641 115.5h1m10 0h1m1 0h1m1 0h1m87 0h2m67 0h1M634 116.5h1m85 0h1m9 0h1m30 0h1m8 0h1m3 0h1m1 0h1m26 0h1m5 0h1m1 0h2M598 118.5h1m14 0h1m39 0h1m188 0h1m27 0h1M621 120.5h1m46 0h2m47 0h2M615 122.5h1m138 0h3M612 151.5h1M874 155.5h1m4 0h2M869 157.5h1m2 0h5M608 194.5h3m27 0h1m1 0h1M638 198.5h2M608 202.5h3m27 0h3M640 204.5h2M639 206.5h1"/><path stroke="#c7427c" d="M655 66.5h3m1 0h1M658 67.5h1M656 69.5h1M669 71.5h1M653 74.5h1m5 0h1M657 75.5h1m5 0h1m2 0h1M659 76.5h1m3 0h1m2 0h1M657 78.5h2M659 79.5h2M649 81.5h2m4 0h1m1 0h1M654 82.5h1m3 0h1M657 84.5h2m6 0h2M650 95.5h1M608 102.5h3m40 0h1m1 0h1m80 0h1m1 0h1m108 0h1m25 0h1M601 104.5h1m17 0h1m13 0h1m3 0h2m8 0h1m3 0h1m2 0h5m154 0h1m53 0h1M625 106.5h3m3 0h1m19 0h1m2 0h1m1 0h1m11 0h1m138 0h1m72 0h1M655 108.5h1m8 0h1m98 0h1m49 0h1m37 0h1M609 110.5h1m7 0h1m9 0h2m3 0h1m6 0h1m6 0h1m27 0h1m106 0h1m9 0h1m24 0h1m1 0h1M612 111.5h1m1 0h1m3 0h1m6 0h2m12 0h1m17 0h1m80 0h1m1 0h1m4 0h1m2 0h1m38 0h4m16 0h2m6 0h1m15 0h1m6 0h2m8 0h1m4 0h1M619 112.5h1m2 0h2m1 0h2m15 0h1m6 0h1m10 0h1m1 0h1m4 0h1m3 0h3m58 0h1m59 0h1m39 0h1m8 0h1m14 0h2m21 0h1M666 113.5h1m3 0h1m38 0h1m22 0h1m50 0h1m15 0h2m19 0h4m9 0h1m30 0h1M594 114.5h1m13 0h1m1 0h2m1 0h1m1 0h1m10 0h1m6 0h4m25 0h1m78 0h1m81 0h1m28 0h1m5 0h1m14 0h1M625 115.5h1m41 0h1m103 0h1m28 0h1m1 0h1m6 0h2m1 0h1m5 0h1m1 0h4m24 0h1m1 0h1M739 116.5h1m11 0h2m5 0h1m9 0h2m3 0h1m1 0h1m1 0h1m10 0h2m28 0h2m23 0h1m33 0h1M676 118.5h1m31 0h2m3 0h1m86 0h1m68 0h1m1 0h1M701 120.5h1m125 0h1M616 122.5h1m91 0h1m100 0h1M730 124.5h1m93 0h1m4 0h1M610 151.5h2M610 153.5h1M868 157.5h1m1 0h1M638 196.5h1M638 200.5h4"/><path stroke="#bd3786" d="M650 66.5h2m1 0h2m13 0h2M651 67.5h1m2 0h1m5 0h1M668 68.5h1M654 69.5h1m15 0h2M652 70.5h2M670 71.5h2M652 73.5h2M645 75.5h1m1 0h1m4 0h1m1 0h1m9 0h1M648 76.5h2m1 0h2M667 77.5h1m3 0h1M652 79.5h2m13 0h1M648 81.5h1m7 0h1m11 0h1M657 82.5h1m8 0h1m1 0h1M654 84.5h2m11 0h2m1 0h1M611 94.5h1M637 102.5h5m27 0h1m5 0h1m59 0h1m73 0h1m29 0h1m6 0h1m19 0h1m5 0h1M589 104.5h1m9 0h2m2 0h1m2 0h1m3 0h1m1 0h4m1 0h2m1 0h4m12 0h1m16 0h1m9 0h3m5 0h1m63 0h1m132 0h2M619 106.5h1m10 0h1m1 0h3m5 0h2m27 0h1m76 0h1m3 0h1m65 0h3m1 0h2m59 0h1M607 108.5h1m6 0h1m32 0h1m8 0h1m11 0h1m51 0h1m3 0h1m18 0h1m108 0h1m3 0h1M593 110.5h1m35 0h1m13 0h1m1 0h1m15 0h2m1 0h1m91 0h1m23 0h1m6 0h2m1 0h1m7 0h1m18 0h1m3 0h1m20 0h4m28 0h2M619 111.5h2m1 0h2m4 0h1m4 0h5m33 0h1m64 0h2m3 0h1m1 0h2m1 0h1m3 0h1m1 0h1m1 0h3m43 0h1m55 0h1M602 112.5h1m2 0h1m12 0h1m1 0h1m30 0h1m82 0h2m52 0h4m2 0h1m23 0h1m23 0h1m15 0h1m3 0h2M601 113.5h1m20 0h1m1 0h1m47 0h2m60 0h2m10 0h1m3 0h1m15 0h1m9 0h1m1 0h1m1 0h1m1 0h1m13 0h1m1 0h1m11 0h1m13 0h4M599 114.5h1m2 0h1m25 0h4m17 0h1m13 0h1m16 0h1m50 0h1m1 0h1m1 0h1m20 0h1m2 0h1m3 0h3m10 0h1m40 0h1m39 0h1m8 0h1m7 0h2M634 115.5h1m14 0h1m20 0h3m38 0h1m1 0h1m67 0h1m29 0h1m20 0h2m9 0h1m31 0h1M592 116.5h3m139 0h1m36 0h2m87 0h1M727 118.5h1m75 0h3m6 0h2m52 0h1M702 120.5h1m81 0h1M627 124.5h2m125 0h1m73 0h1m25 0h1M608 149.5h1M608 159.5h3M611 161.5h2M612 165.5h1"/><path stroke="#b32c8e" d="M625 66.5h1m18 0h1m1 0h2m1 0h1m21 0h1m135 0h2m64 0h1M641 67.5h1m4 0h1m20 0h2m141 0h1m67 0h2M644 68.5h1m5 0h1M645 69.5h1m2 0h3M641 70.5h1m3 0h1m2 0h1m21 0h2M648 72.5h4m16 0h1M623 73.5h3m6 0h1m22 0h1m11 0h1m1 0h2M668 74.5h1M624 75.5h1m9 0h2m8 0h1m1 0h1M647 76.5h1m20 0h3M668 77.5h1m4 0h1M646 78.5h1M647 79.5h3M617 80.5h1M631 81.5h1m9 0h3M645 82.5h2m20 0h1M647 84.5h2m1 0h1m1 0h2m17 0h1M867 93.5h1M672 94.5h1M614 95.5h1M859 97.5h1M618 100.5h1M601 102.5h1m1 0h1m1 0h1m7 0h1m6 0h2m1 0h1m1 0h2m6 0h1m14 0h1m21 0h3m3 0h2m109 0h1m4 0h1m14 0h1m39 0h1m4 0h1m3 0h2m3 0h1m3 0h1m1 0h1m13 0h1M590 104.5h2m15 0h1m58 0h1m5 0h3m45 0h1m10 0h4m1 0h1m2 0h1m77 0h1m61 0h2M597 106.5h1m7 0h3m1 0h1m125 0h1m13 0h1m20 0h1m32 0h1m1 0h1m13 0h1m3 0h1m4 0h1m43 0h1M605 108.5h2m4 0h3m3 0h1m19 0h1m31 0h1m5 0h2m34 0h1m83 0h1m9 0h1m41 0h1m6 0h2m19 0h1m1 0h2M595 110.5h1m16 0h1m9 0h1m18 0h2m1 0h1m18 0h1m2 0h1m9 0h2m49 0h1m3 0h1m21 0h1m1 0h1m7 0h1m15 0h1m3 0h1m25 0h1m31 0h1M593 111.5h1m3 0h2m9 0h1m12 0h1m8 0h1m1 0h1m43 0h2m47 0h1m2 0h1m2 0h2m14 0h1m5 0h1m3 0h1m39 0h2m2 0h4m19 0h1m19 0h3m20 0h1m11 0h1M611 112.5h1m28 0h1m3 0h1m83 0h2m1 0h1m1 0h1m18 0h1m31 0h3m10 0h1m21 0h1m32 0h1m7 0h1m20 0h1M589 113.5h1m3 0h1m1 0h1m21 0h1m5 0h1m16 0h1m1 0h2m27 0h1m2 0h4m16 0h2m48 0h2m1 0h1m1 0h1m2 0h1m3 0h2m6 0h1m3 0h1m4 0h3m1 0h1m3 0h1m11 0h1m34 0h2m4 0h1m7 0h1m1 0h2m25 0h1m1 0h1M590 114.5h1m1 0h2m2 0h1m1 0h1m2 0h1m1 0h2m20 0h1m55 0h2m51 0h1m1 0h1m1 0h2m7 0h3m7 0h2m1 0h1m1 0h1m5 0h1m2 0h2m4 0h1m36 0h1m1 0h1m23 0h1m14 0h1m3 0h1m1 0h1m1 0h1M610 115.5h2m15 0h2m7 0h1m31 0h2m3 0h2m19 0h1m26 0h4m36 0h1m53 0h2m17 0h1m14 0h1m13 0h1m13 0h1m1 0h1M669 118.5h2m44 0h1m163 0h1M589 120.5h1m70 0h1m17 0h1m20 0h2m51 0h1m32 0h1M759 122.5h1m86 0h1M746 124.5h1m6 0h1M611 147.5h1M610 155.5h2M612 169.5h1"/><path stroke="#a72197" d="M608 66.5h1m15 0h1m1 0h3m10 0h5m1 0h1m26 0h3m134 0h6m46 0h3m2 0h1m4 0h2m1 0h1m4 0h3M605 67.5h2m5 0h2m2 0h1m20 0h2m1 0h1m3 0h1m24 0h2m132 0h1m58 0h1m18 0h1M805 68.5h1m60 0h2M595 69.5h2m38 0h2m97 0h1m80 0h2m32 0h1m25 0h2M590 70.5h4m26 0h1m1 0h1m2 0h1m16 0h3m93 0h1m122 0h2M646 71.5h1m88 0h2m133 0h1m7 0h1M631 72.5h4m6 0h1m5 0h1M645 73.5h4m1 0h1m20 0h2m132 0h1m1 0h2m1 0h3m64 0h1M603 74.5h1m21 0h1m15 0h2m26 0h2m131 0h2m1 0h1m66 0h2M593 75.5h1m7 0h2m1 0h3m5 0h1m17 0h1m5 0h1m2 0h1m161 0h1m5 0h1m44 0h3m19 0h3M618 76.5h2m25 0h1m25 0h1m2 0h1m63 0h1m70 0h1m55 0h1M672 77.5h1m135 0h1M607 78.5h6m195 0h1m3 0h1m54 0h2M614 79.5h1m2 0h1m28 0h1m22 0h1m134 0h1m60 0h1m1 0h2M807 80.5h1m67 0h1M596 81.5h1m22 0h1m3 0h1m11 0h4m6 0h1M618 82.5h1m50 0h1m123 0h1M608 84.5h1m33 0h1m1 0h1m6 0h1m20 0h3m65 0h1m65 0h3m42 0h6m8 0h2M640 88.5h1M818 90.5h1M881 91.5h1M636 96.5h1M607 97.5h1M815 98.5h1M598 102.5h3m1 0h1m1 0h1m1 0h1m15 0h1m4 0h2m15 0h4m1 0h1m52 0h1m76 0h4m6 0h3m2 0h2m19 0h1m3 0h1m2 0h1m2 0h2m3 0h1m5 0h1m12 0h1m1 0h1m1 0h2m7 0h3m12 0h2m1 0h1M642 104.5h3m30 0h2m23 0h4m15 0h1m1 0h1m7 0h1m14 0h1m13 0h2m5 0h2m15 0h1m1 0h1m1 0h1m6 0h1m1 0h1m2 0h1m36 0h1m1 0h1m2 0h1m3 0h2m9 0h3m5 0h1m9 0h3m1 0h2M603 106.5h1m4 0h1m14 0h1m12 0h1m33 0h1m3 0h1m53 0h1m5 0h1m2 0h2m4 0h1m3 0h2m25 0h1m1 0h2m7 0h1m13 0h4m1 0h1m20 0h2m15 0h1m17 0h1m12 0h1M593 108.5h1m76 0h3m4 0h2m6 0h1m21 0h4m8 0h1m1 0h2m12 0h4m15 0h1m1 0h1m9 0h1m10 0h1m5 0h2m11 0h1m9 0h4m12 0h1m11 0h1m4 0h1m40 0h2M597 110.5h1m2 0h1m3 0h2m5 0h1m1 0h2m9 0h2m11 0h1m27 0h1m1 0h1m10 0h1m79 0h1m1 0h2m15 0h1m32 0h1m43 0h2m10 0h4m11 0h1M592 111.5h1m1 0h3m7 0h2m1 0h1m1 0h2m5 0h1m62 0h2m2 0h1m15 0h2m25 0h2m2 0h1m36 0h2m30 0h1m28 0h2m11 0h1m1 0h1m25 0h1m8 0h1m1 0h1M604 112.5h1m7 0h1m23 0h1m1 0h2m35 0h1m51 0h1m2 0h1m17 0h1m2 0h1m30 0h1m13 0h1m1 0h4m1 0h2m16 0h1m28 0h2m2 0h1m12 0h2M590 113.5h3m18 0h1m14 0h4m5 0h1m3 0h1m1 0h1m2 0h1m33 0h1m37 0h1m24 0h2m5 0h1m9 0h3m8 0h1m9 0h1m14 0h1m13 0h1m5 0h1m15 0h2m8 0h1m2 0h1m24 0h1m3 0h1m1 0h1m2 0h1M589 114.5h1m87 0h2m17 0h1m22 0h2m1 0h1m14 0h1m5 0h4m20 0h1m1 0h2m3 0h1m8 0h5m1 0h1m4 0h1m14 0h2m4 0h1m2 0h3m16 0h2m23 0h1m1 0h1m7 0h1m4 0h1M613 115.5h2m24 0h1m10 0h1m24 0h1m64 0h3m39 0h1m3 0h2m1 0h3m5 0h1m7 0h1m19 0h1m2 0h1m7 0h1m5 0h1m2 0h2M684 116.5h1m37 0h2m99 0h1m24 0h1m9 0h1M701 118.5h1m53 0h1m25 0h2m41 0h1m2 0h1M685 120.5h1m1 0h1m98 0h1m34 0h1m53 0h1M644 124.5h1M612 147.5h1M612 155.5h1"/><path stroke="#9c179e" d="M595 66.5h1m1 0h3m10 0h1m1 0h1m2 0h8m7 0h3m1 0h1m1 0h1m38 0h1m127 0h2m10 0h2m37 0h2m2 0h2m4 0h2m2 0h1m7 0h2M597 67.5h1m10 0h1m9 0h1m1 0h2m1 0h1m7 0h3m37 0h1m62 0h2m3 0h2m56 0h6m3 0h1m5 0h1m9 0h2M609 68.5h1m5 0h1m2 0h1m15 0h1m7 0h1m33 0h1m55 0h1m52 0h1m26 0h1m45 0h1m21 0h2M609 69.5h1m13 0h2m2 0h3m9 0h3m91 0h1m59 0h1m3 0h1m3 0h1m8 0h1m3 0h1m2 0h2m32 0h1m2 0h1m14 0h4M611 70.5h4m1 0h1m1 0h1m2 0h1m1 0h1m12 0h3m35 0h1m3 0h1m55 0h1m6 0h3m51 0h1m1 0h2m2 0h4m2 0h5m46 0h1m6 0h1m2 0h1m2 0h2m1 0h2m1 0h1m1 0h1m1 0h1M589 71.5h1m17 0h1m9 0h1m58 0h1m60 0h1M606 72.5h1m13 0h5m13 0h1m1 0h1m90 0h5m64 0h5m1 0h1m3 0h2M589 73.5h2m12 0h1m1 0h1m5 0h1m1 0h5m2 0h2m8 0h1m3 0h1m2 0h4m1 0h3m80 0h1m9 0h1m1 0h1m8 0h3m47 0h1m9 0h1m7 0h1m40 0h1m2 0h1m4 0h1m7 0h1m4 0h1M602 74.5h1m1 0h1m1 0h3m10 0h3m1 0h1m180 0h1m10 0h1m49 0h3m10 0h1M592 75.5h1m3 0h2m1 0h1m3 0h1m6 0h1m16 0h1m1 0h1m1 0h1m8 0h1m30 0h2m56 0h2m7 0h1m58 0h4m4 0h2m44 0h1m4 0h1m6 0h1m7 0h1M599 76.5h1m1 0h1m7 0h2m14 0h2m4 0h1m1 0h1m4 0h1m1 0h2m91 0h2m4 0h1m59 0h1m1 0h1m9 0h1m2 0h1m4 0h2m34 0h1m7 0h1m10 0h1M811 77.5h1m42 0h2m6 0h4M596 78.5h1m136 0h2m139 0h2m2 0h4M601 79.5h3m9 0h1m1 0h2m2 0h1m7 0h1m3 0h2m1 0h2m7 0h2m84 0h2m55 0h2m13 0h1m4 0h3m1 0h1m5 0h1m45 0h3M640 80.5h1m219 0h1m13 0h1m1 0h1M595 81.5h1m8 0h1m6 0h1m1 0h1m119 0h1m6 0h1m56 0h1m17 0h1m39 0h6m1 0h1m1 0h2m2 0h1m11 0h2M809 82.5h7M612 83.5h1m1 0h1m57 0h1m135 0h1m10 0h1m28 0h3M589 84.5h1m10 0h8m13 0h1m2 0h1m1 0h1m8 0h4m1 0h2m3 0h1m29 0h2m48 0h2m1 0h2m66 0h7m1 0h2m3 0h2m1 0h6m30 0h3m7 0h4m1 0h1m4 0h2M592 87.5h1M747 89.5h1M794 94.5h1M788 95.5h1M795 97.5h1M590 102.5h3m50 0h1m57 0h1m3 0h1m7 0h1m13 0h2m1 0h2m42 0h1m9 0h2m2 0h1m31 0h1m2 0h1m5 0h1m2 0h2m8 0h2m6 0h1m23 0h1M628 104.5h2m68 0h2m25 0h3m14 0h2m8 0h1m14 0h2m1 0h3m8 0h1m1 0h1m1 0h1m2 0h1m10 0h1m22 0h1m2 0h1m1 0h1m10 0h2m1 0h1m16 0h1M599 106.5h3m9 0h3m2 0h2m19 0h2m37 0h1m28 0h1m1 0h1m2 0h1m10 0h1m1 0h1m1 0h3m1 0h2m2 0h1m10 0h1m28 0h1m1 0h1m17 0h4m44 0h1m1 0h1m11 0h3m10 0h1m8 0h1M591 108.5h2m2 0h1m26 0h2m18 0h1m30 0h1m24 0h1m1 0h1m5 0h1m32 0h2m8 0h3m3 0h1m9 0h1m10 0h1m1 0h1m3 0h1m5 0h1m10 0h1m15 0h1m22 0h1m1 0h1m18 0h3m2 0h1m11 0h1m2 0h1M599 110.5h1m1 0h2m32 0h1m44 0h1m9 0h1m14 0h2m22 0h1m17 0h2m10 0h1m25 0h1m46 0h1m2 0h2m14 0h1m1 0h1m7 0h1m9 0h2M600 111.5h1m1 0h2m55 0h1m22 0h1m19 0h2m20 0h1m38 0h1m62 0h1m54 0h1M590 112.5h1m16 0h3m3 0h1m23 0h1m7 0h1m1 0h1m28 0h2m13 0h1m7 0h3m37 0h2m4 0h1m9 0h1m3 0h1m1 0h1m16 0h1m28 0h2m13 0h1M597 113.5h1m8 0h3m1 0h1m1 0h1m17 0h1m2 0h2m1 0h1m42 0h2m2 0h1m27 0h1m1 0h1m3 0h1m2 0h3m3 0h1m35 0h2m38 0h2m1 0h2m5 0h1m2 0h2m1 0h1m47 0h2m8 0h1M642 114.5h1m2 0h3m25 0h3m19 0h1m21 0h2m2 0h1m29 0h1m1 0h1m25 0h1m12 0h1m8 0h2m5 0h1m37 0h1m31 0h2m1 0h1M601 115.5h2m12 0h3m5 0h1m14 0h1m37 0h1m2 0h1m28 0h2m29 0h1m34 0h1m3 0h1m5 0h2m6 0h1m5 0h1m5 0h1m1 0h2m18 0h1m11 0h4m2 0h1m11 0h2M710 116.5h1M685 118.5h3m36 0h1m36 0h1m64 0h1m2 0h1m20 0h2m9 0h1M686 120.5h1m24 0h1m54 0h1m52 0h2M794 122.5h1m38 0h1"/><path stroke="#8e0ca4" d="M590 66.5h1m5 0h1m7 0h2m27 0h1m1 0h1m41 0h2m44 0h5m1 0h6m2 0h3m24 0h3m7 0h1m1 0h4m8 0h1m4 0h2m2 0h2m1 0h2m18 0h2m27 0h1m2 0h1M592 67.5h1m3 0h1m2 0h1m1 0h1m1 0h1m18 0h1m3 0h4m47 0h1m52 0h1m15 0h1m61 0h1m5 0h1m1 0h3m27 0h2m4 0h1m1 0h1m4 0h1m5 0h9m2 0h1M603 68.5h2m16 0h3m8 0h2m44 0h1m51 0h2m1 0h1m68 0h1m16 0h1m22 0h1m2 0h1m24 0h2M589 69.5h2m13 0h1m1 0h1m4 0h1m111 0h6m12 0h5m11 0h1m4 0h2m17 0h3m27 0h1m34 0h1M598 70.5h2m2 0h1m1 0h2m1 0h4m6 0h1m12 0h1m4 0h1m3 0h1m87 0h1m4 0h2m1 0h2m7 0h1m5 0h1m2 0h1m27 0h1m3 0h5m1 0h2m1 0h1m17 0h4m5 0h3m31 0h2m2 0h1m4 0h1m1 0h1m2 0h2m7 0h1m1 0h1M608 71.5h1m21 0h1m46 0h2m62 0h2m46 0h1m27 0h1m48 0h1m8 0h1M591 72.5h1m15 0h1m11 0h1m54 0h1m52 0h3m7 0h2m4 0h1m54 0h2m45 0h1m9 0h1M593 73.5h2m5 0h3m4 0h2m1 0h1m1 0h1m5 0h2m7 0h1m1 0h1m5 0h2m37 0h1m57 0h2m5 0h4m7 0h4m25 0h5m6 0h6m5 0h3m17 0h3m25 0h5m3 0h1m1 0h3m2 0h1m1 0h4m3 0h2m4 0h1m1 0h1M590 74.5h2m3 0h1m26 0h1m163 0h1m5 0h2m22 0h1m9 0h1m48 0h1M595 75.5h1m22 0h2m1 0h1m20 0h1m32 0h2m50 0h2m4 0h1m3 0h1m6 0h4m37 0h3m22 0h1m4 0h2m2 0h1m1 0h1m35 0h1m8 0h1m1 0h2M594 76.5h1m8 0h2m1 0h1m5 0h1m2 0h1m11 0h2m47 0h2m52 0h3m10 0h1m9 0h1m4 0h1m32 0h3m9 0h1m1 0h2m20 0h2m20 0h3m6 0h2m9 0h4M592 77.5h1m1 0h3m9 0h1m157 0h1m39 0h2m46 0h2m24 0h1M625 78.5h2m8 0h1m159 0h1m26 0h1M592 79.5h2m14 0h2m18 0h1m4 0h1m38 0h2m46 0h1m3 0h5m17 0h3m27 0h1m2 0h3m17 0h1m2 0h1m6 0h1m1 0h1m3 0h1m1 0h2m5 0h1m23 0h1m1 0h4m24 0h3M621 80.5h2m99 0h1m126 0h1M589 81.5h2m11 0h1m7 0h1m1 0h1m1 0h2m5 0h1m49 0h1m4 0h1m3 0h1m43 0h1m1 0h4m7 0h1m9 0h1m40 0h1m7 0h1m1 0h2m22 0h1m48 0h1m1 0h4M634 82.5h1m2 0h1m90 0h3m15 0h1m2 0h2m19 0h1m9 0h1m18 0h1m16 0h1m24 0h1M603 83.5h1m6 0h2m1 0h1m1 0h1m3 0h1m8 0h1m1 0h2m44 0h1m43 0h1m86 0h1m1 0h1m37 0h1m3 0h1m10 0h1m1 0h1M590 84.5h4m4 0h1m11 0h10m2 0h2m1 0h1m1 0h1m1 0h5m43 0h2m43 0h3m8 0h1m1 0h4m3 0h2m1 0h1m26 0h3m44 0h2m51 0h1m3 0h6M847 85.5h1M733 88.5h1M752 90.5h1M730 91.5h1m140 0h1M849 96.5h1M615 98.5h1M783 100.5h1m34 0h1M594 102.5h1m20 0h2m1 0h1m65 0h4m15 0h2m14 0h1m1 0h3m5 0h1m2 0h1m14 0h1m1 0h1m17 0h1m5 0h1m30 0h1m11 0h1m52 0h1M595 104.5h3m80 0h5m40 0h2m37 0h2m55 0h1m3 0h1m2 0h1m21 0h1m1 0h1M592 106.5h1m9 0h1m72 0h1m1 0h1m9 0h1m18 0h1m2 0h1m10 0h1m1 0h1m64 0h2m38 0h1m22 0h1m3 0h1m3 0h1m5 0h1m11 0h1m1 0h1M594 108.5h1m100 0h1m62 0h3m26 0h1m1 0h2m28 0h2m5 0h1m10 0h1m24 0h2m7 0h1M591 110.5h1m4 0h1m85 0h1m8 0h1m12 0h1m2 0h1m25 0h1m12 0h1m2 0h1m15 0h3m28 0h1m3 0h1m4 0h1m27 0h2m17 0h1m9 0h1m1 0h1m5 0h1m6 0h1M601 111.5h1m79 0h1m2 0h1m12 0h1m7 0h2m57 0h2m7 0h2m58 0h1m16 0h2M594 112.5h2m19 0h1m62 0h1m1 0h1m3 0h1m4 0h1m2 0h1m44 0h1m3 0h3m6 0h1m3 0h1m1 0h2m2 0h1m6 0h1m1 0h1m3 0h2m1 0h1m2 0h1m1 0h1m24 0h1m2 0h1m24 0h2m3 0h1m30 0h1M631 113.5h1m5 0h1m47 0h1m1 0h1m13 0h1m12 0h1m4 0h1m66 0h2m2 0h1m13 0h1m12 0h1m38 0h1m1 0h3m1 0h1m6 0h1M606 114.5h1m32 0h3m1 0h2m52 0h1m28 0h1m23 0h1m3 0h1m26 0h1m9 0h1m4 0h2m27 0h1m28 0h1M589 115.5h1m6 0h1m1 0h2m77 0h2m1 0h1m18 0h1m48 0h1m28 0h1m1 0h1m8 0h1m38 0h1m1 0h1m22 0h1m8 0h1m19 0h1M703 116.5h1m1 0h1M718 118.5h2m105 0h1m26 0h1M682 120.5h1M793 122.5h1"/><path stroke="#8104a7" d="M589 66.5h1m2 0h1m8 0h2m76 0h2m40 0h1m37 0h2m7 0h1m21 0h2m4 0h1m21 0h1m4 0h1m1 0h2m13 0h1m3 0h5M602 67.5h1m72 0h1m2 0h1m40 0h1m1 0h3m2 0h4m14 0h2m1 0h1m6 0h1m3 0h1m1 0h1m1 0h1m4 0h1m3 0h1m3 0h1m8 0h1m3 0h1m2 0h2m1 0h1m24 0h1m5 0h1m3 0h1m10 0h1m9 0h1M589 68.5h1m2 0h2m26 0h1m101 0h1m14 0h6m18 0h1m5 0h1m4 0h4m6 0h1m8 0h1m4 0h1m23 0h1m2 0h1m17 0h1m31 0h3M593 69.5h1m7 0h3m1 0h1m72 0h1m79 0h3m13 0h1m46 0h1m1 0h1m13 0h1m7 0h1M601 70.5h1m1 0h1m120 0h1m1 0h1m1 0h1m33 0h2m9 0h8m1 0h3m33 0h1m5 0h5m16 0h4m1 0h3M628 71.5h1m98 0h2m46 0h1m11 0h1M595 72.5h1m79 0h1m4 0h1m104 0h4m59 0h1M592 73.5h1m3 0h3m76 0h3m41 0h5m3 0h3m1 0h1m12 0h1m10 0h3m2 0h1m9 0h4m3 0h1m7 0h2m1 0h1m9 0h2m16 0h3m6 0h2m1 0h3m1 0h1m15 0h1m31 0h1M597 74.5h3m128 0h1m18 0h2m23 0h1m3 0h1m4 0h4m12 0h2m30 0h1m24 0h1M620 75.5h1m58 0h1m38 0h4m49 0h2m2 0h4m1 0h3m9 0h1m10 0h1m18 0h2m12 0h1m4 0h1m7 0h1m11 0h1M590 76.5h1m4 0h1m1 0h1m23 0h1m57 0h1m27 0h1m7 0h4m26 0h3m7 0h1m67 0h1m5 0h2m9 0h1M593 77.5h1m85 0h1m43 0h1m41 0h1m52 0h2M679 78.5h1m56 0h1m43 0h1m5 0h1m2 0h2M596 79.5h1m1 0h1m8 0h1m66 0h2m4 0h2m35 0h1m4 0h2m25 0h1m27 0h1m12 0h3m5 0h1m26 0h7m4 0h3m3 0h1m1 0h1m4 0h1M675 80.5h1m42 0h4m6 0h2m88 0h1M598 81.5h3m116 0h7m1 0h1m19 0h2m33 0h1m4 0h2m4 0h2m18 0h1m12 0h3m1 0h1m11 0h3m4 0h1M600 82.5h1m77 0h1m47 0h1m18 0h1m1 0h1m14 0h1m11 0h1m6 0h1M863 83.5h1m1 0h1M595 84.5h3m82 0h2m21 0h1m27 0h2m13 0h8m1 0h1m8 0h1m1 0h1m1 0h1m1 0h1m5 0h2m12 0h5m34 0h1m11 0h1m29 0h1m2 0h1M776 86.5h1M834 90.5h1M773 92.5h1M835 93.5h1M838 96.5h1M843 98.5h1M720 100.5h1M617 102.5h1m89 0h1m8 0h1m1 0h1m1 0h1m3 0h2m14 0h1m7 0h1m2 0h3m1 0h1m1 0h1m3 0h4m5 0h2m30 0h2m1 0h1M689 104.5h1m60 0h1m23 0h1m1 0h2m42 0h1m3 0h1m24 0h1M589 106.5h1m88 0h2m2 0h1m1 0h1m4 0h1m1 0h1m66 0h1m6 0h1m1 0h1m14 0h2m6 0h2m40 0h1m4 0h3m9 0h1m1 0h3M589 108.5h1m11 0h1m25 0h2m1 0h1m2 0h1m5 0h2m42 0h1m12 0h1m2 0h1m46 0h1m71 0h1m8 0h3m1 0h1m11 0h1m5 0h1m20 0h1M681 110.5h1m4 0h1m1 0h1m6 0h1m4 0h2m14 0h1m1 0h1m1 0h2m12 0h2m2 0h2m3 0h1m7 0h1m42 0h1m6 0h2m1 0h1m1 0h2m70 0h2M687 111.5h1m4 0h1m20 0h1m6 0h1m38 0h1m1 0h1m8 0h1m5 0h1m5 0h2M592 112.5h1m5 0h2m103 0h1m19 0h1m14 0h1m5 0h1m1 0h1m11 0h1m4 0h3m2 0h1m2 0h1m5 0h1m2 0h1m55 0h3m6 0h3m17 0h1M681 113.5h2m3 0h1m37 0h1m60 0h1m2 0h1m2 0h1m55 0h1m6 0h1m2 0h1M694 114.5h1m16 0h1m1 0h2m12 0h3m69 0h1m6 0h1m28 0h1m7 0h2m23 0h1M592 115.5h3m2 0h1m2 0h1m80 0h2m1 0h2m2 0h1m7 0h1m1 0h1m30 0h1m1 0h1m3 0h1m30 0h1m1 0h2m3 0h1m1 0h2m18 0h1m34 0h1m35 0h1m4 0h1M687 116.5h1m16 0h1M695 118.5h1M683 120.5h1M704 122.5h1"/><path stroke="#7201a8" d="M681 66.5h1m27 0h2m4 0h1m2 0h2m23 0h3m16 0h1m7 0h3m8 0h1m1 0h4m40 0h1m14 0h1M682 67.5h1m28 0h2m3 0h2m37 0h1m5 0h1m1 0h1m5 0h1m4 0h1m56 0h1M713 68.5h1m29 0h1m19 0h1m28 0h1m29 0h1m1 0h2M715 69.5h1m3 0h2m47 0h1m6 0h1m51 0h1m6 0h1m8 0h1M595 70.5h1m86 0h3m30 0h1m1 0h4m25 0h2m9 0h5m2 0h1m2 0h5m58 0h2m1 0h5m4 0h1M766 71.5h2m18 0h1m53 0h2M681 72.5h2m28 0h1m1 0h1m9 0h1m106 0h2m8 0h1M679 73.5h2m22 0h1m7 0h1m46 0h1m3 0h2m1 0h4m6 0h1m43 0h1m11 0h1m5 0h3m3 0h4M683 74.5h1m36 0h1m28 0h1m18 0h1m5 0h2m69 0h5M589 75.5h2m89 0h2m20 0h2m9 0h3m7 0h1m1 0h1m25 0h1m1 0h1m10 0h1m1 0h3m4 0h1m52 0h1m1 0h1m9 0h1m1 0h1m3 0h1M714 76.5h1m5 0h1m3 0h2m22 0h1m1 0h1m11 0h2m2 0h1m6 0h1m2 0h1m2 0h5m33 0h1m6 0h1m9 0h2M678 77.5h1m1 0h1m37 0h1m101 0h1M729 78.5h1m97 0h1m9 0h3M597 79.5h1m78 0h2m4 0h2m29 0h2m36 0h7m3 0h1m2 0h10m9 0h1m10 0h2m36 0h4m5 0h1m1 0h1M685 81.5h1m71 0h1m12 0h2m40 0h1m14 0h1m1 0h1m7 0h1M752 82.5h3m90 0h3M729 83.5h1M682 84.5h1m25 0h4m5 0h4m33 0h1m1 0h5m1 0h2m1 0h1m1 0h1m10 0h1m1 0h2m1 0h6m33 0h5m1 0h1m1 0h3m2 0h1m1 0h1m1 0h2m2 0h4M693 85.5h1M756 91.5h1M691 102.5h1m7 0h1m15 0h1m1 0h1m32 0h1m3 0h1m1 0h1m41 0h3M683 104.5h2m26 0h4m32 0h3m41 0h1m39 0h1M591 106.5h1m94 0h1m1 0h1m1 0h1m4 0h2m62 0h3m1 0h2m1 0h1m1 0h1m64 0h4M626 108.5h1m2 0h1m1 0h2m1 0h1m92 0h5m41 0h2m55 0h1M683 110.5h1m1 0h1m7 0h1m2 0h1m1 0h2m2 0h1m6 0h1m26 0h2m3 0h2m1 0h1m25 0h1m3 0h1m18 0h1m9 0h1m10 0h1M689 111.5h3m1 0h1m15 0h4m1 0h1m2 0h1m1 0h1m1 0h2m37 0h1m10 0h1m12 0h2m32 0h2m15 0h1M600 112.5h1m84 0h3m27 0h2m1 0h4m2 0h2m49 0h1m48 0h1m23 0h1M689 113.5h1m2 0h1m13 0h2m30 0h2m98 0h1m10 0h5m1 0h1m23 0h1M621 114.5h3m82 0h2m1 0h1m2 0h1m11 0h2m103 0h2m1 0h2m8 0h1M590 115.5h2m3 0h1m90 0h1m4 0h2m12 0h2m19 0h2m4 0h3m1 0h2m25 0h1m1 0h1m1 0h1m26 0h1m78 0h1M721 120.5h1"/><path stroke="#6400a7" d="M683 66.5h1m5 0h1m17 0h2m3 0h1m33 0h7m76 0h2m5 0h2M688 67.5h1m3 0h1m1 0h6m2 0h3m10 0h1m34 0h2m25 0h1m1 0h2m52 0h1M693 68.5h2m9 0h2m50 0h1m77 0h1M685 69.5h1m13 0h1m3 0h1M680 70.5h1m4 0h1m4 0h3m11 0h1m9 0h1m1 0h1m31 0h1m90 0h3m1 0h1M702 71.5h1M683 72.5h1m12 0h4m17 0h1m1 0h1M681 73.5h3m32 0h2m116 0h2m5 0h2M684 74.5h2m20 0h5m3 0h3m38 0h2M701 75.5h1m4 0h1m2 0h2m38 0h1m8 0h3m69 0h1m1 0h1M687 76.5h1m4 0h2m11 0h1m59 0h1m1 0h3m2 0h1m60 0h1m8 0h1M720 77.5h1m33 0h1m83 0h1M756 78.5h2M678 79.5h1m5 0h1m21 0h7m45 0h3m1 0h1M679 80.5h2m81 0h2M686 81.5h5m7 0h1m5 0h1m51 0h1m1 0h10m8 0h2m53 0h1M684 82.5h1m19 0h2m8 0h1m104 0h3m7 0h2m1 0h3M683 84.5h4m26 0h2m1 0h1m117 0h1m1 0h1M693 102.5h1M687 104.5h1M715 106.5h2m45 0h1m68 0h1M680 108.5h1M694 110.5h1m20 0h1m3 0h1m4 0h1m44 0h1m1 0h3m1 0h1m48 0h2m4 0h1M590 111.5h1m95 0h1m1 0h1m19 0h1m7 0h1m60 0h1m14 0h1m28 0h1m14 0h1m36 0h1M597 112.5h1m111 0h1m1 0h1m1 0h1m3 0h1m4 0h1m102 0h6m13 0h1M690 113.5h1m14 0h1m31 0h1m16 0h1m82 0h1m42 0h1M684 114.5h1m3 0h1m3 0h1m15 0h1m6 0h1m115 0h1M604 115.5h5m78 0h1m2 0h1m61 0h1m1 0h1m9 0h1m100 0h1m1 0h1"/><path stroke="#5502a4" d="M684 66.5h1m1 0h3m1 0h1m1 0h7m1 0h6m47 0h5m74 0h4M690 67.5h1m17 0h2m126 0h1M698 69.5h1m1 0h1m1 0h1M689 70.5h1m4 0h1m1 0h8m3 0h5M683 71.5h1m17 0h1m1 0h1M684 72.5h1M684 73.5h1m3 0h1m1 0h1m1 0h4m2 0h1m6 0h2m1 0h2m3 0h2M687 74.5h1m8 0h1m2 0h1M683 75.5h1m11 0h1m2 0h1M695 76.5h1m5 0h1m1 0h2m5 0h1M688 77.5h2m65 0h1m16 0h1M700 78.5h2m3 0h1m2 0h1M704 80.5h1m59 0h1M699 81.5h2m8 0h1m1 0h2M718 82.5h1m112 0h1M705 83.5h1M687 84.5h3m2 0h3m2 0h2m2 0h1m3 0h2M690 102.5h1m3 0h3M708 104.5h2M698 106.5h1m15 0h1M681 108.5h1m21 0h1m9 0h1m1 0h1M711 110.5h1m1 0h1m11 0h1m97 0h1m2 0h1m1 0h2M695 111.5h1m126 0h1m49 0h1M694 112.5h1m13 0h1m1 0h1m1 0h1m1 0h1M703 113.5h1m132 0h1M686 114.5h1m2 0h1m10 0h1m1 0h3m122 0h1m6 0h1M701 115.5h1m14 0h4m30 0h2m1 0h1m3 0h1"/><path stroke="#46039f" d="M707 67.5h1M691 69.5h1M695 70.5h1M684 71.5h1M685 73.5h1m1 0h1m9 0h1m1 0h3M690 74.5h1M684 75.5h2m2 0h7M699 78.5h1M687 79.5h2m3 0h1m3 0h1m1 0h1m1 0h4M693 81.5h3m10 0h3m1 0h1M694 83.5h2M691 84.5h1m3 0h1m3 0h2M705 104.5h2M693 106.5h1M702 108.5h1m11 0h1M712 110.5h1m10 0h1m103 0h1M871 111.5h1M695 112.5h3M697 113.5h2M687 114.5h1m2 0h1m8 0h1m1 0h1M702 115.5h2m11 0h1m39 0h2m1 0h1"/><path stroke="#350498" d="M700 68.5h3M703 72.5h1M686 75.5h1M698 76.5h1M691 79.5h1m1 0h3m1 0h1m1 0h1M705 112.5h2M699 113.5h1M759 115.5h1"/><path stroke="#240691" d="M689 108.5h2"/><rect x="589" y="267" width="293" height="207" fill="url(#h2ga)"/><rect x="589" y="267" width="293" height="207" fill="url(#h2gb)" mask="url(#h2mk)"/><path stroke="#f5e926" d="M880.5 233V267"/><path stroke="#fff" stroke-width="1" fill="#fff" d="M600.5 469V474M605.5 468V474M606.5 469V474M615.5 463V474M616.5 469V474M621.5 473V474M625.5 463V474M626.5 469V474M629.5 473V474M631.5 468V474M637.5 469V474M640.5 469V474M642.5 469V474M644.5 469V474M647.5 469V474M652.5 469V474M655.5 463V474M662.5 469V474M663.5 469V474M664.5 469V474M667.5 469V474M673.5 469V474M694.5 469V474M696.5 469V474M698.5 469V474M703.5 468V474M707.5 468V474M715.5 463V474M717.5 463V474M722.5 468V474M725.5 458V474M726.5 423V474M727.5 469V474M734.5 458V474M735.5 463V474M737.5 464V474M739.5 473V474M743.5 469V474M757.5 469V474M759.5 469V474M761.5 469V474M770.5 458V474M773.5 463V474M775.5 469V474M778.5 469V474M787.5 467V474M789.5 463V474M795.5 468V474M796.5 468V474M806.5 469V474M807.5 458V474M808.5 392V474M809.5 370V474M810.5 341V474M811.5 327V474M812.5 370V474M813.5 396V474M814.5 363V474M815.5 448V474M816.5 407V474M817.5 387V474M818.5 372V474M819.5 377V474M820.5 382V474M821.5 387V474M822.5 381V474M823.5 396V474M824.5 417V474M825.5 458V474M838.5 467V474M842.5 469V474M845.5 463V474M847.5 467V474M850.5 469V474M851.5 423V474M852.5 442V474M853.5 428V474M854.5 438V474M857.5 467V474M861.5 467V474M864.5 396V474M865.5 408V474M868.5 467V474M870.5 463V474M873.5 469V474M875.5 467V474M591.5 472V474M601.5 472V474M610.5 472V474M613.5 472V474M617.5 473V474M619.5 471V474M620.5 473V474M630.5 472V474M635.5 470V474M638.5 472V474M639.5 471V474M666.5 473V474M668.5 470V474M669.5 472V474M676.5 470V474M683.5 473V474M688.5 472V474M690.5 472V474M692.5 471V474M697.5 471V474M699.5 472V474M708.5 473V474M712.5 473V474M718.5 473V474M730.5 472V474M733.5 470V474M738.5 471V474M752.5 473V474M754.5 473V474M760.5 473V474M767.5 473V474M768.5 473V474M785.5 472V474M790.5 473V474M800.5 472V474M802.5 473V474M804.5 473V474M805.5 472V474M826.5 473V474M834.5 471V474M848.5 472V474M858.5 470V474M863.5 472V474M879.5 472V474M822 66h3V474h-3zM631 66h2V215h-2zM789 66h3V85h-3z"/><path stroke="#f0f921" d="M621 644.5h1M662 688.5h1M747 689.5h1m10 0h6M592 691.5h1m12 0h3m11 0h2m14 0h1M614 693.5h1m45 0h2m175 0h3M606 695.5h2m91 0h1m19 0h5m131 0h3M596 697.5h4M595 699.5h1m3 0h6m41 0h1M601 701.5h1m4 0h2m241 0h1M651 703.5h6m2 0h1m2 0h1m50 0h1M596 705.5h3m8 0h2m6 0h4m5 0h2m5 0h4m1 0h1m5 0h1m1 0h2m1 0h1m103 0h1m11 0h1M597 707.5h1m22 0h1m1 0h4m88 0h1m20 0h1m2 0h1m4 0h2m12 0h1m24 0h2m73 0h1M606 708.5h1m8 0h2m31 0h1m7 0h2m53 0h1m23 0h1m26 0h1m7 0h1m87 0h1M618 709.5h1m129 0h1m107 0h2M860 710.5h1M712 711.5h2m34 0h1m15 0h2m92 0h2M843 712.5h1M705 713.5h1M595 715.5h1M609 717.5h1m117 0h1m49 0h1M589 736.5h5m6 0h1m2 0h3m7 0h1m1 0h11m8 0h1m10 0h3m28 0h1m1 0h1m38 0h7m6 0h2m2 0h1m3 0h1m11 0h3m12 0h6m3 0h3m4 0h2m2 0h2m49 0h1m3 0h2m15 0h1m9 0h1M605 738.5h1m1 0h8m7 0h1m17 0h4m12 0h3m117 0h1m1 0h1m1 0h2m13 0h1m2 0h1m37 0h1m16 0h1m4 0h2m1 0h8m3 0h4m1 0h1m2 0h2M599 740.5h1m11 0h1m3 0h1m1 0h1m4 0h1m5 0h1m1 0h1m16 0h1m15 0h2m8 0h1m24 0h2m21 0h5m8 0h2m23 0h4m70 0h1m12 0h12m5 0h3m2 0h1m6 0h1M600 742.5h6m2 0h8m1 0h1m1 0h4m1 0h1m3 0h1m10 0h4m112 0h12m1 0h3m30 0h1m53 0h2m8 0h1m1 0h1m2 0h1m2 0h8M617 744.5h3m1 0h6m2 0h2m2 0h1m3 0h1m53 0h1m1 0h3m14 0h1m1 0h1m36 0h1m5 0h1m1 0h7m60 0h1m9 0h1m7 0h1m13 0h1M591 746.5h1m1 0h1m10 0h2m3 0h1m2 0h2m1 0h1m5 0h5m22 0h3m3 0h1m22 0h3m38 0h3m10 0h3m12 0h11m81 0h4m10 0h2m1 0h6m1 0h3m2 0h3m1 0h2m2 0h2M593 748.5h1m2 0h1m1 0h1m5 0h1m11 0h1m14 0h1m5 0h1m2 0h1m65 0h1m45 0h5m13 0h1m61 0h1m23 0h2m1 0h2m1 0h3m6 0h1M593 750.5h1m2 0h1m8 0h1m4 0h1m7 0h1m29 0h1m24 0h1m3 0h1m1 0h1m1 0h1m17 0h2m22 0h1m9 0h2m3 0h1m7 0h2m1 0h1m49 0h1m31 0h1m23 0h2m10 0h1m2 0h1m6 0h1M593 751.5h1m4 0h1m26 0h2m70 0h1m35 0h1m11 0h1m1 0h1m9 0h1m5 0h1m106 0h1M592 752.5h1m2 0h1m231 0h1"/><path stroke="#f5e926" d="M612 658.5h1M863 660.5h1M596 671.5h1M771 676.5h1M655 677.5h1M597 689.5h7m10 0h4m9 0h1m4 0h3m14 0h1m2 0h1m1 0h1m1 0h1m1 0h2m9 0h1m25 0h2m2 0h1m4 0h1m6 0h4m8 0h1m1 0h2m13 0h3m3 0h1m20 0h2m5 0h1m35 0h3m23 0h2m2 0h1m19 0h1M594 691.5h3m2 0h1m1 0h2m11 0h2m9 0h4m2 0h4m1 0h1m63 0h1m1 0h4m17 0h8m10 0h2m3 0h1m6 0h1m4 0h5m14 0h1m62 0h4m3 0h1m3 0h4m1 0h5M589 693.5h3m2 0h8m5 0h2m6 0h2m10 0h1m1 0h1m3 0h1m2 0h1m4 0h1m4 0h6m6 0h1m10 0h13m4 0h1m3 0h1m1 0h6m9 0h11m13 0h9m1 0h4m37 0h1m47 0h1m15 0h4m6 0h2M589 695.5h3m5 0h2m2 0h2m1 0h2m2 0h1m8 0h4m1 0h1m1 0h1m1 0h2m13 0h3m4 0h1m4 0h3m3 0h1m5 0h1m2 0h4m1 0h4m20 0h1m2 0h1m24 0h2m5 0h1m3 0h1m5 0h3m3 0h3m16 0h3m45 0h4m12 0h9m5 0h1m1 0h4m8 0h2M593 697.5h1m8 0h1m1 0h5m5 0h6m6 0h1m1 0h1m1 0h3m8 0h2m55 0h2m16 0h4m2 0h1m1 0h1m4 0h1m2 0h2m17 0h1m6 0h5m4 0h4m23 0h5m34 0h2m9 0h1m4 0h4m1 0h5M592 699.5h3m2 0h1m16 0h1m2 0h1m10 0h1m1 0h2m9 0h5m1 0h6m39 0h2m1 0h1m8 0h1m15 0h6m2 0h8m1 0h2m4 0h2m4 0h1m13 0h6m3 0h1m60 0h1m2 0h2m1 0h6m1 0h2m8 0h1M589 701.5h1m3 0h6m19 0h8m2 0h7m1 0h1m14 0h1m2 0h7m25 0h1m37 0h6m7 0h1m6 0h1m1 0h1m3 0h1m3 0h1m1 0h3m1 0h3m24 0h4m9 0h2m1 0h4m9 0h1m27 0h5m1 0h1m2 0h1m2 0h1m1 0h3M589 703.5h1m1 0h1m1 0h1m1 0h4m4 0h2m12 0h8m32 0h2m1 0h2m6 0h1m45 0h1m6 0h1m1 0h1m2 0h2m3 0h1m1 0h8m2 0h1m1 0h3m9 0h5m5 0h6m56 0h1m14 0h1m1 0h8m3 0h1M589 705.5h6m9 0h1m14 0h5m2 0h4m5 0h1m7 0h1m2 0h1m1 0h7m16 0h6m17 0h1m2 0h3m34 0h1m5 0h2m1 0h5m2 0h1m1 0h1m1 0h1m6 0h1m2 0h1m4 0h1m5 0h1m1 0h1m59 0h4m1 0h3m1 0h6m2 0h4M589 707.5h2m2 0h1m4 0h1m4 0h1m3 0h1m38 0h2m2 0h1m21 0h1m7 0h2m27 0h1m1 0h1m3 0h1m26 0h1m17 0h2m3 0h1m4 0h2m1 0h1m10 0h1m4 0h1m20 0h1m17 0h3m2 0h1m2 0h1M625 708.5h1m1 0h1m2 0h1m2 0h1m8 0h1m12 0h1m13 0h1m21 0h1m7 0h1m7 0h1m11 0h2m30 0h1m37 0h2m32 0h1m3 0h1m31 0h1M593 709.5h2m28 0h2m11 0h1m17 0h1m11 0h1m44 0h1m27 0h1m7 0h1m4 0h1m47 0h1m35 0h2m4 0h1M600 710.5h1m52 0h1m22 0h2m17 0h2m18 0h2m22 0h1m3 0h1m1 0h1m49 0h1m52 0h1M590 711.5h2m70 0h1m55 0h1m30 0h1m77 0h1M605 712.5h1m84 0h1m8 0h1m29 0h1m18 0h1m4 0h1m87 0h2m3 0h1m12 0h1M776 714.5h1M775 718.5h1M870 725.5h1M691 727.5h1M595 736.5h4m8 0h5m16 0h3m6 0h1m2 0h1m9 0h1m1 0h3m1 0h1m1 0h3m2 0h3m4 0h4m3 0h1m1 0h7m9 0h6m3 0h3m5 0h4m10 0h4m2 0h2m1 0h3m2 0h4m17 0h2m10 0h1m3 0h4m2 0h2m2 0h3m6 0h3m1 0h1m2 0h3m5 0h2m13 0h2m5 0h1m3 0h2m5 0h1m1 0h1m6 0h2m9 0h3m1 0h2m1 0h9M589 738.5h7m1 0h8m10 0h2m3 0h2m1 0h9m1 0h2m19 0h1m5 0h2m10 0h7m2 0h3m2 0h1m14 0h4m1 0h2m4 0h4m10 0h4m1 0h5m2 0h7m2 0h7m1 0h8m4 0h3m4 0h1m2 0h1m1 0h1m9 0h1m1 0h2m3 0h2m1 0h1m4 0h3m1 0h4m4 0h1m2 0h2m1 0h4m2 0h8m1 0h1m2 0h1m5 0h2m4 0h1m25 0h1M593 740.5h4m4 0h1m3 0h6m1 0h3m1 0h1m1 0h3m3 0h2m3 0h1m1 0h7m1 0h3m6 0h2m3 0h9m5 0h2m7 0h1m5 0h1m13 0h2m2 0h2m6 0h1m5 0h4m13 0h1m6 0h3m3 0h7m2 0h4m10 0h4m1 0h2m1 0h2m1 0h1m2 0h4m10 0h2m1 0h1m3 0h6m3 0h5m2 0h2m2 0h2m3 0h6m1 0h1m1 0h1m1 0h1m20 0h4m3 0h2m1 0h6m1 0h2m2 0h2M591 742.5h8m17 0h1m1 0h1m10 0h1m2 0h2m11 0h21m17 0h4m2 0h2m5 0h1m2 0h1m4 0h1m3 0h4m2 0h5m8 0h1m3 0h9m3 0h5m2 0h2m1 0h1m13 0h1m27 0h1m2 0h1m3 0h12m3 0h1m2 0h6m1 0h9m2 0h3m9 0h3m4 0h2m3 0h2M589 744.5h4m6 0h4m1 0h4m1 0h5m22 0h1m4 0h1m1 0h1m1 0h1m4 0h3m11 0h1m1 0h5m2 0h1m4 0h5m9 0h1m5 0h2m1 0h1m9 0h1m1 0h1m5 0h5m6 0h4m3 0h6m9 0h1m1 0h1m12 0h12m1 0h1m1 0h2m9 0h1m4 0h2m11 0h1m3 0h2m11 0h6m2 0h3m1 0h2m2 0h7m9 0h3m8 0h2m1 0h6m1 0h1M610 746.5h2m2 0h1m2 0h3m9 0h1m1 0h1m3 0h3m6 0h1m6 0h1m8 0h4m4 0h1m2 0h1m1 0h1m8 0h1m3 0h1m1 0h1m1 0h1m2 0h3m1 0h1m4 0h2m1 0h6m1 0h1m2 0h1m11 0h1m1 0h1m5 0h2m1 0h1m19 0h2m1 0h4m2 0h1m3 0h6m8 0h8m2 0h2m5 0h1m2 0h4m2 0h3m2 0h1m9 0h1m6 0h1m1 0h1m8 0h5m1 0h2m2 0h1m6 0h1m12 0h1m2 0h1m1 0h1M591 748.5h1m7 0h4m2 0h2m8 0h1m1 0h3m4 0h3m2 0h1m3 0h3m2 0h2m6 0h6m3 0h2m4 0h1m4 0h7m1 0h1m7 0h2m1 0h1m3 0h5m3 0h1m5 0h1m1 0h1m1 0h5m1 0h4m3 0h1m7 0h1m3 0h5m4 0h4m1 0h5m7 0h3m1 0h7m6 0h1m2 0h1m1 0h9m1 0h3m2 0h1m5 0h6m1 0h7m1 0h4m1 0h2m1 0h1m1 0h6m2 0h2m1 0h1m4 0h12m16 0h1m1 0h1m5 0h4M590 750.5h1m23 0h1m4 0h1m16 0h1m7 0h1m15 0h1m8 0h1m1 0h1m6 0h1m1 0h1m13 0h1m10 0h1m3 0h1m16 0h2m3 0h1m21 0h1m5 0h1m10 0h2m8 0h2m2 0h1m24 0h1m2 0h1m13 0h1m9 0h1m8 0h2m1 0h1m16 0h2m13 0h1M589 751.5h3m27 0h2m24 0h1m34 0h1m20 0h1m23 0h1m16 0h2m38 0h1m6 0h1m12 0h1m24 0h1m34 0h1m2 0h1M663 752.5h1m12 0h1m28 0h1m5 0h1m56 0h1m47 0h2"/><path stroke="#fada24" d="M608 646.5h2M740 652.5h1M836 654.5h1M860 658.5h1M614 660.5h1m17 0h2M628 667.5h1M700 673.5h1M710 678.5h1M822 679.5h1M619 680.5h1m20 0h1M847 683.5h1M710 685.5h1M739 686.5h1M589 689.5h4m26 0h1m3 0h3m10 0h1m4 0h1m1 0h3m1 0h2m2 0h1m5 0h1m18 0h6m1 0h1m1 0h1m1 0h8m2 0h2m1 0h1m2 0h1m1 0h1m4 0h1m8 0h3m2 0h1m5 0h3m2 0h3m11 0h1m1 0h1m4 0h1m16 0h1m1 0h1m2 0h6m4 0h1m1 0h1m5 0h8m3 0h1m8 0h1m2 0h3m1 0h1m2 0h2m3 0h1m11 0h2m1 0h13M589 691.5h1m33 0h1m25 0h3m7 0h3m4 0h3m1 0h4m4 0h2m14 0h2m3 0h1m1 0h1m7 0h4m2 0h1m17 0h5m16 0h3m6 0h5m3 0h1m1 0h3m2 0h1m2 0h1m1 0h3m17 0h1m3 0h14m2 0h13m2 0h1M619 693.5h3m1 0h1m4 0h1m2 0h2m1 0h1m8 0h1m11 0h1m8 0h3m17 0h2m1 0h3m13 0h2m15 0h9m18 0h28m15 0h1m1 0h1m1 0h1m10 0h2m6 0h1m1 0h1m3 0h2m4 0h2m2 0h1m2 0h2m17 0h4M629 695.5h2m4 0h2m9 0h2m9 0h2m3 0h1m9 0h1m4 0h4m9 0h2m1 0h2m7 0h2m3 0h3m28 0h3m12 0h5m1 0h2m3 0h2m5 0h2m4 0h1m1 0h2m1 0h3m1 0h2m7 0h1m14 0h1m2 0h1m6 0h1m4 0h5m13 0h2M623 697.5h2m4 0h1m3 0h4m6 0h1m1 0h12m7 0h1m18 0h1m5 0h3m2 0h1m8 0h4m2 0h1m20 0h2m2 0h2m5 0h1m3 0h6m1 0h5m16 0h1m2 0h6m1 0h2m2 0h1m3 0h1m9 0h2m6 0h1m2 0h3m1 0h1m5 0h2m15 0h3m4 0h2m12 0h1M589 699.5h2m28 0h4m6 0h1m25 0h2m2 0h4m1 0h1m4 0h2m1 0h12m6 0h1m25 0h2m23 0h1m11 0h9m8 0h2m5 0h1m1 0h5m7 0h1m4 0h3m3 0h3m1 0h7m1 0h1m1 0h5m1 0h7m3 0h1m1 0h2m13 0h7m1 0h3M604 701.5h1m21 0h2m14 0h1m2 0h4m3 0h1m11 0h2m5 0h6m1 0h1m4 0h2m3 0h2m1 0h2m5 0h3m1 0h1m2 0h1m2 0h7m1 0h6m12 0h2m2 0h6m1 0h1m9 0h1m25 0h1m3 0h1m9 0h4m8 0h2m6 0h1m1 0h1m3 0h5m7 0h7M605 703.5h1m22 0h4m1 0h2m1 0h1m6 0h7m14 0h1m6 0h4m11 0h1m1 0h1m8 0h5m5 0h1m1 0h1m18 0h3m13 0h1m3 0h2m25 0h9m1 0h1m14 0h7m16 0h3m6 0h6M602 705.5h2m1 0h1m51 0h6m15 0h3m4 0h6m10 0h3m1 0h4m7 0h1m2 0h10m1 0h3m26 0h1m16 0h1m1 0h5m6 0h3m1 0h3m1 0h1m8 0h1m8 0h2m2 0h2m4 0h9M674 707.5h1m11 0h1m5 0h1m10 0h2m86 0h1m26 0h1M672 708.5h1m121 0h1m7 0h1m32 0h1M626 709.5h1m145 0h2m6 0h1m30 0h2M792 710.5h1m3 0h2M696 711.5h3m1 0h1m104 0h1M614 712.5h1m15 0h2m199 0h1m28 0h1M826 726.5h1M714 732.5h1m55 0h1M636 736.5h1m1 0h2m1 0h3m11 0h1m12 0h1m19 0h4m116 0h1m5 0h12m2 0h1M667 738.5h4m17 0h5m2 0h5m18 0h2m65 0h1m53 0h1m1 0h1M589 740.5h2m84 0h1m1 0h5m2 0h1m42 0h1m49 0h1m11 0h1m2 0h1m17 0h1m6 0h1m3 0h1m19 0h4M634 742.5h3m61 0h1m1 0h4m1 0h2m79 0h2m8 0h1M603 744.5h1m40 0h1m1 0h2m6 0h1m29 0h1m1 0h4m13 0h1m75 0h1m1 0h1m2 0h7m10 0h5m8 0h1m58 0h1M589 746.5h1m79 0h1m15 0h1m1 0h1m1 0h1m1 0h1m4 0h1m2 0h3m2 0h1m34 0h3m38 0h2m17 0h1m22 0h4m3 0h4m1 0h1M658 748.5h3m1 0h3m19 0h1m14 0h2m122 0h1M802 750.5h1m4 0h1m7 0h1m5 0h2M794 751.5h1m12 0h2M794 752.5h1"/><path stroke="#fdca26" d="M602 644.5h2M606 646.5h2M601 648.5h1m19 0h1m157 0h1M752 650.5h2m2 0h2m21 0h1M593 652.5h1m6 0h3m136 0h1m117 0h1m4 0h1M835 654.5h1M735 656.5h2M623 658.5h1m122 0h1m105 0h2M606 660.5h1m147 0h1m8 0h1m31 0h2M760 662.5h5m95 0h1m1 0h2M862 666.5h1M713 670.5h1M644 675.5h1M784 678.5h1M826 679.5h1M645 680.5h1m14 0h1M836 687.5h1M700 688.5h1M664 689.5h4m5 0h1m55 0h1m3 0h2m3 0h1m48 0h1m1 0h1m1 0h1m16 0h1m5 0h2m1 0h2m3 0h1M686 691.5h5m23 0h1m1 0h1m74 0h4m1 0h6M775 693.5h1m15 0h1m1 0h1m1 0h9m5 0h4m1 0h1m1 0h2m4 0h1M682 695.5h2m1 0h5m2 0h1m2 0h1m10 0h1m3 0h1m47 0h1m15 0h2m12 0h2m7 0h2m1 0h6m3 0h1M658 697.5h3m21 0h1m1 0h2m100 0h1m1 0h1m11 0h1m6 0h2m1 0h2m13 0h6M663 699.5h1m22 0h3m18 0h6m79 0h3M662 701.5h1m33 0h2m3 0h1m63 0h14m41 0h1M670 703.5h1m4 0h1m4 0h2m12 0h2m9 0h2m1 0h1m78 0h7m14 0h1m1 0h12M767 705.5h1m24 0h1m3 0h1m3 0h6m1 0h6m4 0h2M695 708.5h1"/><path stroke="#febb2b" d="M880 611.5h1M600 644.5h1m6 0h1m1 0h1m74 0h1M590 646.5h2m2 0h2m61 0h4m1 0h1m72 0h2m10 0h3m1 0h2M589 648.5h1m7 0h1m1 0h2m1 0h2m5 0h1m12 0h1m34 0h1m47 0h1m28 0h1m33 0h1m11 0h1m80 0h2M598 650.5h1m1 0h1m78 0h1m61 0h1m9 0h1m2 0h2m2 0h1m7 0h2m1 0h1m82 0h1m3 0h1m6 0h1M595 652.5h1m2 0h2m3 0h1m19 0h2m2 0h1m113 0h1m100 0h1m6 0h1m4 0h2m2 0h4m1 0h1M607 654.5h1m14 0h2m4 0h2m93 0h1m14 0h3m19 0h1m1 0h1m4 0h2m78 0h2m1 0h2M600 656.5h1m14 0h1m98 0h3m1 0h4m44 0h2m74 0h1M622 658.5h1m1 0h1m12 0h1m5 0h2m104 0h2m1 0h1m7 0h1m67 0h1M601 660.5h3m3 0h1m53 0h2m43 0h3m48 0h1m4 0h1m1 0h1m4 0h1m24 0h1m45 0h2m18 0h2M859 662.5h1m1 0h1M770 664.5h1m78 0h1m5 0h1M655 666.5h1M694 683.5h1M834 687.5h1M668 697.5h2m161 0h1M809 703.5h1"/><path stroke="#fdac33" d="M874 613.5h1M836 615.5h1M609 635.5h1M589 644.5h4m6 0h1m5 0h2m1 0h1m51 0h2m68 0h2m38 0h1m30 0h3m31 0h1m26 0h2M589 646.5h1m11 0h1m2 0h1m10 0h1m45 0h1m75 0h1m110 0h1m2 0h1m6 0h1M592 648.5h1m5 0h1m54 0h4m8 0h1m25 0h1m28 0h2m32 0h2m99 0h2m3 0h1m2 0h1M592 650.5h1m6 0h1m15 0h2m28 0h2m1 0h1m1 0h1m3 0h1m2 0h1m2 0h1m19 0h3m24 0h4m1 0h1m1 0h1m22 0h4m4 0h1m22 0h1m66 0h1m11 0h1M594 652.5h1m10 0h2m1 0h3m5 0h1m4 0h1m3 0h2m6 0h1m134 0h1m72 0h1m1 0h1m6 0h2m4 0h1M595 654.5h1m13 0h1m1 0h5m10 0h2m2 0h1m98 0h1m31 0h1m81 0h4m2 0h1M603 656.5h2m5 0h1m1 0h3m2 0h1m2 0h1m31 0h1m57 0h2m5 0h1m47 0h1m4 0h1m82 0h1m1 0h1m5 0h1M651 658.5h1m7 0h2m5 0h1m38 0h1m60 0h2m9 0h1m80 0h1M589 660.5h1m75 0h1m43 0h1m30 0h1m1 0h1m1 0h1m1 0h1m21 0h1M625 662.5h1m33 0h2m48 0h1m33 0h1m11 0h1M619 664.5h1m9 0h1m27 0h1m86 0h1m73 0h1m42 0h1M875 707.5h1"/><path stroke="#fb9f3a" d="M740 603.5h1m106 0h1m6 0h1M837 615.5h1M596 644.5h1m15 0h5m25 0h2m5 0h1m12 0h1m5 0h1m41 0h6m22 0h1m2 0h1m32 0h1m5 0h2m18 0h1m8 0h1m15 0h1m7 0h2m19 0h2M603 646.5h1m9 0h2m1 0h1m11 0h1m37 0h2m1 0h3m21 0h1m11 0h2m70 0h1m4 0h1m64 0h1m11 0h4M637 648.5h1m1 0h1m9 0h2m8 0h1m67 0h1m4 0h1m24 0h4m2 0h4m72 0h1m11 0h1m2 0h1m2 0h2M589 650.5h1m3 0h3m6 0h1m6 0h1m9 0h1m17 0h2m10 0h1m8 0h2m11 0h1m23 0h3m13 0h1m1 0h1m29 0h2m1 0h3m24 0h1m1 0h1m1 0h1m26 0h4m21 0h1m4 0h1M607 652.5h1m9 0h1m11 0h2m10 0h3m1 0h1m23 0h1m1 0h1m3 0h2m27 0h3m21 0h1m38 0h1m19 0h1m30 0h1m1 0h3m11 0h1M590 654.5h1m13 0h1m3 0h1m1 0h1m21 0h1m4 0h2m15 0h2m51 0h1m22 0h1m13 0h1m31 0h1m65 0h1M611 656.5h1m4 0h1m1 0h2m1 0h1m4 0h1m20 0h4m2 0h4m2 0h1m72 0h2m11 0h5m21 0h3m5 0h3m32 0h1m1 0h1m7 0h1m3 0h2m6 0h4m17 0h1M640 658.5h1m24 0h1m3 0h1m5 0h1m22 0h1m12 0h1m18 0h1m13 0h1m23 0h1m9 0h1m27 0h1m27 0h2m9 0h1M596 660.5h2m26 0h1m23 0h1m3 0h1m4 0h1m28 0h1m44 0h1m3 0h1m5 0h1m5 0h1m3 0h1m23 0h3m4 0h2m21 0h1m25 0h2M700 662.5h1m1 0h1m13 0h1m52 0h1m59 0h1m15 0h2M601 664.5h1m67 0h1m40 0h1m40 0h1m21 0h1m68 0h2M627 666.5h1m73 0h1m48 0h2M861 691.5h1m7 0h1m3 0h2m1 0h3M863 693.5h2m1 0h8m2 0h6M861 695.5h3m5 0h4m6 0h1M872 699.5h1m3 0h5M861 701.5h1m1 0h3m1 0h1M861 703.5h5m1 0h2m1 0h1m2 0h1m3 0h1m3 0h1M864 705.5h11M868 707.5h1m2 0h1M869 708.5h2M870 709.5h3M881 711.5h1M877 712.5h1"/><path stroke="#f79143" d="M871 597.5h1M616 599.5h2m1 0h1M848 603.5h3M607 607.5h1M862 609.5h1M597 615.5h1M693 635.5h1M854 637.5h1M871 639.5h1M618 644.5h1m4 0h1m11 0h3m3 0h1m6 0h1m1 0h3m13 0h2m1 0h1m1 0h1m7 0h2m9 0h1m1 0h1m24 0h1m19 0h1m1 0h2m8 0h1m10 0h1m1 0h2m18 0h1m1 0h1m4 0h1m1 0h1m18 0h1m1 0h3m6 0h1m1 0h2m1 0h1m45 0h1M620 646.5h1m3 0h1m15 0h1m6 0h3m18 0h1m3 0h1m4 0h2m13 0h1m24 0h1m1 0h1m1 0h5m1 0h1m5 0h1m9 0h3m32 0h1m1 0h2m37 0h1m35 0h2m22 0h3M595 648.5h1m17 0h1m3 0h1m1 0h1m18 0h1m5 0h1m49 0h10m4 0h1m17 0h1m2 0h3m29 0h1m14 0h2m44 0h1m1 0h1m1 0h1m2 0h2m19 0h1m1 0h1M596 650.5h1m7 0h4m10 0h1m1 0h3m16 0h1m1 0h2m27 0h1m23 0h1m4 0h2m15 0h3m52 0h2m3 0h1m16 0h4m1 0h1m31 0h1M646 652.5h1m5 0h3m12 0h2m1 0h1m1 0h1m4 0h1m23 0h2m13 0h2m1 0h1m3 0h1m5 0h1m21 0h1m3 0h1m15 0h1m11 0h1m1 0h1m31 0h1m1 0h1m6 0h1m18 0h2m17 0h1m1 0h1m1 0h1m1 0h2M598 654.5h1m3 0h2m16 0h1m27 0h1m4 0h1m49 0h2m5 0h8m25 0h1m33 0h2m22 0h5m21 0h2m1 0h1m8 0h1M598 656.5h1m39 0h1m2 0h2m1 0h2m21 0h1m18 0h1m96 0h1m12 0h3m14 0h1m1 0h1m11 0h1m6 0h2m27 0h1M609 658.5h2m59 0h1m49 0h1m84 0h1m14 0h1m10 0h2M639 660.5h2m1 0h1m61 0h1m47 0h1m58 0h1m25 0h1m39 0h1M620 662.5h2m34 0h1m40 0h1m92 0h1m47 0h1m25 0h1M653 664.5h1m30 0h1m26 0h1m127 0h2M657 666.5h1m21 0h2m36 0h1m66 0h1m25 0h1m6 0h1M861 689.5h2m4 0h1M864 691.5h1m7 0h1M866 695.5h1m11 0h1m1 0h1M866 697.5h1m7 0h1m4 0h3M861 699.5h5m1 0h1m6 0h1M862 701.5h1m3 0h1m1 0h2m2 0h10M866 703.5h1M862 705.5h1m16 0h3M872 710.5h2"/><path stroke="#f3854b" d="M881 597.5h1M589 599.5h1m28 0h1M599 601.5h1M633 603.5h1m105 0h1m1 0h1m103 0h2m5 0h2M861 605.5h1M602 607.5h1m23 0h2m76 0h1M589 609.5h1m9 0h1m261 0h1M755 613.5h1M743 615.5h1M733 630.5h1M597 633.5h1M854 634.5h1M660 637.5h1M624 644.5h3m1 0h3m24 0h2m13 0h1m1 0h1m3 0h1m4 0h1m9 0h1m1 0h2m55 0h1m21 0h1m3 0h1m6 0h1m4 0h1m4 0h1m28 0h1m36 0h2m3 0h1m2 0h2m1 0h2M621 646.5h3m1 0h1m8 0h2m1 0h2m41 0h1m3 0h2m8 0h1m7 0h1m15 0h1m7 0h1m15 0h1m23 0h2m2 0h1m1 0h3m4 0h1m3 0h1m7 0h5m1 0h1m13 0h2m4 0h2m1 0h1m10 0h1m3 0h1m18 0h1M605 648.5h1m8 0h3m1 0h1m11 0h1m1 0h1m9 0h2m1 0h1m27 0h3m6 0h1m24 0h1m1 0h1m32 0h1m1 0h1m30 0h1m8 0h5m1 0h1m12 0h2m18 0h1m1 0h1m1 0h2m5 0h2m6 0h1m5 0h1M608 650.5h1m14 0h1m16 0h1m32 0h2m46 0h6m3 0h1m3 0h1m52 0h3m7 0h1m25 0h1m14 0h2m24 0h2m1 0h2M613 652.5h1m30 0h1m2 0h1m61 0h1m4 0h1m3 0h1m1 0h1m1 0h1m1 0h1m24 0h2m1 0h1m3 0h1m3 0h1m1 0h2m6 0h1m13 0h1m26 0h2m16 0h1m35 0h1m1 0h1m9 0h2M692 654.5h1m2 0h3m34 0h3m12 0h2m1 0h2m3 0h1m1 0h2m64 0h4m2 0h1m47 0h1m1 0h1M639 656.5h2m2 0h1m22 0h1m1 0h1m9 0h1m73 0h5m1 0h3m29 0h1m4 0h1m13 0h3m7 0h1m29 0h1m12 0h1M593 658.5h1m14 0h1m80 0h1m2 0h2m100 0h1m28 0h1M673 660.5h1m9 0h2m11 0h1m18 0h1m87 0h1m17 0h1M666 662.5h1m29 0h1m94 0h1m1 0h1m13 0h2m69 0h1M864 689.5h3m1 0h3m6 0h4M638 691.5h2m223 0h1m1 0h3m12 0h2M637 699.5h1m2 0h1M637 705.5h3"/><path stroke="#ed7953" d="M619 597.5h1m131 0h1m2 0h2m124 0h1M881 599.5h1M600 601.5h2m27 0h1m139 0h1M760 603.5h1M843 605.5h1m14 0h1m1 0h1M603 607.5h1m4 0h1m14 0h1m81 0h1m45 0h2m102 0h4M591 609.5h4m1 0h2m268 0h1m3 0h1M607 611.5h1m4 0h1m250 0h1m14 0h1M598 613.5h1M627 617.5h1m229 0h1M777 620.5h1M748 621.5h1M632 623.5h1M804 632.5h1M839 641.5h1M752 642.5h1M627 644.5h1m3 0h3m66 0h1m2 0h3m59 0h1m1 0h1m9 0h1m16 0h1m34 0h2m10 0h1m1 0h1m1 0h3m17 0h2m2 0h1m6 0h3M636 646.5h1m2 0h1m57 0h2m13 0h1m41 0h3m2 0h5m7 0h1m15 0h1m1 0h1m6 0h1m1 0h2m2 0h1m27 0h1m1 0h3m1 0h1m6 0h2m28 0h4M631 648.5h1m1 0h2m34 0h3m4 0h1m1 0h4m35 0h1m25 0h1m3 0h2m1 0h2m31 0h1m5 0h1m1 0h3m12 0h1m26 0h1m7 0h1m26 0h1m1 0h1M628 650.5h1m1 0h2m32 0h1m1 0h1m1 0h1m21 0h2m12 0h2m103 0h1m8 0h1m3 0h1m4 0h1m4 0h1m33 0h1m12 0h2M614 652.5h1m71 0h1m5 0h3m64 0h1m4 0h2m7 0h7m1 0h1m13 0h2m1 0h6m1 0h1m21 0h2m47 0h1M677 654.5h2m8 0h3m1 0h1m1 0h2m3 0h1m50 0h1m2 0h3m1 0h1m38 0h1m15 0h1m7 0h1m44 0h1m11 0h1m1 0h1M590 656.5h3m41 0h2m39 0h1m1 0h1m2 0h4m18 0h1m54 0h1m3 0h1m25 0h2m2 0h3m24 0h1m55 0h1m1 0h1M868 658.5h1m6 0h1m4 0h1M681 660.5h1m140 0h1m48 0h3M792 662.5h1m18 0h1m5 0h2m47 0h3m11 0h1M637 691.5h1M637 693.5h4M609 695.5h5m26 0h1M638 699.5h2M637 701.5h4M613 703.5h1m23 0h1M609 705.5h1m1 0h1M637 707.5h2M637 709.5h2M638 712.5h3"/><path stroke="#e76e5b" d="M590 597.5h1m17 0h1m2 0h1m8 0h1m3 0h1m5 0h2m76 0h1m40 0h2M599 599.5h1m2 0h1m3 0h1m136 0h1M724 601.5h1m2 0h1m42 0h1M594 603.5h1m40 0h1m122 0h1m2 0h6m100 0h1M618 605.5h2m86 0h1m98 0h1m53 0h1M590 607.5h1m30 0h1m131 0h1m10 0h2m2 0h1M590 609.5h1m4 0h1m2 0h1m139 0h1m29 0h1m99 0h2m1 0h1M600 611.5h1m8 0h1m3 0h2m239 0h2m2 0h1m2 0h2m1 0h1m10 0h2M615 613.5h1M599 615.5h1m248 0h1M708 617.5h1m76 0h1m69 0h1m2 0h1M645 619.5h1M722 631.5h1m116 0h1M674 644.5h1m22 0h3m52 0h1m13 0h1m61 0h1m9 0h3m1 0h1m1 0h1M643 646.5h1m30 0h2m32 0h4m1 0h1m43 0h2m5 0h1m20 0h1m17 0h2m4 0h1m54 0h3m3 0h1m6 0h1M737 648.5h1m11 0h1m2 0h1m44 0h2m8 0h2m58 0h1m6 0h1M611 650.5h1m17 0h1m33 0h1m1 0h1m10 0h1m12 0h1m38 0h1m31 0h1m39 0h2m11 0h5m1 0h3m2 0h3m22 0h1m27 0h1M589 652.5h1m92 0h4m45 0h6m7 0h1m35 0h1m10 0h2m4 0h1m6 0h1m2 0h1m72 0h1M641 654.5h2m1 0h2m23 0h1m1 0h1m7 0h5m115 0h1m9 0h2m5 0h2m47 0h2m3 0h1m10 0h1M679 656.5h1m10 0h2m2 0h2m1 0h2m1 0h1m2 0h1m1 0h2m82 0h1m12 0h4m66 0h2m1 0h1M707 658.5h1m156 0h1M688 662.5h1m192 0h1M609 689.5h3m1 0h1m23 0h4M609 691.5h1m1 0h3M610 693.5h2M637 695.5h1M609 697.5h5m23 0h1m1 0h2M612 699.5h2M609 701.5h4M609 703.5h2m27 0h2M611 712.5h3"/><path stroke="#df6263" d="M591 597.5h1m29 0h3m5 0h1m2 0h3m98 0h1m18 0h2m80 0h1m8 0h1M594 599.5h1m2 0h2m2 0h1m1 0h3m27 0h2m33 0h1m33 0h1m8 0h3m32 0h1m3 0h1m96 0h1M608 601.5h1m45 0h1m5 0h2m57 0h2m13 0h1m1 0h1m4 0h2m23 0h1m1 0h1m5 0h1m104 0h1m1 0h1M596 603.5h1m121 0h1m35 0h1m4 0h1m74 0h1m2 0h1m30 0h2M592 605.5h1m2 0h1m69 0h1m39 0h1m28 0h1m2 0h1m1 0h1m8 0h1m18 0h1m62 0h1m1 0h2M619 607.5h1m2 0h1m101 0h1m21 0h1m19 0h2m2 0h1m82 0h2m4 0h1m14 0h1M601 609.5h2m19 0h1m5 0h2m128 0h2m9 0h1m13 0h1m83 0h1m11 0h1M591 611.5h1m9 0h1m9 0h1m26 0h1m1 0h2m1 0h2m121 0h1m84 0h3m2 0h1m2 0h2m4 0h1m11 0h1M748 613.5h1m91 0h1M649 615.5h1m54 0h1m26 0h1m3 0h1m14 0h1m112 0h4m4 0h2M599 617.5h1m19 0h1m94 0h3m67 0h1m2 0h1m68 0h1m2 0h1M633 619.5h1m144 0h1M642 646.5h1m1 0h1m141 0h1m18 0h1m2 0h1M809 648.5h1m63 0h1m1 0h2m4 0h1M761 650.5h2M657 652.5h2m22 0h1m199 0h1M670 654.5h1m1 0h2m194 0h2m1 0h4M692 656.5h2m2 0h1m2 0h1m1 0h1m2 0h1m161 0h3M610 707.5h2"/><path stroke="#d8576b" d="M592 597.5h1m6 0h1m1 0h2m2 0h1m1 0h1m63 0h3m86 0h1m78 0h4m9 0h1m1 0h4m5 0h2m1 0h4m3 0h3M593 599.5h1m2 0h1m3 0h1m34 0h2m92 0h1m7 0h1m1 0h3m5 0h2m2 0h2m28 0h2m59 0h1m2 0h2m1 0h1m10 0h1m3 0h1m1 0h1m1 0h1M605 601.5h1m5 0h3m112 0h1m16 0h1m15 0h1m1 0h1m5 0h1m3 0h3m56 0h1m23 0h1M598 603.5h1m47 0h3m64 0h1m5 0h1m25 0h1m2 0h1m84 0h1m1 0h2m1 0h1m33 0h1M593 605.5h1m8 0h1m1 0h1m17 0h1m3 0h1m30 0h3m1 0h1m4 0h1m65 0h2m1 0h1m9 0h1m1 0h1m17 0h2m61 0h2m1 0h1m10 0h1m26 0h1m1 0h1M597 607.5h2m15 0h1m97 0h2m29 0h2m24 0h1m2 0h3m98 0h1m3 0h1M603 609.5h1m53 0h1m54 0h2m9 0h1m10 0h2m13 0h2m3 0h1m2 0h1m12 0h1m1 0h4m8 0h1m11 0h1m17 0h1m24 0h2m4 0h1m13 0h1m20 0h2M597 611.5h1m10 0h1m27 0h1m2 0h1m2 0h1m44 0h1m4 0h1m58 0h3m11 0h1m62 0h2m17 0h1m2 0h1m17 0h1M608 613.5h2m7 0h1m88 0h1m3 0h2m29 0h1m117 0h1m6 0h1m2 0h1M622 615.5h1m2 0h1m22 0h1m54 0h1m47 0h1m16 0h1m71 0h3m4 0h1M643 617.5h1m91 0h1m9 0h2m99 0h1M594 619.5h2M680 625.5h1M717 635.5h1M806 644.5h1m74 0h1M643 654.5h1m146 0h3"/><path stroke="#cf4c74" d="M600 597.5h1m2 0h2m1 0h1m3 0h1m3 0h3m23 0h1m50 0h1m4 0h1m15 0h2m1 0h1m20 0h2m6 0h1m1 0h2m11 0h1m1 0h1m74 0h2m7 0h2m1 0h1m1 0h2m1 0h1m7 0h1m3 0h1m12 0h1M625 599.5h3m2 0h1m8 0h1m31 0h1m31 0h2m3 0h1m36 0h1m3 0h1m3 0h1m10 0h2m11 0h1m5 0h2m58 0h2m19 0h1M589 601.5h2m2 0h1m9 0h1m2 0h1m31 0h1m7 0h2m81 0h1m1 0h1m13 0h1m11 0h2m1 0h1m1 0h1m76 0h1m1 0h1m2 0h1m10 0h1m9 0h1m1 0h1m5 0h1m3 0h1M643 603.5h3m10 0h3m46 0h1m5 0h2m3 0h2m2 0h1m29 0h1m20 0h1m68 0h1m30 0h1m1 0h1M591 605.5h1m2 0h1m1 0h2m1 0h1m1 0h1m12 0h1m6 0h1m1 0h1m1 0h1m1 0h1m32 0h1m61 0h2m7 0h1m12 0h1m4 0h3m6 0h1m86 0h1m1 0h1m1 0h2m3 0h3m13 0h1m5 0h3m1 0h1M593 607.5h1m5 0h1m13 0h1m16 0h1m63 0h1m36 0h1m24 0h1m14 0h1m42 0h1m21 0h1m1 0h1m1 0h1m2 0h1m27 0h2m2 0h2m1 0h2M637 609.5h4m2 0h1m29 0h3m32 0h1m1 0h2m2 0h1m37 0h1m12 0h1m5 0h1m6 0h1m15 0h1m42 0h2m3 0h2m2 0h2m10 0h1m17 0h2M595 611.5h2m55 0h1m33 0h1m1 0h1m1 0h1m12 0h1m33 0h1m4 0h5m2 0h1m4 0h2m83 0h1m2 0h1m5 0h1M605 613.5h1m1 0h1m14 0h1m7 0h1m9 0h1m16 0h1m15 0h1m11 0h1m8 0h1m10 0h1m1 0h1m13 0h1m20 0h1m19 0h1m10 0h1m73 0h1M601 615.5h1m62 0h1m10 0h2m76 0h1m44 0h1M603 617.5h1m3 0h1m12 0h1m17 0h1m99 0h1m21 0h1m25 0h1m60 0h1m2 0h2M712 619.5h1m43 0h1M805 644.5h1"/><path stroke="#c7427c" d="M610 553.5h1m1 0h2m1 0h1m240 0h5M857 563.5h2M861 568.5h1M594 597.5h1m3 0h1m14 0h1m3 0h1m19 0h2m27 0h1m7 0h1m19 0h2m2 0h1m17 0h1m3 0h1m20 0h1m64 0h2m30 0h1m8 0h1m11 0h1m17 0h1M614 599.5h1m13 0h1m27 0h1m13 0h1m1 0h1m5 0h1m18 0h1m3 0h1m3 0h1m1 0h1m1 0h1m21 0h1m1 0h2m24 0h2m1 0h1m4 0h1m1 0h3m23 0h1m38 0h2m3 0h2m17 0h1m2 0h2m3 0h1m1 0h2M591 601.5h1m3 0h1m14 0h1m5 0h2m14 0h1m10 0h1m5 0h2m1 0h1m30 0h1m4 0h1m33 0h1m7 0h1m7 0h1m16 0h2m6 0h1m15 0h1m53 0h1m1 0h2m1 0h1m22 0h2m3 0h1m1 0h2m5 0h1M637 603.5h1m4 0h1m12 0h1m51 0h1m1 0h2m26 0h1m6 0h1m2 0h1m24 0h1m88 0h2M600 605.5h1m2 0h1m5 0h2m2 0h1m10 0h1m7 0h1m10 0h1m5 0h2m1 0h1m2 0h1m71 0h1m1 0h1m11 0h3m2 0h1m10 0h1m52 0h1m37 0h1m2 0h3m10 0h2m9 0h1m5 0h1M592 607.5h1m1 0h2m59 0h1m1 0h1m1 0h1m33 0h1m32 0h1m31 0h3m26 0h1m47 0h1m1 0h1m3 0h1m2 0h1M626 609.5h1m90 0h2m27 0h1m16 0h1m13 0h1m17 0h1m45 0h1m2 0h1m8 0h1M594 611.5h1m29 0h1m53 0h1m4 0h1m1 0h1m3 0h1m1 0h1m12 0h2m4 0h1m25 0h1m1 0h1m2 0h1m5 0h1m35 0h1m28 0h2m1 0h5m21 0h1m1 0h1m23 0h1m3 0h1m1 0h1M591 613.5h2m10 0h2m1 0h1m16 0h1m7 0h1m32 0h1m30 0h1m12 0h2m47 0h1m38 0h1m38 0h1M589 615.5h1m72 0h2m62 0h1m1 0h2m87 0h1M606 617.5h1m49 0h1m73 0h1m23 0h1m108 0h1"/><path stroke="#bd3786" d="M599 553.5h3m3 0h3m1 0h1m4 0h1m1 0h1m132 0h1m113 0h1M610 554.5h1m261 0h1M611 556.5h2m9 0h1m1 0h1m233 0h2m1 0h1M602 557.5h5m7 0h1m241 0h1m1 0h1M596 559.5h1M607 560.5h2m1 0h1m261 0h1M743 562.5h2M856 563.5h1m4 0h1M608 564.5h1m245 0h1M851 566.5h1m1 0h1m5 0h3m5 0h1M610 567.5h2m7 0h1m1 0h1M612 568.5h2m4 0h1m234 0h4m3 0h1m1 0h4m4 0h9m1 0h2M602 570.5h1m261 0h3M601 577.5h1M874 581.5h1M619 583.5h1m130 0h1M626 597.5h1m9 0h1m14 0h1m13 0h1m26 0h2m3 0h1m16 0h1m27 0h2m18 0h1m1 0h1m7 0h3m2 0h2m5 0h1m33 0h2m40 0h1M621 599.5h1m7 0h1m8 0h1m4 0h1m1 0h1m1 0h1m3 0h1m1 0h1m1 0h1m2 0h1m16 0h1m1 0h1m1 0h2m9 0h1m1 0h5m1 0h2m15 0h1m2 0h5m9 0h1m25 0h1m9 0h1m58 0h1m3 0h3m2 0h3m12 0h2m1 0h2M594 601.5h1m27 0h2m1 0h1m7 0h3m6 0h1m1 0h1m11 0h1m19 0h1m8 0h1m1 0h1m1 0h1m22 0h1m2 0h1m16 0h1m31 0h1m21 0h1m21 0h1m19 0h1m8 0h1m15 0h1m4 0h1m4 0h2m5 0h3M601 603.5h1m1 0h2m33 0h1m1 0h1m10 0h3m21 0h1m28 0h1m1 0h1m17 0h3m1 0h1m3 0h1m13 0h1m2 0h1m42 0h1m33 0h1m1 0h2m26 0h1m2 0h2m3 0h2m10 0h2M611 605.5h1m39 0h1m73 0h2m27 0h1m14 0h1m1 0h2m2 0h1m1 0h2m2 0h1m25 0h3m1 0h1m27 0h1m23 0h1m15 0h1M617 607.5h1m17 0h1m56 0h1m3 0h1m3 0h2m39 0h1m49 0h1m57 0h1m12 0h1m2 0h4M612 609.5h3m52 0h3m9 0h2m26 0h1m8 0h1m8 0h2m5 0h1m33 0h1m9 0h1m22 0h1m32 0h2M628 611.5h1m1 0h3m46 0h2m20 0h2m5 0h1m49 0h5m7 0h2m12 0h4m22 0h2m2 0h1m57 0h1M590 613.5h1m9 0h1m23 0h1m35 0h1m42 0h1m29 0h2m77 0h3m3 0h2M590 615.5h1m28 0h1m12 0h2m87 0h1m96 0h1m60 0h1M697 617.5h1m31 0h1m26 0h2m117 0h1M703 619.5h2m12 0h1m125 0h1m3 0h1m4 0h2"/><path stroke="#b32c8e" d="M597 553.5h1m5 0h1m15 0h2m126 0h2m1 0h7m110 0h6m5 0h1m1 0h1M600 554.5h1m5 0h1m1 0h1m133 0h4m12 0h3m91 0h1m1 0h2m3 0h1m2 0h2m4 0h2m3 0h7M612 555.5h4m119 0h2m124 0h3M606 556.5h1m2 0h1m4 0h1m8 0h1m236 0h1m3 0h1m3 0h1m1 0h1m1 0h2m1 0h1M608 557.5h6m1 0h2m2 0h1m113 0h1m1 0h1m5 0h6m102 0h3m10 0h1m3 0h1m8 0h4M853 558.5h8m4 0h2m2 0h2M595 559.5h1m1 0h1m160 0h1m113 0h1m1 0h3M589 560.5h1m13 0h1m1 0h1m6 0h1m1 0h3m118 0h3m117 0h4m4 0h1m1 0h1m3 0h1m3 0h1m1 0h1m4 0h2M606 561.5h1m8 0h1m131 0h2m1 0h3m1 0h1m1 0h4m104 0h2m4 0h1m8 0h2M600 562.5h2m6 0h1m1 0h2m2 0h2m1 0h1m122 0h3m2 0h3m5 0h1m2 0h6m85 0h1m10 0h3m1 0h6m1 0h1m9 0h1M591 563.5h3m1 0h1m20 0h1m126 0h1m9 0h1m3 0h1m1 0h1m103 0h2m1 0h1m1 0h2m6 0h1m3 0h1M605 564.5h2m120 0h1m123 0h3m3 0h1m2 0h1M599 565.5h1m1 0h1m157 0h1m98 0h2m6 0h4M596 566.5h2m3 0h1m1 0h3m246 0h1m20 0h2m1 0h2M620 567.5h1m230 0h3m27 0h1M590 568.5h3m11 0h1m1 0h2m2 0h1m8 0h2m130 0h1m9 0h1m5 0h1m84 0h1m14 0h1m11 0h1M598 569.5h3m14 0h2m240 0h1M596 570.5h4m3 0h3m9 0h1m255 0h1m4 0h1M748 572.5h1M854 573.5h1M850 576.5h1M627 597.5h1m15 0h1m1 0h1m1 0h2m3 0h1m7 0h2m2 0h1m2 0h1m1 0h1m6 0h1m2 0h1m3 0h1m5 0h1m67 0h1m22 0h2m1 0h1m32 0h1M608 599.5h3m30 0h1m2 0h1m3 0h2m4 0h1m2 0h1m3 0h1m4 0h1m16 0h2m2 0h1m1 0h1m1 0h1m24 0h2m37 0h1m31 0h1m40 0h2m47 0h3M597 601.5h1m28 0h2m8 0h2m27 0h1m6 0h1m13 0h1m14 0h1m3 0h1m1 0h2m2 0h1m5 0h1m29 0h7m33 0h1m6 0h2m11 0h1m19 0h1m19 0h1m9 0h1m1 0h1M605 603.5h1m17 0h1m15 0h1m48 0h2m1 0h1m35 0h1m1 0h1m4 0h1m58 0h1m9 0h1m26 0h1m26 0h2m4 0h1M629 605.5h1m1 0h1m51 0h1m4 0h2m9 0h1m2 0h1m67 0h1m2 0h1m2 0h1m2 0h2m15 0h2m1 0h2m39 0h1M636 607.5h3m1 0h1m6 0h1m3 0h2m35 0h1m8 0h1m29 0h1m12 0h1m20 0h1m14 0h1m4 0h1m4 0h1m1 0h1m1 0h1m60 0h1m11 0h1m17 0h1M615 609.5h1m34 0h1m9 0h1m35 0h1m44 0h1m20 0h1m29 0h1m38 0h1m3 0h1m14 0h1m3 0h1M589 611.5h1m39 0h1m66 0h1m2 0h1m7 0h1m12 0h1m36 0h1m10 0h2m30 0h2M595 613.5h1m23 0h1m30 0h1m16 0h2m7 0h1m10 0h1m80 0h2m22 0h1m13 0h1m9 0h2m2 0h1m6 0h1M659 615.5h1m26 0h1m134 0h1M690 617.5h1m73 0h2m65 0h1M844 619.5h1m1 0h1m7 0h1"/><path stroke="#a72197" d="M591 553.5h6m25 0h3m2 0h3m7 0h3m118 0h2m1 0h2m2 0h4m79 0h3m1 0h3m10 0h1m8 0h3m4 0h1M590 554.5h1m5 0h3m3 0h4m13 0h1m2 0h2m7 0h1m2 0h1m97 0h2m1 0h2m18 0h1m94 0h2m1 0h1m3 0h2m1 0h1m5 0h1m3 0h1M590 555.5h6m12 0h2m12 0h1m2 0h2m107 0h1m107 0h1m4 0h1m5 0h1m21 0h2M617 556.5h3m6 0h1m2 0h2m104 0h1m11 0h1m7 0h1m3 0h2m84 0h1m2 0h1m3 0h1m26 0h3M592 557.5h5m1 0h3m17 0h1m1 0h2m1 0h2m107 0h1m1 0h1m13 0h1m1 0h2m1 0h6m88 0h2m4 0h1m7 0h1m1 0h1m1 0h1m1 0h6m7 0h2M596 558.5h1m20 0h2m3 0h2m1 0h1m9 0h7m116 0h3m1 0h2m103 0h1M601 559.5h1m146 0h2m10 0h2m5 0h1m113 0h1M591 560.5h5m1 0h5m15 0h7m1 0h4m110 0h1m14 0h1m7 0h4m78 0h4m1 0h5m12 0h2m2 0h1M591 561.5h2m2 0h3m18 0h1m1 0h1m125 0h1m1 0h1m2 0h1m3 0h1m1 0h1m4 0h2m3 0h1m108 0h1M599 562.5h1m24 0h2m1 0h1m100 0h2m7 0h1m24 0h1m81 0h1m1 0h1m7 0h2m17 0h1m3 0h1M597 563.5h3m6 0h2m2 0h2m6 0h1m1 0h2m4 0h2m114 0h1m3 0h1m2 0h1m4 0h1m3 0h1m6 0h2m77 0h1m6 0h1m21 0h2M589 564.5h1m27 0h3m115 0h1m7 0h3m7 0h5m98 0h1m1 0h2M597 565.5h2m1 0h1m2 0h2m32 0h1m106 0h2m107 0h2M600 566.5h1m8 0h1m4 0h4m6 0h2m1 0h1m115 0h2m6 0h2m3 0h5m87 0h2m19 0h1m9 0h1M593 568.5h1m2 0h1m3 0h2m27 0h2m101 0h1m11 0h2m3 0h1m4 0h1m2 0h1m7 0h2m1 0h1m71 0h1m7 0h1M589 569.5h1m32 0h1m109 0h2m115 0h1m1 0h4m13 0h1M589 570.5h4m2 0h1m49 0h1m91 0h2m13 0h1m99 0h1M726 571.5h1m114 0h1M738 572.5h1M754 579.5h1M642 582.5h1M639 587.5h1M723 588.5h1M646 597.5h1m2 0h1m7 0h1m5 0h1m13 0h2m1 0h2m18 0h3m36 0h1m35 0h1m3 0h1m2 0h1m15 0h1m16 0h1m11 0h1m3 0h1M622 599.5h2m39 0h2m20 0h1m2 0h1m137 0h1m23 0h1m2 0h1M658 601.5h1m9 0h1m4 0h3m1 0h1m3 0h1m22 0h1m1 0h1m2 0h1m94 0h2m3 0h2m2 0h1m6 0h1M602 603.5h1m9 0h1m11 0h1m43 0h1m8 0h5m3 0h1m1 0h1m2 0h1m1 0h2m7 0h1m50 0h1m29 0h1m4 0h2m15 0h1m20 0h1m1 0h1m52 0h1M684 605.5h1m2 0h1m25 0h1m3 0h1m44 0h1m19 0h3m13 0h1m15 0h1M646 607.5h1m15 0h1m7 0h1m2 0h2m35 0h1m7 0h1m58 0h4m8 0h1m56 0h2m2 0h1M609 609.5h1m1 0h1m4 0h1m15 0h1m2 0h1m11 0h2m3 0h1m8 0h3m7 0h1m21 0h1m48 0h1m1 0h1m45 0h1m7 0h1m2 0h1m8 0h1m5 0h1m2 0h1m7 0h1m6 0h1m16 0h2M603 611.5h1m12 0h1m9 0h1m19 0h1m2 0h1m47 0h2m10 0h1m15 0h1m6 0h1m45 0h1m9 0h1m2 0h1m10 0h1m5 0h1m26 0h3M636 613.5h1m34 0h1m19 0h1m140 0h1M660 615.5h1m7 0h1m43 0h1m47 0h1M634 617.5h1m164 0h1M630 619.5h1m189 0h1"/><path stroke="#9c179e" d="M625 553.5h1m4 0h4m2 0h1m3 0h3m82 0h2m1 0h1m1 0h1m1 0h2m2 0h10m17 0h1m5 0h2m72 0h5M632 554.5h1m5 0h2m1 0h1m61 0h1m4 0h1m8 0h2m6 0h2m1 0h1m1 0h1m7 0h3m7 0h1m1 0h4m8 0h2m1 0h2m77 0h3m34 0h1M629 555.5h3m7 0h1m1 0h2m8 0h1m56 0h2m141 0h2M724 556.5h1m2 0h1m4 0h2m5 0h1m13 0h1m8 0h1m1 0h2M625 557.5h2m1 0h1m93 0h7m8 0h1m1 0h1m9 0h1m10 0h2m3 0h2m1 0h5m67 0h3M619 558.5h1m6 0h1m110 0h1m8 0h3m93 0h2M600 559.5h1m32 0h1m99 0h2m30 0h1M629 560.5h8m79 0h1m9 0h2m2 0h4m11 0h7m1 0h1m2 0h3m1 0h1m5 0h1m1 0h1m67 0h2m2 0h3m17 0h2m15 0h2M621 561.5h2m5 0h1m14 0h1m71 0h1m15 0h1m8 0h1M589 562.5h3m38 0h3m1 0h1m82 0h1m4 0h4m12 0h1m12 0h1m14 0h1m4 0h1m68 0h1m8 0h1m1 0h1M628 563.5h5m3 0h3m1 0h1m5 0h2m5 0h1m73 0h1m2 0h1m1 0h2m13 0h1m22 0h1m61 0h2m3 0h2m1 0h1m1 0h1m3 0h1m2 0h2m1 0h1M711 564.5h2m10 0h2m121 0h1M632 565.5h2m4 0h3m79 0h6m2 0h2m7 0h1m11 0h1m6 0h1m94 0h2M626 566.5h1m4 0h3m4 0h5m2 0h1m72 0h1m8 0h1m3 0h1m6 0h1m96 0h2m3 0h1m5 0h1M614 567.5h1m28 0h3m87 0h3m10 0h1M622 568.5h6m5 0h2m3 0h1m3 0h1m1 0h1m69 0h1m9 0h1m1 0h1m2 0h2m12 0h1m95 0h1m3 0h5M624 569.5h1m9 0h2m3 0h1m124 0h1m74 0h2m9 0h1M630 570.5h2m1 0h1m133 0h1m75 0h2M641 572.5h1M729 573.5h1m102 0h1m2 0h1M831 574.5h1M839 575.5h1M720 578.5h1M853 579.5h1M719 580.5h1M646 582.5h1m119 0h1M706 583.5h1m6 0h1M630 584.5h1M657 585.5h1M638 589.5h1M644 597.5h1m10 0h1m2 0h1m23 0h1m1 0h1m33 0h1m6 0h1m40 0h1m2 0h1m29 0h1m26 0h1m5 0h1M660 599.5h1m1 0h1m2 0h1m90 0h1m22 0h1m12 0h1m19 0h2m3 0h1m3 0h1m2 0h1m47 0h1m1 0h1M670 601.5h1m7 0h2m97 0h1m11 0h1M589 603.5h2m1 0h1m15 0h1m2 0h1m1 0h2m2 0h2m1 0h1m1 0h1m5 0h1m38 0h1m14 0h1m1 0h1m15 0h1m21 0h1m57 0h2m7 0h1m52 0h2m37 0h1M634 605.5h1m2 0h1m47 0h2m3 0h1m1 0h3m16 0h1m2 0h3m1 0h2m40 0h2m1 0h1m52 0h1M610 607.5h2m27 0h1m5 0h1m2 0h1m12 0h1m3 0h1m1 0h1m47 0h1m20 0h1m69 0h1m3 0h2m11 0h2M624 609.5h1m6 0h1m1 0h2m10 0h2m17 0h1m17 0h1m1 0h1m6 0h2m93 0h2m15 0h1m5 0h1m7 0h2m2 0h2M617 611.5h1m3 0h1m28 0h1m19 0h3m1 0h1m46 0h1m8 0h2m1 0h1m45 0h1m45 0h1M643 613.5h1m35 0h1M667 615.5h1m26 0h1m1 0h1m108 0h1m3 0h1m5 0h1M798 617.5h1m24 0h1M628 619.5h1"/><path stroke="#8e0ca4" d="M645 553.5h6m3 0h3m61 0h1m1 0h2m1 0h2m2 0h1m6 0h1m105 0h2M643 554.5h1m3 0h1m12 0h1m48 0h2m1 0h4m4 0h2m1 0h1m44 0h1m68 0h1M636 555.5h1m66 0h1m15 0h3m17 0h2m95 0h1m2 0h1M634 556.5h1m11 0h1m3 0h2m56 0h1m4 0h1m9 0h1m13 0h2m2 0h3m29 0h1m55 0h5m6 0h3M631 557.5h4m1 0h2m4 0h1m73 0h3m1 0h2m40 0h2m9 0h3m54 0h3m6 0h1m4 0h2M718 558.5h1m48 0h2m72 0h1m3 0h1M635 559.5h5m2 0h2m16 0h1m4 0h1m65 0h2m37 0h1m1 0h1m3 0h1m2 0h1m51 0h1m2 0h2M643 560.5h3m1 0h4m2 0h1m1 0h1m1 0h1m45 0h2m3 0h1m3 0h1m1 0h1m5 0h1m1 0h4m3 0h1m11 0h3m26 0h3m62 0h1m2 0h1M653 561.5h2m47 0h1m6 0h1m17 0h2m44 0h1M638 562.5h3m10 0h3m5 0h1m52 0h5m3 0h1m14 0h1m36 0h1m63 0h4M642 563.5h1m1 0h1m7 0h1m1 0h3m43 0h1m7 0h1m1 0h5m2 0h1m3 0h1m15 0h1m2 0h1M641 564.5h5m64 0h1m19 0h2m105 0h2m8 0h1M650 565.5h1m5 0h1m79 0h1M647 566.5h2m2 0h1m69 0h3m1 0h1m117 0h1M640 567.5h2m4 0h1m2 0h1m1 0h1m80 0h1m34 0h2m1 0h1m71 0h1M643 568.5h1m2 0h1m2 0h3m4 0h3m45 0h1m1 0h1m4 0h2m9 0h2m1 0h1m49 0h1m53 0h1m1 0h1M636 569.5h3m11 0h1m54 0h5m8 0h3m47 0h1M713 570.5h1M771 574.5h1M677 576.5h1M733 577.5h1M706 580.5h1m7 0h1M683 587.5h1M596 597.5h1m57 0h1m1 0h1m29 0h1m35 0h3m42 0h1m2 0h1m25 0h1m28 0h1m4 0h1M591 599.5h1m132 0h4m46 0h1m35 0h1m3 0h1m5 0h1m1 0h2m51 0h1M693 601.5h1m2 0h1m79 0h1m4 0h2m15 0h1m1 0h1m14 0h1m9 0h1M609 603.5h2m4 0h2m2 0h1m6 0h2m42 0h3m10 0h1m85 0h1m4 0h1m1 0h3m4 0h1m1 0h1m93 0h1M635 605.5h2m1 0h1m56 0h1m16 0h1m72 0h1m2 0h4m1 0h1m29 0h2M663 607.5h2m1 0h1m23 0h1m43 0h1m73 0h2m12 0h1m2 0h3M649 609.5h1m1 0h1m35 0h1m12 0h1m1 0h1m1 0h1m76 0h1m20 0h1M647 611.5h2m10 0h1m2 0h1m5 0h1m6 0h1m52 0h1m44 0h1m6 0h1m11 0h1m33 0h1M678 613.5h1M693 615.5h1m112 0h1M830 617.5h1M629 619.5h1"/><path stroke="#8104a7" d="M659 553.5h2m1 0h2m2 0h1m3 0h2m29 0h4m5 0h1m2 0h2m1 0h1m55 0h3m1 0h3m2 0h4m8 0h1m32 0h1m1 0h4m3 0h5M645 554.5h2m2 0h3m1 0h3m1 0h1m8 0h1m4 0h1m1 0h1m4 0h1m19 0h1m1 0h1m69 0h4m2 0h3m4 0h1m47 0h5m5 0h1M663 555.5h1m6 0h2m3 0h1m2 0h1m15 0h3m130 0h5m6 0h1M653 556.5h2m3 0h3m13 0h1m1 0h1m22 0h1m2 0h1m9 0h1m67 0h1m1 0h1M638 557.5h2m3 0h8m2 0h1m1 0h2m5 0h2m1 0h2m3 0h2m1 0h2m1 0h4m12 0h1m11 0h5m67 0h1m1 0h1m2 0h2m1 0h1m43 0h2m4 0h2M649 558.5h1m12 0h1m39 0h1m136 0h1M653 559.5h3m10 0h1m18 0h1m21 0h2m12 0h1m69 0h1M638 560.5h4m9 0h2m5 0h3m15 0h2m19 0h1m8 0h1m3 0h1m7 0h1m54 0h4m1 0h1m2 0h1m1 0h2m44 0h5M659 561.5h2m13 0h2m28 0h2m1 0h1m4 0h1m123 0h1M649 562.5h1m7 0h1m8 0h1m1 0h1m1 0h1m3 0h1m18 0h1m13 0h1m60 0h1m10 0h2m50 0h1M650 563.5h1m7 0h1m2 0h1m5 0h3m53 0h1m48 0h2m6 0h2m48 0h1m4 0h1M646 564.5h1m22 0h1m151 0h2M645 565.5h1m9 0h1m1 0h2m57 0h1M654 566.5h1m3 0h1m5 0h1m1 0h1m41 0h2m1 0h2m61 0h1m48 0h1m5 0h2M822 567.5h2m7 0h1M660 568.5h1m33 0h4m1 0h2m2 0h1m1 0h1m2 0h2m7 0h1m52 0h1m5 0h1m3 0h2m48 0h1m2 0h1M658 569.5h1m2 0h1m4 0h1m36 0h2m9 0h1m8 0h1m60 0h1m1 0h4M714 570.5h1m8 0h1m55 0h1M676 571.5h1m27 0h1M674 574.5h1M680 578.5h1M687 582.5h1m92 0h1M825 587.5h1M726 597.5h4m38 0h1m33 0h1m20 0h1M775 599.5h1m27 0h1m15 0h1m53 0h1M691 601.5h1m91 0h1m13 0h1m1 0h1m1 0h2m13 0h1m1 0h1m3 0h1m1 0h1M629 603.5h1m145 0h1m20 0h1M672 605.5h1m23 0h1m95 0h1m32 0h1M679 607.5h1m55 0h1m58 0h2m4 0h1m1 0h1m15 0h2m11 0h3M701 609.5h1m1 0h1m103 0h1M654 611.5h1m6 0h1m1 0h1m3 0h1m5 0h1m20 0h1m98 0h1M785 613.5h1m44 0h1M700 617.5h1"/><path stroke="#7201a8" d="M661 553.5h1m2 0h2m1 0h2m8 0h3m9 0h1m9 0h2m5 0h4m69 0h1m36 0h1m1 0h5m1 0h1m9 0h1M662 554.5h1m1 0h1m3 0h2m5 0h1m4 0h1m3 0h1m3 0h2m3 0h3m91 0h2m7 0h2m18 0h1m3 0h1m1 0h3m2 0h1M676 555.5h2m23 0h1m71 0h2m37 0h1m13 0h1M662 556.5h1m19 0h1m1 0h1m10 0h4m95 0h4m24 0h1M667 557.5h2m3 0h1m7 0h12m2 0h6m83 0h1m1 0h4m3 0h1m3 0h1m25 0h4M652 558.5h1m12 0h1m35 0h1m4 0h1m85 0h1M668 559.5h1m47 0h5m64 0h2m5 0h1m5 0h2m21 0h1m2 0h3M662 560.5h2m1 0h2m1 0h3m1 0h1m1 0h1m4 0h1m1 0h2m7 0h2m3 0h1m3 0h3m77 0h1m2 0h1m7 0h2m1 0h2m32 0h2M664 561.5h2m4 0h1m10 0h1m11 0h1m124 0h1M643 562.5h3m26 0h2m8 0h1m19 0h3m4 0h2m70 0h3m4 0h4m27 0h1m1 0h1m4 0h1m1 0h1m4 0h1M665 563.5h1m5 0h2m5 0h2m23 0h2m69 0h4m6 0h1m1 0h1m36 0h4m1 0h2M672 564.5h1m2 0h4m6 0h1m134 0h1M691 565.5h1M665 566.5h1m3 0h3m8 0h1m10 0h1m5 0h11m67 0h7m35 0h6M665 567.5h2m10 0h2M664 568.5h4m1 0h3m17 0h3m1 0h1m90 0h3m3 0h11m1 0h1m23 0h1M654 569.5h1m18 0h1m106 0h2M829 570.5h2M799 582.5h1M679 585.5h1m112 0h1M686 586.5h1m126 0h1M687 597.5h1m16 0h1m96 0h1m8 0h1m2 0h1M773 599.5h1m15 0h1m7 0h1m1 0h3m6 0h1M692 601.5h1m1 0h1m89 0h1m32 0h1M663 603.5h1m32 0h3m85 0h1m14 0h2m18 0h2M669 605.5h1m1 0h1m3 0h2M677 607.5h2m1 0h2m3 0h1m35 0h1m74 0h1m2 0h1m1 0h1m14 0h2m12 0h1M730 609.5h1M660 611.5h1m3 0h1m141 0h1m24 0h3M771 615.5h1M699 617.5h1m92 0h1"/><path stroke="#6400a7" d="M673 553.5h3m4 0h2m1 0h1m1 0h2m3 0h1m1 0h2m1 0h3m89 0h5m3 0h5m13 0h1m1 0h1m1 0h1M690 554.5h1m102 0h1M784 555.5h1m9 0h1m7 0h2m10 0h7M678 556.5h1m4 0h1m9 0h1m93 0h2m3 0h1m7 0h1m16 0h3m4 0h1M658 557.5h3m128 0h2m6 0h2m15 0h5m2 0h1M787 558.5h1m7 0h1m2 0h2m14 0h1m6 0h1M683 559.5h1m11 0h2m103 0h1m6 0h1m5 0h1m4 0h2M683 560.5h2m1 0h4m2 0h2m92 0h1m1 0h1m6 0h3m14 0h1m9 0h1m2 0h1M791 561.5h2M676 562.5h3m2 0h1m1 0h2m2 0h2m109 0h1m2 0h1m15 0h2m1 0h1M676 563.5h1m4 0h1m2 0h1m2 0h1m2 0h1m1 0h1m1 0h2m91 0h4m2 0h1m6 0h1m5 0h3m1 0h4M686 564.5h1M672 565.5h1m3 0h1m8 0h2m120 0h1m2 0h1m4 0h2M672 566.5h1m2 0h4m2 0h6m1 0h3m4 0h2m85 0h3m2 0h3m2 0h1m11 0h1m11 0h1M675 567.5h1m10 0h1m100 0h1M677 568.5h4m3 0h2m101 0h2m12 0h1m13 0h2m4 0h1M668 569.5h1m10 0h2m122 0h1m1 0h2M669 570.5h1m23 0h1m5 0h1m118 0h1M710 597.5h1m19 0h1m61 0h3m14 0h1m1 0h1m10 0h1M798 599.5h1m3 0h1m2 0h2M640 601.5h1m22 0h1m159 0h1M664 603.5h1m136 0h1m8 0h1m2 0h2m1 0h1m4 0h1M670 605.5h1m3 0h1m2 0h1m2 0h1M684 607.5h1m1 0h1m110 0h1M698 609.5h1m21 0h1M670 615.5h1"/><path stroke="#5502a4" d="M687 553.5h1m112 0h5m1 0h5M682 554.5h1m121 0h2m1 0h2M795 555.5h1m9 0h1M803 556.5h1m9 0h1M794 557.5h1m5 0h2m8 0h3M687 558.5h2m120 0h1m6 0h5M810 559.5h2m3 0h2M787 560.5h1m11 0h6m1 0h1m1 0h2m1 0h1m5 0h5m1 0h1M684 561.5h2m118 0h1M802 562.5h1m1 0h2m4 0h5M794 563.5h2m21 0h1m1 0h2M808 565.5h2m9 0h1M791 566.5h1m1 0h1m11 0h3M687 567.5h1m123 0h1M809 568.5h6M689 569.5h1M801 570.5h1m15 0h1M786 597.5h1m4 0h1m20 0h1m8 0h1M815 603.5h1m1 0h2m3 0h1M673 605.5h1m4 0h2M683 607.5h1m100 0h1m44 0h1M713 611.5h1m1 0h3M671 615.5h1"/><path stroke="#46039f" d="M811 554.5h4M686 556.5h1m117 0h5M802 557.5h2m2 0h4M801 558.5h3M814 560.5h3M807 562.5h3M802 563.5h1m15 0h1M807 564.5h1m8 0h2M797 567.5h6M787 597.5h3m14 0h1M808 603.5h2m2 0h1M714 611.5h1m3 0h1M780 613.5h1"/><path stroke="#350498" d="M811 603.5h1"/><rect x="589" y="754" width="293" height="207" fill="url(#h5ga)"/><rect x="589" y="754" width="293" height="207" fill="url(#h5gb)" mask="url(#h5mk)"/><path stroke="#f5e926" d="M880.5 719V754"/><path stroke="#fff" stroke-width="1" fill="#fff" d="M600.5 956V961M605.5 955V961M606.5 956V961M615.5 950V961M616.5 956V961M621.5 960V961M625.5 950V961M626.5 956V961M629.5 960V961M631.5 955V961M637.5 956V961M640.5 956V961M642.5 956V961M644.5 956V961M647.5 956V961M652.5 956V961M655.5 950V961M662.5 956V961M663.5 956V961M664.5 956V961M667.5 956V961M673.5 956V961M694.5 956V961M696.5 956V961M698.5 956V961M703.5 955V961M707.5 955V961M715.5 950V961M717.5 950V961M722.5 955V961M725.5 945V961M726.5 910V961M727.5 956V961M734.5 945V961M735.5 950V961M737.5 951V961M739.5 960V961M743.5 956V961M757.5 956V961M759.5 956V961M761.5 956V961M770.5 945V961M773.5 950V961M775.5 956V961M778.5 956V961M787.5 954V961M789.5 950V961M795.5 955V961M796.5 955V961M806.5 956V961M807.5 945V961M808.5 879V961M809.5 857V961M810.5 828V961M811.5 814V961M812.5 857V961M813.5 883V961M814.5 850V961M815.5 935V961M816.5 894V961M817.5 874V961M818.5 859V961M819.5 864V961M820.5 869V961M821.5 874V961M822.5 868V961M823.5 883V961M824.5 904V961M825.5 945V961M838.5 954V961M842.5 956V961M845.5 950V961M847.5 954V961M850.5 956V961M851.5 910V961M852.5 929V961M853.5 915V961M854.5 925V961M857.5 954V961M861.5 954V961M864.5 883V961M865.5 895V961M868.5 954V961M870.5 950V961M873.5 956V961M875.5 954V961M593.5 959V961M595.5 959V961M603.5 960V961M619.5 960V961M643.5 959V961M649.5 959V961M657.5 957V961M669.5 957V961M670.5 958V961M671.5 957V961M674.5 960V961M678.5 960V961M679.5 959V961M682.5 960V961M683.5 960V961M685.5 960V961M686.5 958V961M689.5 957V961M693.5 960V961M700.5 958V961M719.5 957V961M721.5 959V961M732.5 957V961M745.5 960V961M748.5 959V961M751.5 959V961M753.5 958V961M765.5 957V961M766.5 959V961M771.5 960V961M783.5 958V961M788.5 957V961M791.5 959V961M792.5 960V961M800.5 960V961M805.5 958V961M828.5 957V961M836.5 959V961M840.5 959V961M843.5 957V961M844.5 960V961M866.5 957V961M876.5 957V961M822 553h3V961h-3zM630 553h2V667h-2zM790 553h2V572h-2z"/><rect x="469" y="65" width="21" height="410" fill="url(#cg1)"/><rect x="899" y="65" width="22" height="410" fill="url(#cg2)"/><rect x="899" y="552" width="22" height="410" fill="url(#cg5)"/><rect x="1330" y="428.56" width="22" height="45.74" fill="#e41a1c"/><rect x="1330" y="383.11" width="22" height="45.74" fill="#377eb8"/><rect x="1330" y="337.67" width="22" height="45.74" fill="#4daf4a"/><rect x="1330" y="292.22" width="22" height="45.74" fill="#984ea3"/><rect x="1330" y="246.78" width="22" height="45.74" fill="#ff7f00"/><rect x="1330" y="201.33" width="22" height="45.74" fill="#ffff33"/><rect x="1330" y="155.89" width="22" height="45.74" fill="#a65628"/><rect x="1330" y="110.44" width="22" height="45.74" fill="#f781bf"/><rect x="1330" y="65.00" width="22" height="45.74" fill="#999999"/><rect x="1020" y="65" width="293" height="410" fill="#377eb8"/><path stroke="#ff7f00" d="M1057.5 66V157M1062.5 66V210M1063.5 66V210M1066.5 66V180M1188.5 66V70M1221.5 66V104M1248.5 66V147M1249.5 66V74M1250.5 66V74M1253.5 66V396M1254.5 66V396M1255.5 66V396M1267.5 66V90M1295.5 66V155M1070 87.5h1M1068 97.5h1M1036 68.5h1M1118 69.5h1M1186 70.5h1M1203 75.5h1M1210 78.5h1M1213 82.5h1M1179 110.5h1M1280 87.5h1"/><path stroke="#fff" d="M1031.5 469V474M1036.5 468V474M1037.5 469V474M1046.5 463V474M1047.5 469V474M1052.5 473V474M1056.5 463V474M1057.5 469V474M1060.5 473V474M1062.5 468V474M1068.5 469V474M1071.5 469V474M1073.5 469V474M1075.5 469V474M1078.5 469V474M1083.5 469V474M1086.5 463V474M1093.5 469V474M1094.5 469V474M1095.5 469V474M1098.5 469V474M1104.5 469V474M1125.5 469V474M1127.5 469V474M1129.5 469V474M1134.5 468V474M1138.5 468V474M1146.5 463V474M1148.5 463V474M1153.5 468V474M1156.5 458V474M1157.5 423V474M1158.5 469V474M1165.5 458V474M1166.5 463V474M1168.5 464V474M1170.5 473V474M1174.5 469V474M1188.5 469V474M1190.5 469V474M1192.5 469V474M1201.5 458V474M1204.5 463V474M1206.5 469V474M1209.5 469V474M1218.5 467V474M1220.5 463V474M1226.5 468V474M1227.5 468V474M1237.5 469V474M1238.5 458V474M1239.5 392V474M1240.5 370V474M1241.5 341V474M1242.5 341V474M1243.5 370V474M1244.5 396V474M1245.5 363V474M1246.5 448V474M1247.5 407V474M1248.5 387V474M1249.5 372V474M1250.5 377V474M1251.5 382V474M1252.5 387V474M1253.5 381V474M1254.5 396V474M1255.5 417V474M1256.5 458V474M1269.5 467V474M1273.5 469V474M1276.5 463V474M1278.5 467V474M1281.5 469V474M1282.5 423V474M1283.5 442V474M1284.5 428V474M1285.5 438V474M1288.5 467V474M1292.5 467V474M1295.5 396V474M1296.5 408V474M1299.5 467V474M1301.5 463V474M1304.5 469V474M1306.5 467V474M1021.5 453V474M1150.5 65V474M1020 66.5h1M1023 66.5h1M1025 66.5h1M1027 66.5h8M1037 66.5h5M1043 66.5h1M1045 66.5h4M1052 66.5h3M1059 66.5h1M1062 66.5h1M1064 66.5h1M1068 66.5h4M1073 66.5h4M1078 66.5h1M1081 66.5h1M1085 66.5h2M1090 66.5h5M1096 66.5h6M1104 66.5h2M1107 66.5h1M1112 66.5h1M1116 66.5h1M1119 66.5h3M1124 66.5h2M1127 66.5h1M1129 66.5h1M1132 66.5h3M1136 66.5h3M1141 66.5h1M1145 66.5h3M1150 66.5h1M1152 66.5h1M1155 66.5h2M1161 66.5h1M1163 66.5h1M1166 66.5h5M1172 66.5h5M1178 66.5h3M1182 66.5h1M1184 66.5h2M1189 66.5h1M1191 66.5h1M1194 66.5h1M1197 66.5h1M1199 66.5h1M1201 66.5h1M1204 66.5h2M1208 66.5h1M1210 66.5h2M1215 66.5h2M1218 66.5h4M1225 66.5h1M1228 66.5h3M1232 66.5h1M1234 66.5h1M1241 66.5h1M1244 66.5h2M1247 66.5h3M1251 66.5h4M1256 66.5h2M1260 66.5h6M1267 66.5h2M1270 66.5h1M1272 66.5h9M1283 66.5h4M1288 66.5h7M1297 66.5h6M1304 66.5h1M1306 66.5h1M1309 66.5h1M1311 66.5h1"/><rect x="160" y="572" width="363" height="3" fill="#1f77b4"/><rect x="1284.5" y="559.5" width="93.5" height="25" rx="2.5" fill="#fff" fill-opacity="0.8" stroke="#cccccc" stroke-width="1"/><rect x="1299" y="567" width="9" height="9" fill="#1f77b4" fill-opacity="0.5"/><rect x="1182" y="926" width="9" height="9" fill="#1f77b4" fill-opacity="0.5"/><rect x="1182" y="931" width="9" height="9" fill="#1f77b4" fill-opacity="0.5"/><rect x="1182" y="936" width="9" height="9" fill="#1f77b4" fill-opacity="0.5"/><rect x="1182" y="941" width="9" height="9" fill="#1f77b4" fill-opacity="0.5"/><rect x="1182" y="946" width="9" height="9" fill="#1f77b4" fill-opacity="0.5"/><rect x="1182" y="951" width="9" height="9" fill="#1f77b4" fill-opacity="0.5"/><rect x="1182" y="956" width="9" height="5" fill="#1f77b4" fill-opacity="0.5"/><path d="M159 65.5H451M159 474.5H451M159.5 65V475M450.5 65V475" stroke="#000" stroke-width="1" fill="none"/><path d="M469 65.5H490M469 474.5H490M469.5 65V475M489.5 65V475" stroke="#000" stroke-width="1" fill="none"/><path d="M589 65.5H882M589 474.5H882M589.5 65V475M881.5 65V475" stroke="#000" stroke-width="1" fill="none"/><path d="M899 65.5H921M899 474.5H921M899.5 65V475M920.5 65V475" stroke="#000" stroke-width="1" fill="none"/><path d="M1020 65.5H1313M1020 474.5H1313M1020.5 65V475M1312.5 65V475" stroke="#000" stroke-width="1" fill="none"/><path d="M1330 65.5H1352M1330 474.5H1352M1330.5 65V475M1351.5 65V475" stroke="#000" stroke-width="1" fill="none"/><path d="M159 552.5H524M159 961.5H524M159.5 552V962M523.5 552V962" stroke="#000" stroke-width="1" fill="none"/><path d="M589 552.5H882M589 961.5H882M589.5 552V962M881.5 552V962" stroke="#000" stroke-width="1" fill="none"/><path d="M899 552.5H921M899 961.5H921M899.5 552V962M920.5 552V962" stroke="#000" stroke-width="1" fill="none"/><path d="M1020 552.5H1386M1020 961.5H1386M1020.5 552V962M1385.5 552V962" stroke="#000" stroke-width="1" fill="none"/><path d="M154.5 65.5H159M154.5 116.5H159M154.5 167.5H159M154.5 218.5H159M154.5 270.5H159M154.5 321.5H159M154.5 372.5H159M154.5 423.5H159M154.5 474.5H159M584.5 65.5H589M584.5 116.5H589M584.5 167.5H589M584.5 218.5H589M584.5 270.5H589M584.5 321.5H589M584.5 372.5H589M584.5 423.5H589M584.5 474.5H589M1015.5 65.5H1020M1015.5 116.5H1020M1015.5 167.5H1020M1015.5 218.5H1020M1015.5 270.5H1020M1015.5 321.5H1020M1015.5 372.5H1020M1015.5 423.5H1020M1015.5 474.5H1020M154.5 574.5H159M154.5 767.5H159M154.5 961.5H159M584.5 552.5H589M584.5 603.5H589M584.5 654.5H589M584.5 705.5H589M584.5 757.5H589M584.5 808.5H589M584.5 859.5H589M584.5 910.5H589M584.5 961.5H589M1015.5 552.5H1020M1015.5 603.5H1020M1015.5 654.5H1020M1015.5 705.5H1020M1015.5 757.5H1020M1015.5 808.5H1020M1015.5 859.5H1020M1015.5 910.5H1020M1015.5 961.5H1020M490 71.5H494.5M490 132.5H494.5M490 194.5H494.5M490 255.5H494.5M490 317.5H494.5M490 378.5H494.5M490 440.5H494.5M921 105.5H925.5M921 172.5H925.5M921 239.5H925.5M921 306.5H925.5M921 373.5H925.5M921 440.5H925.5M1352 65.5H1356.5M1352 116.5H1356.5M1352 167.5H1356.5M1352 218.5H1356.5M1352 270.5H1356.5M1352 321.5H1356.5M1352 372.5H1356.5M1352 423.5H1356.5M1352 474.5H1356.5M921 592.5H925.5M921 659.5H925.5M921 726.5H925.5M921 793.5H925.5M921 860.5H925.5M921 927.5H925.5M218.5 475V479.5M288.5 475V479.5M358.5 475V479.5M429.5 475V479.5M648.5 475V479.5M718.5 475V479.5M789.5 475V479.5M860.5 475V479.5M1079.5 475V479.5M1149.5 475V479.5M1220.5 475V479.5M1291.5 475V479.5M232.5 962V966.5M320.5 962V966.5M409.5 962V966.5M497.5 962V966.5M648.5 962V966.5M718.5 962V966.5M789.5 962V966.5M860.5 962V966.5M1093.5 962V966.5M1182.5 962V966.5M1270.5 962V966.5M1359.5 962V966.5" stroke="#000" stroke-width="1" fill="none"/><g font-family="Liberation Sans, sans-serif" fill="#000"><text x="199.95" y="494.72" font-size="14.58" textLength="35.12" lengthAdjust="spacingAndGlyphs">2014</text><text x="270.43" y="494.72" font-size="14.58" textLength="35.12" lengthAdjust="spacingAndGlyphs">2015</text><text x="340.85" y="494.72" font-size="14.58" textLength="35.25" lengthAdjust="spacingAndGlyphs">2016</text><text x="411.58" y="494.72" font-size="14.58" textLength="35.12" lengthAdjust="spacingAndGlyphs">2017</text><text x="140.53" y="70.50" font-size="14.58" textLength="8.75" lengthAdjust="spacingAndGlyphs">0</text><text x="123.03" y="121.62" font-size="14.58" textLength="26.25" lengthAdjust="spacingAndGlyphs">250</text><text x="123.03" y="172.75" font-size="14.58" textLength="26.25" lengthAdjust="spacingAndGlyphs">500</text><text x="123.03" y="223.88" font-size="14.58" textLength="26.25" lengthAdjust="spacingAndGlyphs">750</text><text x="114.15" y="275.00" font-size="14.58" textLength="35.12" lengthAdjust="spacingAndGlyphs">1000</text><text x="114.15" y="326.12" font-size="14.58" textLength="35.12" lengthAdjust="spacingAndGlyphs">1250</text><text x="114.15" y="377.25" font-size="14.58" textLength="35.12" lengthAdjust="spacingAndGlyphs">1500</text><text x="114.15" y="428.38" font-size="14.58" textLength="35.12" lengthAdjust="spacingAndGlyphs">1750</text><text x="114.28" y="479.50" font-size="14.58" textLength="35.00" lengthAdjust="spacingAndGlyphs">2000</text><text x="281.31" y="56.67" font-size="17.50" textLength="46.38" lengthAdjust="spacingAndGlyphs">DOXY</text><text x="498.72" y="445.06" font-size="14.58" textLength="17.50" lengthAdjust="spacingAndGlyphs">50</text><text x="498.72" y="383.55" font-size="14.58" textLength="26.38" lengthAdjust="spacingAndGlyphs">100</text><text x="498.72" y="322.05" font-size="14.58" textLength="26.38" lengthAdjust="spacingAndGlyphs">150</text><text x="498.72" y="260.55" font-size="14.58" textLength="26.25" lengthAdjust="spacingAndGlyphs">200</text><text x="498.72" y="199.04" font-size="14.58" textLength="26.25" lengthAdjust="spacingAndGlyphs">250</text><text x="498.72" y="137.54" font-size="14.58" textLength="26.25" lengthAdjust="spacingAndGlyphs">300</text><text x="498.72" y="76.04" font-size="14.58" textLength="26.25" lengthAdjust="spacingAndGlyphs">350</text><text x="630.15" y="494.72" font-size="14.58" textLength="35.12" lengthAdjust="spacingAndGlyphs">2014</text><text x="700.87" y="494.72" font-size="14.58" textLength="35.12" lengthAdjust="spacingAndGlyphs">2015</text><text x="771.53" y="494.72" font-size="14.58" textLength="35.25" lengthAdjust="spacingAndGlyphs">2016</text><text x="842.51" y="494.72" font-size="14.58" textLength="35.12" lengthAdjust="spacingAndGlyphs">2017</text><text x="570.53" y="70.50" font-size="14.58" textLength="8.75" lengthAdjust="spacingAndGlyphs">0</text><text x="553.03" y="121.62" font-size="14.58" textLength="26.25" lengthAdjust="spacingAndGlyphs">250</text><text x="553.03" y="172.75" font-size="14.58" textLength="26.25" lengthAdjust="spacingAndGlyphs">500</text><text x="553.03" y="223.88" font-size="14.58" textLength="26.25" lengthAdjust="spacingAndGlyphs">750</text><text x="544.15" y="275.00" font-size="14.58" textLength="35.12" lengthAdjust="spacingAndGlyphs">1000</text><text x="544.15" y="326.12" font-size="14.58" textLength="35.12" lengthAdjust="spacingAndGlyphs">1250</text><text x="544.15" y="377.25" font-size="14.58" textLength="35.12" lengthAdjust="spacingAndGlyphs">1500</text><text x="544.15" y="428.38" font-size="14.58" textLength="35.12" lengthAdjust="spacingAndGlyphs">1750</text><text x="544.28" y="479.50" font-size="14.58" textLength="35.00" lengthAdjust="spacingAndGlyphs">2000</text><text x="664.94" y="56.93" font-size="17.50" textLength="140.12" lengthAdjust="spacingAndGlyphs">DOXY_ADJUSTED</text><text x="929.72" y="445.06" font-size="14.58" textLength="17.50" lengthAdjust="spacingAndGlyphs">50</text><text x="929.72" y="378.05" font-size="14.58" textLength="26.38" lengthAdjust="spacingAndGlyphs">100</text><text x="929.72" y="311.05" font-size="14.58" textLength="26.38" lengthAdjust="spacingAndGlyphs">150</text><text x="929.72" y="244.04" font-size="14.58" textLength="26.25" lengthAdjust="spacingAndGlyphs">200</text><text x="929.72" y="177.04" font-size="14.58" textLength="26.25" lengthAdjust="spacingAndGlyphs">250</text><text x="929.72" y="110.03" font-size="14.58" textLength="26.25" lengthAdjust="spacingAndGlyphs">300</text><text x="1061.15" y="494.72" font-size="14.58" textLength="35.12" lengthAdjust="spacingAndGlyphs">2014</text><text x="1131.87" y="494.72" font-size="14.58" textLength="35.12" lengthAdjust="spacingAndGlyphs">2015</text><text x="1202.53" y="494.72" font-size="14.58" textLength="35.25" lengthAdjust="spacingAndGlyphs">2016</text><text x="1273.51" y="494.72" font-size="14.58" textLength="35.12" lengthAdjust="spacingAndGlyphs">2017</text><text x="1001.53" y="70.50" font-size="14.58" textLength="8.75" lengthAdjust="spacingAndGlyphs">0</text><text x="984.03" y="121.62" font-size="14.58" textLength="26.25" lengthAdjust="spacingAndGlyphs">250</text><text x="984.03" y="172.75" font-size="14.58" textLength="26.25" lengthAdjust="spacingAndGlyphs">500</text><text x="984.03" y="223.88" font-size="14.58" textLength="26.25" lengthAdjust="spacingAndGlyphs">750</text><text x="975.15" y="275.00" font-size="14.58" textLength="35.12" lengthAdjust="spacingAndGlyphs">1000</text><text x="975.15" y="326.12" font-size="14.58" textLength="35.12" lengthAdjust="spacingAndGlyphs">1250</text><text x="975.15" y="377.25" font-size="14.58" textLength="35.12" lengthAdjust="spacingAndGlyphs">1500</text><text x="975.15" y="428.38" font-size="14.58" textLength="35.12" lengthAdjust="spacingAndGlyphs">1750</text><text x="975.28" y="479.50" font-size="14.58" textLength="35.00" lengthAdjust="spacingAndGlyphs">2000</text><text x="1079.50" y="56.93" font-size="17.50" textLength="173.00" lengthAdjust="spacingAndGlyphs">DOXY_ADJUSTED_QC</text><text x="1360.72" y="479.50" font-size="14.58" textLength="8.75" lengthAdjust="spacingAndGlyphs">0</text><text x="1360.72" y="428.38" font-size="14.58" textLength="8.88" lengthAdjust="spacingAndGlyphs">1</text><text x="1360.72" y="377.25" font-size="14.58" textLength="8.75" lengthAdjust="spacingAndGlyphs">2</text><text x="1360.72" y="326.12" font-size="14.58" textLength="8.75" lengthAdjust="spacingAndGlyphs">3</text><text x="1360.72" y="275.00" font-size="14.58" textLength="8.75" lengthAdjust="spacingAndGlyphs">4</text><text x="1360.72" y="223.88" font-size="14.58" textLength="8.75" lengthAdjust="spacingAndGlyphs">5</text><text x="1360.72" y="172.75" font-size="14.58" textLength="8.88" lengthAdjust="spacingAndGlyphs">6</text><text x="1360.72" y="121.62" font-size="14.58" textLength="8.75" lengthAdjust="spacingAndGlyphs">7</text><text x="1360.72" y="70.50" font-size="14.58" textLength="8.88" lengthAdjust="spacingAndGlyphs">8</text><text x="214.62" y="981.72" font-size="14.58" textLength="35.12" lengthAdjust="spacingAndGlyphs">2014</text><text x="302.79" y="981.72" font-size="14.58" textLength="35.12" lengthAdjust="spacingAndGlyphs">2015</text><text x="390.89" y="981.72" font-size="14.58" textLength="35.25" lengthAdjust="spacingAndGlyphs">2016</text><text x="479.35" y="981.72" font-size="14.58" textLength="35.12" lengthAdjust="spacingAndGlyphs">2017</text><text x="80.90" y="966.50" font-size="14.58" textLength="68.38" lengthAdjust="spacingAndGlyphs">Real Time</text><text x="15.65" y="772.94" font-size="14.58" textLength="133.62" lengthAdjust="spacingAndGlyphs">Real Time Adjusted</text><text x="49.65" y="579.37" font-size="14.58" textLength="99.62" lengthAdjust="spacingAndGlyphs">Delayed Mode</text><text x="237.69" y="525.67" font-size="17.50" textLength="201.38" lengthAdjust="spacingAndGlyphs">Mode. Blue=D, Red=RT,</text><text x="234.19" y="543.67" font-size="17.50" textLength="213.62" lengthAdjust="spacingAndGlyphs">Gray=Real Time Adjusted</text><text x="630.15" y="981.72" font-size="14.58" textLength="35.12" lengthAdjust="spacingAndGlyphs">2014</text><text x="700.87" y="981.72" font-size="14.58" textLength="35.12" lengthAdjust="spacingAndGlyphs">2015</text><text x="771.53" y="981.72" font-size="14.58" textLength="35.25" lengthAdjust="spacingAndGlyphs">2016</text><text x="842.51" y="981.72" font-size="14.58" textLength="35.12" lengthAdjust="spacingAndGlyphs">2017</text><text x="570.53" y="557.50" font-size="14.58" textLength="8.75" lengthAdjust="spacingAndGlyphs">0</text><text x="553.03" y="608.62" font-size="14.58" textLength="26.25" lengthAdjust="spacingAndGlyphs">250</text><text x="553.03" y="659.75" font-size="14.58" textLength="26.25" lengthAdjust="spacingAndGlyphs">500</text><text x="553.03" y="710.88" font-size="14.58" textLength="26.25" lengthAdjust="spacingAndGlyphs">750</text><text x="544.15" y="762.00" font-size="14.58" textLength="35.12" lengthAdjust="spacingAndGlyphs">1000</text><text x="544.15" y="813.12" font-size="14.58" textLength="35.12" lengthAdjust="spacingAndGlyphs">1250</text><text x="544.15" y="864.25" font-size="14.58" textLength="35.12" lengthAdjust="spacingAndGlyphs">1500</text><text x="544.15" y="915.38" font-size="14.58" textLength="35.12" lengthAdjust="spacingAndGlyphs">1750</text><text x="544.28" y="966.50" font-size="14.58" textLength="35.00" lengthAdjust="spacingAndGlyphs">2000</text><text x="606.69" y="525.93" font-size="17.50" textLength="256.62" lengthAdjust="spacingAndGlyphs">DOXY_ADJUSTED_BGCArgoPlus</text><text x="515.75" y="543.93" font-size="17.50" textLength="438.50" lengthAdjust="spacingAndGlyphs">Processing: F_DMonly_S_OR_OR_OR_OR_OR_OR_OR_</text><text x="929.72" y="932.06" font-size="14.58" textLength="17.50" lengthAdjust="spacingAndGlyphs">50</text><text x="929.72" y="865.05" font-size="14.58" textLength="26.38" lengthAdjust="spacingAndGlyphs">100</text><text x="929.72" y="798.05" font-size="14.58" textLength="26.38" lengthAdjust="spacingAndGlyphs">150</text><text x="929.72" y="731.04" font-size="14.58" textLength="26.25" lengthAdjust="spacingAndGlyphs">200</text><text x="929.72" y="664.04" font-size="14.58" textLength="26.25" lengthAdjust="spacingAndGlyphs">250</text><text x="929.72" y="597.03" font-size="14.58" textLength="26.25" lengthAdjust="spacingAndGlyphs">300</text><text x="1075.83" y="981.72" font-size="14.58" textLength="35.12" lengthAdjust="spacingAndGlyphs">2014</text><text x="1164.23" y="981.72" font-size="14.58" textLength="35.12" lengthAdjust="spacingAndGlyphs">2015</text><text x="1252.57" y="981.72" font-size="14.58" textLength="35.25" lengthAdjust="spacingAndGlyphs">2016</text><text x="1341.28" y="981.72" font-size="14.58" textLength="35.12" lengthAdjust="spacingAndGlyphs">2017</text><text x="1001.53" y="557.50" font-size="14.58" textLength="8.75" lengthAdjust="spacingAndGlyphs">0</text><text x="984.03" y="608.62" font-size="14.58" textLength="26.25" lengthAdjust="spacingAndGlyphs">250</text><text x="984.03" y="659.75" font-size="14.58" textLength="26.25" lengthAdjust="spacingAndGlyphs">500</text><text x="984.03" y="710.88" font-size="14.58" textLength="26.25" lengthAdjust="spacingAndGlyphs">750</text><text x="975.15" y="762.00" font-size="14.58" textLength="35.12" lengthAdjust="spacingAndGlyphs">1000</text><text x="975.15" y="813.12" font-size="14.58" textLength="35.12" lengthAdjust="spacingAndGlyphs">1250</text><text x="975.15" y="864.25" font-size="14.58" textLength="35.12" lengthAdjust="spacingAndGlyphs">1500</text><text x="975.15" y="915.38" font-size="14.58" textLength="35.12" lengthAdjust="spacingAndGlyphs">1750</text><text x="975.28" y="966.50" font-size="14.58" textLength="35.00" lengthAdjust="spacingAndGlyphs">2000</text><text x="1128.25" y="543.67" font-size="17.50" textLength="148.50" lengthAdjust="spacingAndGlyphs">Outliers Removed</text><text x="493.69" y="34.00" font-size="17.50" textLength="412.62" lengthAdjust="spacingAndGlyphs">5904033, 304 profiles, 2013-03-04 to 2017-04-19</text><text x="1329.90" y="575.80" font-size="14.58" textLength="41.60" lengthAdjust="spacingAndGlyphs">profile</text></g></svg></body></html>
